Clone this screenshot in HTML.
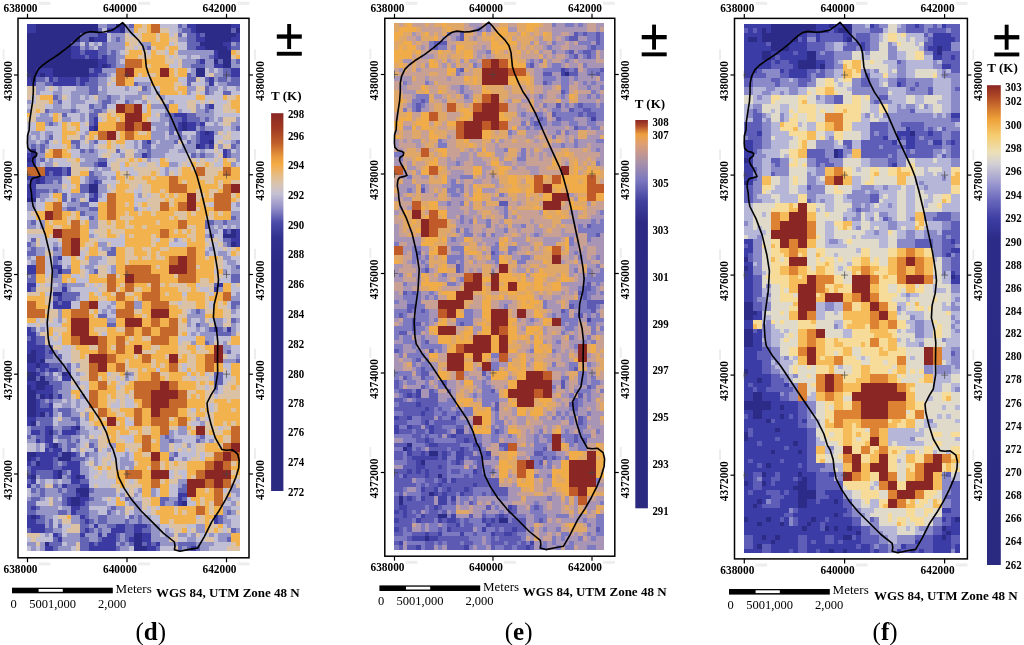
<!DOCTYPE html>
<html><head><meta charset="utf-8"><style>
html,body{margin:0;padding:0;background:#fff;}
svg{display:block;}
.b{font-family:'Liberation Serif','Times New Roman',serif;font-weight:bold;font-size:12px;fill:#000;}
.r{font-family:'Liberation Serif','Times New Roman',serif;font-size:12px;fill:#000;}
</style></head><body>
<svg width="1024" height="645" viewBox="0 0 1024 645">
<rect width="1024" height="645" fill="#fff"/>
<rect x="18.0" y="18.3" width="231.00" height="539.50" fill="#fff" stroke="#000" stroke-width="1.5"/>
<g transform="translate(26.8 23.7) scale(4.4479 4.4653)" shape-rendering="crispEdges">
<path fill="#2c2c88" d="M2 0h14v1h-14zM20 0h2v1h-2zM38 0h8v1h-8zM2 1h14v1h-14zM21 1h1v1h-1zM38 1h8v1h-8zM47 1h1v1h-1zM0 2h12v1h-12zM40 2h7v1h-7zM0 3h12v1h-12zM14 3h1v1h-1zM40 3h6v1h-6zM0 4h10v1h-10zM39 4h5v1h-5zM0 5h10v1h-10zM40 5h5v1h-5zM0 6h10v1h-10zM43 6h3v1h-3zM0 7h10v1h-10zM43 7h3v1h-3zM0 8h16v1h-16zM42 8h1v1h-1zM44 8h2v1h-2zM0 9h16v1h-16zM17 9h1v1h-1zM44 9h2v1h-2zM0 10h2v1h-2zM6 10h8v1h-8zM38 10h2v1h-2zM0 11h2v1h-2zM3 11h1v1h-1zM6 11h8v1h-8zM38 11h2v1h-2zM1 12h1v1h-1zM35 22h1v1h-1zM15 23h1v1h-1zM35 23h1v1h-1zM40 24h1v1h-1zM41 26h1v1h-1zM38 27h1v1h-1zM1 28h1v1h-1zM1 29h1v1h-1zM0 30h1v1h-1zM2 34h1v1h-1zM2 35h1v1h-1zM14 36h2v1h-2zM14 37h2v1h-2zM0 39h2v1h-2zM46 46h1v1h-1zM44 47h3v1h-3zM46 49h1v1h-1zM7 55h1v1h-1zM6 60h2v1h-2zM1 73h1v1h-1zM0 74h2v1h-2zM0 75h2v1h-2zM3 75h1v1h-1zM2 76h1v1h-1zM0 78h2v1h-2zM8 78h1v1h-1zM0 79h2v1h-2zM3 79h1v1h-1zM2 80h3v1h-3zM0 81h1v1h-1zM2 81h2v1h-2zM0 82h2v1h-2zM0 83h2v1h-2zM3 83h1v1h-1zM5 83h1v1h-1zM0 84h2v1h-2zM0 85h2v1h-2zM0 86h2v1h-2zM0 87h2v1h-2zM3 87h1v1h-1zM1 89h1v1h-1zM11 90h1v1h-1zM5 91h1v1h-1zM6 94h1v1h-1zM0 96h2v1h-2zM8 96h2v1h-2zM0 97h1v1h-1zM7 97h3v1h-3zM2 98h1v1h-1zM7 100h1v1h-1zM1 101h1v1h-1zM7 101h1v1h-1zM11 101h1v1h-1zM11 104h3v1h-3zM12 105h2v1h-2zM10 106h2v1h-2zM10 107h2v1h-2zM35 107h1v1h-1zM1 110h1v1h-1zM24 114h2v1h-2zM24 115h2v1h-2zM4 116h1v1h-1zM24 116h2v1h-2zM24 117h3v1h-3z"/>
<path fill="#3a3aa2" d="M0 0h2v1h-2zM36 0h2v1h-2zM46 0h2v1h-2zM0 1h2v1h-2zM18 1h3v1h-3zM37 1h1v1h-1zM16 2h2v1h-2zM38 2h1v1h-1zM47 2h1v1h-1zM15 3h3v1h-3zM38 3h2v1h-2zM46 3h2v1h-2zM44 4h2v1h-2zM10 5h2v1h-2zM38 5h2v1h-2zM45 5h1v1h-1zM10 6h2v1h-2zM13 6h3v1h-3zM42 6h1v1h-1zM10 7h3v1h-3zM14 7h2v1h-2zM17 7h1v1h-1zM42 7h1v1h-1zM16 8h2v1h-2zM39 8h1v1h-1zM16 9h1v1h-1zM18 9h1v1h-1zM42 9h2v1h-2zM2 10h4v1h-4zM15 10h2v1h-2zM46 10h2v1h-2zM2 11h1v1h-1zM4 11h2v1h-2zM14 11h2v1h-2zM46 11h2v1h-2zM0 12h1v1h-1zM5 12h1v1h-1zM7 12h4v1h-4zM12 12h2v1h-2zM41 12h1v1h-1zM0 13h2v1h-2zM6 13h5v1h-5zM12 13h1v1h-1zM41 13h1v1h-1zM41 18h1v1h-1zM33 20h3v1h-3zM15 21h1v1h-1zM35 21h1v1h-1zM15 22h1v1h-1zM34 22h1v1h-1zM36 22h2v1h-2zM39 22h1v1h-1zM14 23h1v1h-1zM34 23h1v1h-1zM36 23h2v1h-2zM39 24h1v1h-1zM41 24h1v1h-1zM39 25h3v1h-3zM27 26h1v1h-1zM39 26h2v1h-2zM39 27h1v1h-1zM41 27h1v1h-1zM44 28h1v1h-1zM0 29h1v1h-1zM26 29h1v1h-1zM44 29h1v1h-1zM1 30h1v1h-1zM0 31h2v1h-2zM16 31h2v1h-2zM4 32h4v1h-4zM9 32h1v1h-1zM4 33h1v1h-1zM6 33h2v1h-2zM9 33h1v1h-1zM0 34h2v1h-2zM3 34h1v1h-1zM1 35h1v1h-1zM3 35h1v1h-1zM15 35h1v1h-1zM0 36h2v1h-2zM0 37h2v1h-2zM0 38h2v1h-2zM15 38h1v1h-1zM14 39h2v1h-2zM44 46h1v1h-1zM47 46h1v1h-1zM47 47h1v1h-1zM46 48h2v1h-2zM47 49h1v1h-1zM7 52h1v1h-1zM0 54h2v1h-2zM6 54h2v1h-2zM0 55h2v1h-2zM0 58h2v1h-2zM43 58h1v1h-1zM0 59h1v1h-1zM8 59h1v1h-1zM42 59h1v1h-1zM7 61h1v1h-1zM6 62h1v1h-1zM8 62h2v1h-2zM6 63h4v1h-4zM0 68h1v1h-1zM42 68h1v1h-1zM45 68h1v1h-1zM0 69h2v1h-2zM1 70h1v1h-1zM0 71h2v1h-2zM0 72h4v1h-4zM0 73h1v1h-1zM2 73h2v1h-2zM5 73h1v1h-1zM2 74h2v1h-2zM2 75h1v1h-1zM0 76h2v1h-2zM3 76h2v1h-2zM0 77h2v1h-2zM3 77h1v1h-1zM5 77h2v1h-2zM2 78h1v1h-1zM9 78h1v1h-1zM8 79h2v1h-2zM0 80h2v1h-2zM1 81h1v1h-1zM4 81h2v1h-2zM2 82h4v1h-4zM4 83h1v1h-1zM7 83h1v1h-1zM2 84h1v1h-1zM2 85h1v1h-1zM5 85h1v1h-1zM2 86h4v1h-4zM2 87h1v1h-1zM5 87h1v1h-1zM0 88h2v1h-2zM0 89h1v1h-1zM4 90h2v1h-2zM10 90h1v1h-1zM1 91h2v1h-2zM4 91h1v1h-1zM8 91h3v1h-3zM4 92h2v1h-2zM2 93h1v1h-1zM4 93h2v1h-2zM5 94h1v1h-1zM4 95h1v1h-1zM6 95h2v1h-2zM2 96h5v1h-5zM10 96h1v1h-1zM1 97h1v1h-1zM3 97h3v1h-3zM0 98h1v1h-1zM3 98h3v1h-3zM9 98h3v1h-3zM1 99h5v1h-5zM8 99h4v1h-4zM1 100h1v1h-1zM6 100h1v1h-1zM10 100h2v1h-2zM0 101h1v1h-1zM6 101h1v1h-1zM10 101h1v1h-1zM12 101h1v1h-1zM1 102h1v1h-1zM10 102h2v1h-2zM0 103h1v1h-1zM8 103h1v1h-1zM12 103h2v1h-2zM11 105h1v1h-1zM34 105h2v1h-2zM9 106h1v1h-1zM12 106h2v1h-2zM34 106h1v1h-1zM9 107h1v1h-1zM12 107h1v1h-1zM34 107h1v1h-1zM1 108h1v1h-1zM10 108h2v1h-2zM10 109h1v1h-1zM0 110h1v1h-1zM2 110h1v1h-1zM12 110h1v1h-1zM42 110h1v1h-1zM0 111h2v1h-2zM13 111h1v1h-1zM42 111h1v1h-1zM0 112h4v1h-4zM15 112h1v1h-1zM20 112h2v1h-2zM24 112h3v1h-3zM1 113h3v1h-3zM13 113h1v1h-1zM19 113h3v1h-3zM24 113h2v1h-2zM6 114h1v1h-1zM12 114h1v1h-1zM16 114h1v1h-1zM18 114h2v1h-2zM26 114h2v1h-2zM7 115h1v1h-1zM17 115h3v1h-3zM23 115h1v1h-1zM26 115h2v1h-2zM14 116h1v1h-1zM16 116h4v1h-4zM27 116h1v1h-1zM29 116h1v1h-1zM4 117h2v1h-2zM14 117h6v1h-6zM27 117h2v1h-2zM37 117h1v1h-1z"/>
<path fill="#6464b4" d="M18 0h2v1h-2zM23 0h1v1h-1zM34 0h1v1h-1zM16 1h1v1h-1zM35 1h2v1h-2zM46 1h1v1h-1zM12 2h4v1h-4zM34 2h1v1h-1zM36 2h2v1h-2zM39 2h1v1h-1zM12 3h2v1h-2zM20 3h1v1h-1zM36 3h2v1h-2zM10 4h2v1h-2zM13 4h1v1h-1zM17 4h1v1h-1zM36 4h3v1h-3zM47 4h1v1h-1zM13 5h1v1h-1zM16 5h2v1h-2zM27 5h1v1h-1zM36 5h2v1h-2zM46 5h2v1h-2zM12 6h1v1h-1zM16 6h2v1h-2zM19 6h1v1h-1zM13 7h1v1h-1zM16 7h1v1h-1zM18 7h2v1h-2zM41 7h1v1h-1zM18 8h2v1h-2zM38 8h1v1h-1zM43 8h1v1h-1zM47 8h1v1h-1zM19 9h1v1h-1zM37 9h3v1h-3zM14 10h1v1h-1zM44 10h2v1h-2zM16 11h2v1h-2zM36 11h1v1h-1zM44 11h2v1h-2zM2 12h2v1h-2zM6 12h1v1h-1zM11 12h1v1h-1zM14 12h2v1h-2zM36 12h2v1h-2zM40 12h1v1h-1zM43 12h2v1h-2zM46 12h2v1h-2zM4 13h2v1h-2zM11 13h1v1h-1zM13 13h3v1h-3zM24 13h1v1h-1zM36 13h1v1h-1zM45 13h3v1h-3zM14 14h2v1h-2zM26 14h1v1h-1zM40 14h1v1h-1zM14 15h2v1h-2zM40 15h1v1h-1zM44 15h2v1h-2zM6 16h1v1h-1zM18 16h1v1h-1zM7 17h1v1h-1zM17 17h2v1h-2zM22 17h1v1h-1zM14 18h1v1h-1zM17 18h1v1h-1zM31 18h1v1h-1zM40 18h1v1h-1zM4 19h1v1h-1zM10 19h1v1h-1zM15 19h2v1h-2zM40 19h1v1h-1zM8 20h1v1h-1zM14 20h2v1h-2zM31 20h2v1h-2zM36 20h2v1h-2zM14 21h1v1h-1zM32 21h3v1h-3zM36 21h3v1h-3zM40 21h1v1h-1zM5 22h1v1h-1zM14 22h1v1h-1zM32 22h2v1h-2zM38 22h1v1h-1zM32 23h2v1h-2zM39 23h1v1h-1zM47 23h1v1h-1zM32 24h1v1h-1zM34 24h1v1h-1zM38 24h1v1h-1zM5 25h1v1h-1zM34 25h1v1h-1zM38 25h1v1h-1zM4 26h1v1h-1zM10 26h2v1h-2zM15 26h1v1h-1zM26 26h1v1h-1zM33 26h1v1h-1zM36 26h1v1h-1zM38 26h1v1h-1zM47 26h1v1h-1zM1 27h1v1h-1zM3 27h1v1h-1zM11 27h1v1h-1zM26 27h2v1h-2zM40 27h1v1h-1zM46 27h1v1h-1zM0 28h1v1h-1zM3 28h1v1h-1zM12 28h1v1h-1zM14 28h1v1h-1zM20 28h1v1h-1zM27 28h1v1h-1zM45 28h1v1h-1zM27 29h1v1h-1zM37 29h1v1h-1zM39 29h1v1h-1zM45 29h1v1h-1zM3 30h1v1h-1zM16 30h2v1h-2zM15 31h1v1h-1zM8 32h1v1h-1zM5 33h1v1h-1zM8 33h1v1h-1zM14 33h1v1h-1zM4 34h4v1h-4zM14 34h2v1h-2zM0 35h1v1h-1zM4 35h2v1h-2zM7 35h1v1h-1zM14 35h1v1h-1zM16 35h1v1h-1zM12 36h2v1h-2zM2 37h3v1h-3zM6 37h1v1h-1zM12 37h2v1h-2zM2 38h1v1h-1zM8 38h1v1h-1zM14 38h1v1h-1zM8 39h1v1h-1zM10 39h1v1h-1zM12 40h2v1h-2zM9 41h2v1h-2zM14 41h2v1h-2zM12 42h1v1h-1zM14 43h1v1h-1zM46 43h1v1h-1zM1 44h1v1h-1zM40 44h2v1h-2zM44 44h1v1h-1zM40 45h1v1h-1zM45 46h1v1h-1zM41 47h1v1h-1zM1 48h1v1h-1zM44 48h2v1h-2zM0 49h1v1h-1zM45 49h1v1h-1zM1 50h1v1h-1zM6 50h1v1h-1zM19 50h1v1h-1zM0 51h2v1h-2zM18 51h2v1h-2zM6 52h1v1h-1zM6 53h1v1h-1zM47 54h1v1h-1zM6 55h1v1h-1zM8 55h2v1h-2zM15 55h1v1h-1zM1 56h1v1h-1zM6 56h1v1h-1zM46 56h2v1h-2zM0 57h2v1h-2zM46 57h2v1h-2zM8 58h1v1h-1zM42 58h1v1h-1zM1 59h1v1h-1zM8 60h4v1h-4zM6 61h1v1h-1zM8 61h3v1h-3zM7 62h1v1h-1zM46 62h2v1h-2zM46 63h1v1h-1zM38 64h1v1h-1zM16 65h2v1h-2zM46 66h1v1h-1zM18 67h2v1h-2zM38 67h1v1h-1zM1 68h1v1h-1zM41 68h1v1h-1zM43 68h1v1h-1zM43 69h3v1h-3zM0 70h1v1h-1zM2 70h2v1h-2zM2 71h2v1h-2zM40 71h1v1h-1zM4 72h2v1h-2zM4 73h1v1h-1zM45 73h1v1h-1zM4 74h2v1h-2zM7 74h1v1h-1zM47 75h1v1h-1zM5 76h3v1h-3zM9 76h1v1h-1zM2 77h1v1h-1zM4 77h1v1h-1zM7 77h1v1h-1zM9 77h1v1h-1zM3 78h1v1h-1zM5 78h1v1h-1zM42 78h2v1h-2zM2 79h1v1h-1zM4 79h2v1h-2zM42 79h2v1h-2zM5 80h3v1h-3zM42 80h2v1h-2zM6 81h2v1h-2zM42 81h1v1h-1zM6 82h1v1h-1zM2 83h1v1h-1zM6 83h1v1h-1zM3 84h1v1h-1zM5 84h1v1h-1zM3 85h2v1h-2zM7 86h3v1h-3zM4 87h1v1h-1zM8 87h2v1h-2zM2 88h4v1h-4zM10 88h2v1h-2zM3 89h3v1h-3zM11 89h1v1h-1zM1 90h3v1h-3zM8 90h2v1h-2zM3 91h1v1h-1zM6 91h1v1h-1zM11 91h1v1h-1zM0 92h1v1h-1zM2 92h2v1h-2zM7 92h3v1h-3zM31 92h1v1h-1zM39 92h1v1h-1zM3 93h1v1h-1zM9 93h1v1h-1zM11 93h1v1h-1zM32 93h1v1h-1zM38 93h1v1h-1zM4 94h1v1h-1zM7 94h1v1h-1zM9 94h2v1h-2zM14 94h1v1h-1zM5 95h1v1h-1zM9 95h1v1h-1zM15 95h1v1h-1zM7 96h1v1h-1zM11 96h1v1h-1zM13 96h1v1h-1zM33 96h1v1h-1zM2 97h1v1h-1zM6 97h1v1h-1zM10 97h3v1h-3zM32 97h1v1h-1zM1 98h1v1h-1zM6 98h1v1h-1zM8 98h1v1h-1zM0 99h1v1h-1zM6 99h2v1h-2zM0 100h1v1h-1zM2 100h4v1h-4zM8 100h1v1h-1zM3 101h3v1h-3zM9 101h1v1h-1zM0 102h1v1h-1zM12 102h2v1h-2zM2 103h1v1h-1zM6 103h1v1h-1zM9 103h3v1h-3zM35 103h1v1h-1zM1 104h1v1h-1zM3 104h1v1h-1zM7 104h1v1h-1zM9 104h2v1h-2zM14 104h1v1h-1zM34 104h2v1h-2zM3 105h1v1h-1zM8 105h3v1h-3zM1 106h2v1h-2zM8 106h1v1h-1zM14 106h1v1h-1zM22 106h1v1h-1zM30 106h2v1h-2zM35 106h1v1h-1zM0 107h2v1h-2zM8 107h1v1h-1zM13 107h1v1h-1zM30 107h1v1h-1zM33 107h1v1h-1zM0 108h1v1h-1zM2 108h1v1h-1zM12 108h2v1h-2zM19 108h1v1h-1zM0 109h2v1h-2zM7 109h2v1h-2zM11 109h3v1h-3zM18 109h1v1h-1zM45 109h1v1h-1zM3 110h1v1h-1zM13 110h1v1h-1zM16 110h2v1h-2zM23 110h1v1h-1zM25 110h1v1h-1zM43 110h1v1h-1zM2 111h2v1h-2zM5 111h1v1h-1zM12 111h1v1h-1zM14 111h1v1h-1zM16 111h2v1h-2zM22 111h1v1h-1zM25 111h1v1h-1zM43 111h1v1h-1zM5 112h1v1h-1zM7 112h1v1h-1zM12 112h2v1h-2zM18 112h2v1h-2zM22 112h2v1h-2zM27 112h1v1h-1zM0 113h1v1h-1zM4 113h2v1h-2zM12 113h1v1h-1zM14 113h1v1h-1zM16 113h1v1h-1zM22 113h2v1h-2zM26 113h2v1h-2zM46 113h1v1h-1zM7 114h1v1h-1zM20 114h1v1h-1zM22 114h2v1h-2zM6 115h1v1h-1zM12 115h2v1h-2zM16 115h1v1h-1zM20 115h1v1h-1zM22 115h1v1h-1zM45 115h1v1h-1zM5 116h3v1h-3zM12 116h2v1h-2zM15 116h1v1h-1zM21 116h1v1h-1zM23 116h1v1h-1zM26 116h1v1h-1zM28 116h1v1h-1zM34 116h4v1h-4zM6 117h1v1h-1zM12 117h2v1h-2zM20 117h1v1h-1zM29 117h1v1h-1zM34 117h1v1h-1zM36 117h1v1h-1zM38 117h1v1h-1z"/>
<path fill="#9494c6" d="M16 0h2v1h-2zM22 0h1v1h-1zM35 0h1v1h-1zM22 1h2v1h-2zM34 1h1v1h-1zM19 2h3v1h-3zM19 3h1v1h-1zM21 3h1v1h-1zM34 3h2v1h-2zM15 4h1v1h-1zM18 4h4v1h-4zM26 4h2v1h-2zM46 4h1v1h-1zM12 5h1v1h-1zM14 5h1v1h-1zM18 5h4v1h-4zM26 5h1v1h-1zM18 6h1v1h-1zM20 6h1v1h-1zM34 6h8v1h-8zM20 7h2v1h-2zM36 7h1v1h-1zM39 7h2v1h-2zM20 8h1v1h-1zM35 8h3v1h-3zM40 8h2v1h-2zM46 8h1v1h-1zM20 9h2v1h-2zM35 9h2v1h-2zM40 9h2v1h-2zM46 9h2v1h-2zM17 10h3v1h-3zM37 10h1v1h-1zM41 10h1v1h-1zM43 10h1v1h-1zM18 11h1v1h-1zM37 11h1v1h-1zM42 11h2v1h-2zM4 12h1v1h-1zM16 12h2v1h-2zM42 12h1v1h-1zM45 12h1v1h-1zM2 13h2v1h-2zM16 13h2v1h-2zM25 13h3v1h-3zM40 13h1v1h-1zM43 13h2v1h-2zM2 14h2v1h-2zM7 14h1v1h-1zM11 14h3v1h-3zM17 14h1v1h-1zM22 14h1v1h-1zM27 14h1v1h-1zM36 14h2v1h-2zM41 14h2v1h-2zM44 14h1v1h-1zM47 14h1v1h-1zM2 15h1v1h-1zM6 15h2v1h-2zM10 15h4v1h-4zM16 15h2v1h-2zM25 15h3v1h-3zM29 15h1v1h-1zM36 15h1v1h-1zM41 15h1v1h-1zM7 16h1v1h-1zM10 16h2v1h-2zM13 16h1v1h-1zM16 16h2v1h-2zM19 16h2v1h-2zM22 16h4v1h-4zM30 16h1v1h-1zM0 17h1v1h-1zM6 17h1v1h-1zM10 17h3v1h-3zM16 17h1v1h-1zM19 17h1v1h-1zM23 17h1v1h-1zM26 17h1v1h-1zM32 17h1v1h-1zM6 18h2v1h-2zM10 18h1v1h-1zM15 18h2v1h-2zM28 18h3v1h-3zM38 18h1v1h-1zM0 19h1v1h-1zM5 19h5v1h-5zM11 19h1v1h-1zM14 19h1v1h-1zM17 19h1v1h-1zM31 19h1v1h-1zM34 19h1v1h-1zM38 19h2v1h-2zM41 19h1v1h-1zM3 20h2v1h-2zM12 20h1v1h-1zM30 20h1v1h-1zM38 20h4v1h-4zM2 21h4v1h-4zM8 21h2v1h-2zM12 21h1v1h-1zM30 21h2v1h-2zM39 21h1v1h-1zM41 21h1v1h-1zM43 21h1v1h-1zM47 21h1v1h-1zM4 22h1v1h-1zM6 22h1v1h-1zM28 22h3v1h-3zM42 22h1v1h-1zM46 22h2v1h-2zM29 23h3v1h-3zM38 23h1v1h-1zM40 23h4v1h-4zM46 23h1v1h-1zM1 24h2v1h-2zM4 24h2v1h-2zM13 24h1v1h-1zM28 24h3v1h-3zM42 24h1v1h-1zM0 25h1v1h-1zM2 25h1v1h-1zM4 25h1v1h-1zM12 25h1v1h-1zM28 25h3v1h-3zM32 25h2v1h-2zM35 25h1v1h-1zM37 25h1v1h-1zM0 26h2v1h-2zM3 26h1v1h-1zM14 26h1v1h-1zM24 26h1v1h-1zM28 26h1v1h-1zM30 26h3v1h-3zM37 26h1v1h-1zM46 26h1v1h-1zM0 27h1v1h-1zM2 27h1v1h-1zM4 27h1v1h-1zM10 27h1v1h-1zM14 27h1v1h-1zM24 27h1v1h-1zM29 27h4v1h-4zM35 27h3v1h-3zM43 27h1v1h-1zM47 27h1v1h-1zM2 28h1v1h-1zM13 28h1v1h-1zM15 28h1v1h-1zM25 28h2v1h-2zM28 28h4v1h-4zM34 28h4v1h-4zM39 28h1v1h-1zM47 28h1v1h-1zM2 29h2v1h-2zM12 29h4v1h-4zM21 29h1v1h-1zM24 29h2v1h-2zM28 29h3v1h-3zM38 29h1v1h-1zM40 29h2v1h-2zM46 29h2v1h-2zM2 30h1v1h-1zM5 30h1v1h-1zM13 30h3v1h-3zM27 30h1v1h-1zM47 30h1v1h-1zM2 31h1v1h-1zM4 31h2v1h-2zM12 31h3v1h-3zM32 31h2v1h-2zM46 31h1v1h-1zM15 32h1v1h-1zM17 32h2v1h-2zM31 32h1v1h-1zM15 33h2v1h-2zM31 33h1v1h-1zM13 34h1v1h-1zM16 34h2v1h-2zM19 34h1v1h-1zM6 35h1v1h-1zM13 35h1v1h-1zM2 36h6v1h-6zM16 36h2v1h-2zM5 37h1v1h-1zM7 37h1v1h-1zM16 37h2v1h-2zM3 38h2v1h-2zM10 38h3v1h-3zM16 38h1v1h-1zM25 38h1v1h-1zM3 39h1v1h-1zM11 39h1v1h-1zM0 40h2v1h-2zM9 40h3v1h-3zM47 40h1v1h-1zM0 41h2v1h-2zM8 41h1v1h-1zM11 41h3v1h-3zM24 41h1v1h-1zM13 42h3v1h-3zM46 42h2v1h-2zM15 43h1v1h-1zM47 43h1v1h-1zM0 44h1v1h-1zM3 44h1v1h-1zM14 44h2v1h-2zM42 44h2v1h-2zM45 44h3v1h-3zM0 45h2v1h-2zM3 45h1v1h-1zM14 45h2v1h-2zM41 45h1v1h-1zM43 45h1v1h-1zM45 45h1v1h-1zM47 45h1v1h-1zM41 46h2v1h-2zM14 47h1v1h-1zM40 47h1v1h-1zM33 48h1v1h-1zM1 49h1v1h-1zM6 49h1v1h-1zM16 49h2v1h-2zM44 49h1v1h-1zM0 50h1v1h-1zM2 50h2v1h-2zM7 50h1v1h-1zM17 50h2v1h-2zM41 50h1v1h-1zM2 51h2v1h-2zM6 51h2v1h-2zM40 51h1v1h-1zM43 51h2v1h-2zM0 52h1v1h-1zM14 52h3v1h-3zM44 52h2v1h-2zM1 53h1v1h-1zM7 53h1v1h-1zM14 53h2v1h-2zM45 53h2v1h-2zM9 54h1v1h-1zM13 54h2v1h-2zM19 54h1v1h-1zM46 54h1v1h-1zM14 55h1v1h-1zM19 55h1v1h-1zM44 55h1v1h-1zM46 55h2v1h-2zM0 56h1v1h-1zM7 56h1v1h-1zM6 57h2v1h-2zM7 58h1v1h-1zM9 58h4v1h-4zM6 59h2v1h-2zM9 59h1v1h-1zM43 59h1v1h-1zM47 60h1v1h-1zM11 61h1v1h-1zM46 61h2v1h-2zM19 62h1v1h-1zM24 62h2v1h-2zM18 63h1v1h-1zM24 63h2v1h-2zM47 63h1v1h-1zM7 64h1v1h-1zM17 64h1v1h-1zM19 64h1v1h-1zM37 64h1v1h-1zM39 64h1v1h-1zM46 64h1v1h-1zM7 65h1v1h-1zM36 65h4v1h-4zM7 66h1v1h-1zM18 66h2v1h-2zM36 66h1v1h-1zM39 66h1v1h-1zM42 66h2v1h-2zM47 66h1v1h-1zM36 67h1v1h-1zM39 67h2v1h-2zM42 67h2v1h-2zM46 67h1v1h-1zM3 68h1v1h-1zM38 68h1v1h-1zM40 68h1v1h-1zM44 68h1v1h-1zM46 68h1v1h-1zM2 69h1v1h-1zM37 69h1v1h-1zM39 69h4v1h-4zM46 69h1v1h-1zM40 70h2v1h-2zM37 71h1v1h-1zM41 71h1v1h-1zM44 71h1v1h-1zM44 72h2v1h-2zM6 73h1v1h-1zM44 73h1v1h-1zM6 74h1v1h-1zM47 74h1v1h-1zM4 75h4v1h-4zM44 75h3v1h-3zM8 76h1v1h-1zM11 76h1v1h-1zM8 77h1v1h-1zM4 78h1v1h-1zM7 78h1v1h-1zM11 78h1v1h-1zM22 78h2v1h-2zM6 79h1v1h-1zM22 79h1v1h-1zM8 80h2v1h-2zM11 80h1v1h-1zM8 81h2v1h-2zM7 82h3v1h-3zM42 82h1v1h-1zM8 83h2v1h-2zM12 83h1v1h-1zM4 84h1v1h-1zM6 84h2v1h-2zM9 84h1v1h-1zM11 84h1v1h-1zM8 85h2v1h-2zM11 85h1v1h-1zM6 86h1v1h-1zM10 86h1v1h-1zM6 87h1v1h-1zM10 87h2v1h-2zM13 87h1v1h-1zM8 88h2v1h-2zM13 88h1v1h-1zM38 88h1v1h-1zM2 89h1v1h-1zM7 89h4v1h-4zM39 89h1v1h-1zM0 90h1v1h-1zM6 90h2v1h-2zM12 90h1v1h-1zM15 90h1v1h-1zM34 90h2v1h-2zM0 91h1v1h-1zM7 91h1v1h-1zM12 91h2v1h-2zM32 91h1v1h-1zM34 91h2v1h-2zM1 92h1v1h-1zM6 92h1v1h-1zM10 92h2v1h-2zM13 92h1v1h-1zM30 92h1v1h-1zM32 92h1v1h-1zM38 92h1v1h-1zM0 93h2v1h-2zM7 93h2v1h-2zM10 93h1v1h-1zM14 93h2v1h-2zM30 93h2v1h-2zM33 93h2v1h-2zM39 93h1v1h-1zM41 93h1v1h-1zM2 94h1v1h-1zM8 94h1v1h-1zM11 94h1v1h-1zM15 94h1v1h-1zM19 94h1v1h-1zM30 94h2v1h-2zM36 94h1v1h-1zM2 95h1v1h-1zM8 95h1v1h-1zM11 95h1v1h-1zM18 95h1v1h-1zM30 95h2v1h-2zM14 96h2v1h-2zM22 96h1v1h-1zM32 96h1v1h-1zM13 97h1v1h-1zM15 97h1v1h-1zM21 97h2v1h-2zM35 97h1v1h-1zM7 98h1v1h-1zM12 98h1v1h-1zM15 98h1v1h-1zM21 98h3v1h-3zM12 99h2v1h-2zM21 99h1v1h-1zM23 99h1v1h-1zM9 100h1v1h-1zM12 100h2v1h-2zM2 101h1v1h-1zM8 101h1v1h-1zM13 101h1v1h-1zM3 102h1v1h-1zM6 102h1v1h-1zM8 102h2v1h-2zM34 102h2v1h-2zM1 103h1v1h-1zM3 103h1v1h-1zM7 103h1v1h-1zM34 103h1v1h-1zM46 103h1v1h-1zM2 104h1v1h-1zM4 104h3v1h-3zM8 104h1v1h-1zM15 104h5v1h-5zM25 104h1v1h-1zM28 104h1v1h-1zM46 104h2v1h-2zM1 105h2v1h-2zM4 105h4v1h-4zM14 105h6v1h-6zM21 105h1v1h-1zM24 105h1v1h-1zM28 105h1v1h-1zM47 105h1v1h-1zM0 106h1v1h-1zM3 106h1v1h-1zM6 106h1v1h-1zM15 106h2v1h-2zM23 106h1v1h-1zM32 106h2v1h-2zM45 106h1v1h-1zM6 107h2v1h-2zM14 107h4v1h-4zM23 107h3v1h-3zM31 107h2v1h-2zM46 107h1v1h-1zM3 108h4v1h-4zM8 108h2v1h-2zM18 108h1v1h-1zM20 108h2v1h-2zM24 108h2v1h-2zM44 108h2v1h-2zM2 109h5v1h-5zM9 109h1v1h-1zM14 109h2v1h-2zM19 109h1v1h-1zM21 109h1v1h-1zM24 109h2v1h-2zM44 109h1v1h-1zM46 109h1v1h-1zM4 110h2v1h-2zM10 110h2v1h-2zM14 110h2v1h-2zM18 110h4v1h-4zM24 110h1v1h-1zM26 110h2v1h-2zM44 110h1v1h-1zM4 111h1v1h-1zM7 111h1v1h-1zM10 111h2v1h-2zM15 111h1v1h-1zM18 111h4v1h-4zM23 111h2v1h-2zM26 111h2v1h-2zM44 111h2v1h-2zM4 112h1v1h-1zM14 112h1v1h-1zM16 112h2v1h-2zM28 112h2v1h-2zM38 112h2v1h-2zM45 112h1v1h-1zM6 113h2v1h-2zM15 113h1v1h-1zM17 113h2v1h-2zM28 113h2v1h-2zM31 113h1v1h-1zM38 113h2v1h-2zM47 113h1v1h-1zM4 114h1v1h-1zM9 114h3v1h-3zM13 114h3v1h-3zM17 114h1v1h-1zM21 114h1v1h-1zM28 114h2v1h-2zM31 114h2v1h-2zM34 114h2v1h-2zM37 114h1v1h-1zM41 114h1v1h-1zM43 114h3v1h-3zM8 115h4v1h-4zM14 115h2v1h-2zM21 115h1v1h-1zM28 115h4v1h-4zM36 115h2v1h-2zM43 115h2v1h-2zM0 116h2v1h-2zM3 116h1v1h-1zM9 116h2v1h-2zM20 116h1v1h-1zM22 116h1v1h-1zM30 116h4v1h-4zM38 116h4v1h-4zM1 117h1v1h-1zM3 117h1v1h-1zM7 117h3v1h-3zM21 117h2v1h-2zM35 117h1v1h-1zM39 117h2v1h-2z"/>
<path fill="#c0bed4" d="M30 0h4v1h-4zM17 1h1v1h-1zM32 1h2v1h-2zM18 2h1v1h-1zM23 2h2v1h-2zM32 2h1v1h-1zM35 2h1v1h-1zM18 3h1v1h-1zM12 4h1v1h-1zM14 4h1v1h-1zM16 4h1v1h-1zM25 4h1v1h-1zM32 4h1v1h-1zM34 4h2v1h-2zM15 5h1v1h-1zM24 5h1v1h-1zM34 5h2v1h-2zM21 6h1v1h-1zM27 6h1v1h-1zM31 6h1v1h-1zM32 7h1v1h-1zM34 7h2v1h-2zM37 7h2v1h-2zM21 8h1v1h-1zM33 8h1v1h-1zM32 9h2v1h-2zM36 10h1v1h-1zM40 10h1v1h-1zM42 10h1v1h-1zM19 11h1v1h-1zM40 11h1v1h-1zM18 12h1v1h-1zM24 12h4v1h-4zM34 12h2v1h-2zM39 12h1v1h-1zM19 13h1v1h-1zM35 13h1v1h-1zM37 13h3v1h-3zM42 13h1v1h-1zM4 14h1v1h-1zM6 14h1v1h-1zM8 14h3v1h-3zM16 14h1v1h-1zM18 14h4v1h-4zM23 14h2v1h-2zM28 14h2v1h-2zM43 14h1v1h-1zM45 14h2v1h-2zM3 15h3v1h-3zM8 15h2v1h-2zM18 15h7v1h-7zM28 15h1v1h-1zM37 15h1v1h-1zM39 15h1v1h-1zM42 15h2v1h-2zM46 15h2v1h-2zM1 16h1v1h-1zM9 16h1v1h-1zM12 16h1v1h-1zM14 16h1v1h-1zM21 16h1v1h-1zM27 16h2v1h-2zM31 16h7v1h-7zM40 16h4v1h-4zM1 17h1v1h-1zM8 17h2v1h-2zM13 17h3v1h-3zM20 17h2v1h-2zM24 17h2v1h-2zM28 17h2v1h-2zM31 17h1v1h-1zM33 17h3v1h-3zM38 17h1v1h-1zM40 17h1v1h-1zM42 17h3v1h-3zM0 18h1v1h-1zM4 18h2v1h-2zM8 18h2v1h-2zM11 18h3v1h-3zM18 18h2v1h-2zM26 18h1v1h-1zM34 18h2v1h-2zM39 18h1v1h-1zM42 18h2v1h-2zM12 19h2v1h-2zM26 19h1v1h-1zM28 19h3v1h-3zM35 19h2v1h-2zM42 19h2v1h-2zM2 20h1v1h-1zM5 20h1v1h-1zM9 20h3v1h-3zM13 20h1v1h-1zM28 20h1v1h-1zM42 20h6v1h-6zM10 21h2v1h-2zM13 21h1v1h-1zM16 21h1v1h-1zM28 21h2v1h-2zM42 21h1v1h-1zM0 22h2v1h-2zM7 22h1v1h-1zM12 22h1v1h-1zM31 22h1v1h-1zM40 22h2v1h-2zM43 22h1v1h-1zM0 23h2v1h-2zM4 23h4v1h-4zM12 23h2v1h-2zM28 23h1v1h-1zM44 23h2v1h-2zM0 24h1v1h-1zM3 24h1v1h-1zM6 24h2v1h-2zM12 24h1v1h-1zM31 24h1v1h-1zM33 24h1v1h-1zM35 24h3v1h-3zM44 24h1v1h-1zM46 24h2v1h-2zM1 25h1v1h-1zM3 25h1v1h-1zM6 25h2v1h-2zM31 25h1v1h-1zM36 25h1v1h-1zM42 25h2v1h-2zM46 25h2v1h-2zM2 26h1v1h-1zM5 26h1v1h-1zM7 26h1v1h-1zM12 26h1v1h-1zM16 26h2v1h-2zM22 26h2v1h-2zM25 26h1v1h-1zM29 26h1v1h-1zM35 26h1v1h-1zM42 26h1v1h-1zM44 26h2v1h-2zM5 27h3v1h-3zM12 27h2v1h-2zM15 27h1v1h-1zM20 27h1v1h-1zM22 27h2v1h-2zM25 27h1v1h-1zM28 27h1v1h-1zM33 27h2v1h-2zM10 28h2v1h-2zM16 28h2v1h-2zM21 28h1v1h-1zM24 28h1v1h-1zM32 28h2v1h-2zM38 28h1v1h-1zM40 28h2v1h-2zM43 28h1v1h-1zM46 28h1v1h-1zM10 29h2v1h-2zM16 29h1v1h-1zM19 29h2v1h-2zM31 29h6v1h-6zM42 29h1v1h-1zM4 30h1v1h-1zM6 30h3v1h-3zM12 30h1v1h-1zM18 30h2v1h-2zM28 30h2v1h-2zM32 30h4v1h-4zM38 30h1v1h-1zM40 30h2v1h-2zM43 30h1v1h-1zM3 31h1v1h-1zM7 31h3v1h-3zM18 31h1v1h-1zM21 31h1v1h-1zM25 31h2v1h-2zM29 31h1v1h-1zM34 31h1v1h-1zM36 31h1v1h-1zM42 31h2v1h-2zM47 31h1v1h-1zM14 32h1v1h-1zM16 32h1v1h-1zM21 32h3v1h-3zM30 32h1v1h-1zM32 32h2v1h-2zM17 33h3v1h-3zM23 33h2v1h-2zM30 33h1v1h-1zM33 33h1v1h-1zM8 34h1v1h-1zM12 34h1v1h-1zM18 34h1v1h-1zM8 35h2v1h-2zM12 35h1v1h-1zM17 35h3v1h-3zM9 36h1v1h-1zM19 36h1v1h-1zM25 36h1v1h-1zM8 37h2v1h-2zM18 37h1v1h-1zM24 37h2v1h-2zM5 38h1v1h-1zM9 38h1v1h-1zM13 38h1v1h-1zM17 38h1v1h-1zM24 38h1v1h-1zM27 38h1v1h-1zM2 39h1v1h-1zM4 39h2v1h-2zM9 39h1v1h-1zM13 39h1v1h-1zM16 39h2v1h-2zM24 39h3v1h-3zM2 40h2v1h-2zM8 40h1v1h-1zM14 40h2v1h-2zM24 40h1v1h-1zM41 40h1v1h-1zM46 40h1v1h-1zM2 41h2v1h-2zM25 41h1v1h-1zM27 41h1v1h-1zM46 41h2v1h-2zM0 42h1v1h-1zM0 43h2v1h-2zM12 43h2v1h-2zM2 44h1v1h-1zM2 45h1v1h-1zM42 45h1v1h-1zM44 45h1v1h-1zM46 45h1v1h-1zM14 46h1v1h-1zM40 46h1v1h-1zM43 46h1v1h-1zM0 47h4v1h-4zM15 47h1v1h-1zM21 47h1v1h-1zM42 47h2v1h-2zM0 48h1v1h-1zM3 48h4v1h-4zM16 48h6v1h-6zM29 48h1v1h-1zM34 48h1v1h-1zM40 48h1v1h-1zM43 48h1v1h-1zM3 49h3v1h-3zM7 49h1v1h-1zM19 49h3v1h-3zM32 49h4v1h-4zM41 49h2v1h-2zM4 50h2v1h-2zM13 50h1v1h-1zM16 50h1v1h-1zM40 50h1v1h-1zM42 50h2v1h-2zM45 50h1v1h-1zM12 51h1v1h-1zM41 51h2v1h-2zM45 51h1v1h-1zM1 52h1v1h-1zM4 52h2v1h-2zM8 52h2v1h-2zM12 52h1v1h-1zM17 52h1v1h-1zM46 52h2v1h-2zM0 53h1v1h-1zM4 53h2v1h-2zM8 53h2v1h-2zM16 53h2v1h-2zM44 53h1v1h-1zM47 53h1v1h-1zM4 54h2v1h-2zM8 54h1v1h-1zM12 54h1v1h-1zM15 54h1v1h-1zM18 54h1v1h-1zM44 54h2v1h-2zM4 55h2v1h-2zM13 55h1v1h-1zM18 55h1v1h-1zM42 55h1v1h-1zM45 55h1v1h-1zM4 56h1v1h-1zM10 56h2v1h-2zM13 56h1v1h-1zM44 56h2v1h-2zM11 57h3v1h-3zM43 57h3v1h-3zM2 58h1v1h-1zM4 58h3v1h-3zM14 58h1v1h-1zM16 58h1v1h-1zM38 58h1v1h-1zM46 58h1v1h-1zM10 59h6v1h-6zM39 59h2v1h-2zM46 59h2v1h-2zM4 60h2v1h-2zM12 60h2v1h-2zM16 60h1v1h-1zM35 60h1v1h-1zM41 60h1v1h-1zM46 60h1v1h-1zM12 61h2v1h-2zM5 62h1v1h-1zM10 62h2v1h-2zM16 62h3v1h-3zM34 62h1v1h-1zM41 62h1v1h-1zM45 62h1v1h-1zM5 63h1v1h-1zM10 63h2v1h-2zM16 63h2v1h-2zM19 63h1v1h-1zM41 63h1v1h-1zM45 63h1v1h-1zM16 64h1v1h-1zM18 64h1v1h-1zM36 64h1v1h-1zM47 64h1v1h-1zM18 65h2v1h-2zM46 65h2v1h-2zM2 66h1v1h-1zM4 66h1v1h-1zM6 66h1v1h-1zM37 66h2v1h-2zM41 66h1v1h-1zM44 66h1v1h-1zM0 67h2v1h-2zM3 67h5v1h-5zM37 67h1v1h-1zM47 67h1v1h-1zM2 68h1v1h-1zM4 68h1v1h-1zM36 68h2v1h-2zM39 68h1v1h-1zM47 68h1v1h-1zM6 69h1v1h-1zM17 69h1v1h-1zM36 69h1v1h-1zM38 69h1v1h-1zM5 70h1v1h-1zM7 70h1v1h-1zM34 70h4v1h-4zM42 70h4v1h-4zM5 71h3v1h-3zM34 71h1v1h-1zM43 71h1v1h-1zM8 72h2v1h-2zM38 72h1v1h-1zM46 72h2v1h-2zM7 73h3v1h-3zM46 73h2v1h-2zM8 74h2v1h-2zM45 74h2v1h-2zM8 75h2v1h-2zM10 76h1v1h-1zM35 76h1v1h-1zM44 76h2v1h-2zM10 77h1v1h-1zM29 77h1v1h-1zM35 77h1v1h-1zM45 77h1v1h-1zM6 78h1v1h-1zM10 78h1v1h-1zM12 78h1v1h-1zM18 78h1v1h-1zM36 78h1v1h-1zM40 78h1v1h-1zM44 78h2v1h-2zM7 79h1v1h-1zM10 79h2v1h-2zM20 79h1v1h-1zM23 79h1v1h-1zM37 79h1v1h-1zM41 79h1v1h-1zM44 79h2v1h-2zM12 80h2v1h-2zM21 80h1v1h-1zM44 80h1v1h-1zM10 81h2v1h-2zM13 81h1v1h-1zM20 81h1v1h-1zM40 81h1v1h-1zM43 81h1v1h-1zM12 82h2v1h-2zM43 82h1v1h-1zM13 83h1v1h-1zM22 83h1v1h-1zM42 83h1v1h-1zM8 84h1v1h-1zM10 84h1v1h-1zM12 84h2v1h-2zM20 84h1v1h-1zM22 84h2v1h-2zM6 85h2v1h-2zM10 85h1v1h-1zM12 85h2v1h-2zM19 85h2v1h-2zM22 85h2v1h-2zM41 85h1v1h-1zM11 86h2v1h-2zM37 86h1v1h-1zM41 86h1v1h-1zM7 87h1v1h-1zM6 88h1v1h-1zM12 88h1v1h-1zM22 88h1v1h-1zM40 88h1v1h-1zM6 89h1v1h-1zM12 89h2v1h-2zM22 89h2v1h-2zM37 89h2v1h-2zM13 90h2v1h-2zM17 90h1v1h-1zM43 90h1v1h-1zM14 91h3v1h-3zM33 91h1v1h-1zM12 92h1v1h-1zM15 92h1v1h-1zM21 92h3v1h-3zM33 92h5v1h-5zM40 92h2v1h-2zM6 93h1v1h-1zM12 93h2v1h-2zM22 93h2v1h-2zM35 93h3v1h-3zM40 93h1v1h-1zM0 94h2v1h-2zM3 94h1v1h-1zM12 94h1v1h-1zM18 94h1v1h-1zM33 94h2v1h-2zM37 94h1v1h-1zM0 95h2v1h-2zM3 95h1v1h-1zM10 95h1v1h-1zM13 95h2v1h-2zM17 95h1v1h-1zM19 95h1v1h-1zM22 95h1v1h-1zM33 95h1v1h-1zM35 95h1v1h-1zM37 95h1v1h-1zM12 96h1v1h-1zM16 96h2v1h-2zM19 96h3v1h-3zM23 96h1v1h-1zM34 96h4v1h-4zM39 96h1v1h-1zM14 97h1v1h-1zM16 97h1v1h-1zM19 97h2v1h-2zM23 97h1v1h-1zM33 97h2v1h-2zM36 97h1v1h-1zM39 97h1v1h-1zM13 98h1v1h-1zM16 98h1v1h-1zM18 98h1v1h-1zM20 98h1v1h-1zM14 99h1v1h-1zM20 99h1v1h-1zM22 99h1v1h-1zM14 100h2v1h-2zM17 100h1v1h-1zM32 100h1v1h-1zM34 100h2v1h-2zM14 101h1v1h-1zM16 101h2v1h-2zM32 101h1v1h-1zM35 101h1v1h-1zM2 102h1v1h-1zM4 102h2v1h-2zM7 102h1v1h-1zM14 102h6v1h-6zM23 102h1v1h-1zM47 102h1v1h-1zM14 103h1v1h-1zM16 103h3v1h-3zM32 103h2v1h-2zM0 104h1v1h-1zM21 104h2v1h-2zM24 104h1v1h-1zM29 104h1v1h-1zM32 104h2v1h-2zM44 104h1v1h-1zM0 105h1v1h-1zM20 105h1v1h-1zM25 105h1v1h-1zM29 105h1v1h-1zM32 105h2v1h-2zM46 105h1v1h-1zM4 106h1v1h-1zM7 106h1v1h-1zM17 106h1v1h-1zM19 106h1v1h-1zM21 106h1v1h-1zM24 106h2v1h-2zM36 106h1v1h-1zM46 106h2v1h-2zM2 107h3v1h-3zM18 107h2v1h-2zM22 107h1v1h-1zM36 107h2v1h-2zM44 107h2v1h-2zM7 108h1v1h-1zM14 108h4v1h-4zM27 108h1v1h-1zM29 108h1v1h-1zM46 108h2v1h-2zM16 109h2v1h-2zM20 109h1v1h-1zM23 109h1v1h-1zM26 109h2v1h-2zM6 110h1v1h-1zM22 110h1v1h-1zM28 110h2v1h-2zM38 110h1v1h-1zM45 110h3v1h-3zM6 111h1v1h-1zM28 111h2v1h-2zM46 111h2v1h-2zM6 112h1v1h-1zM8 112h2v1h-2zM30 112h2v1h-2zM36 112h2v1h-2zM44 112h1v1h-1zM46 112h2v1h-2zM8 113h1v1h-1zM30 113h1v1h-1zM32 113h1v1h-1zM36 113h1v1h-1zM44 113h1v1h-1zM3 114h1v1h-1zM5 114h1v1h-1zM8 114h1v1h-1zM30 114h1v1h-1zM36 114h1v1h-1zM39 114h2v1h-2zM42 114h1v1h-1zM0 115h1v1h-1zM2 115h4v1h-4zM34 115h2v1h-2zM38 115h2v1h-2zM42 115h1v1h-1zM8 116h1v1h-1zM42 116h4v1h-4zM0 117h1v1h-1zM2 117h1v1h-1zM10 117h1v1h-1zM23 117h1v1h-1zM30 117h3v1h-3zM41 117h4v1h-4z"/>
<path fill="#dcc2a4" d="M26 0h1v1h-1zM25 1h2v1h-2zM30 1h2v1h-2zM22 2h1v1h-1zM25 2h1v1h-1zM29 2h1v1h-1zM33 2h1v1h-1zM22 3h4v1h-4zM29 3h1v1h-1zM32 3h2v1h-2zM23 4h2v1h-2zM33 4h1v1h-1zM22 5h2v1h-2zM25 5h1v1h-1zM28 5h1v1h-1zM31 5h1v1h-1zM22 6h1v1h-1zM26 6h1v1h-1zM29 6h2v1h-2zM33 6h1v1h-1zM47 6h1v1h-1zM25 7h3v1h-3zM31 7h1v1h-1zM33 7h1v1h-1zM46 7h1v1h-1zM31 8h2v1h-2zM34 8h1v1h-1zM27 9h1v1h-1zM34 9h1v1h-1zM33 10h1v1h-1zM25 11h1v1h-1zM27 11h2v1h-2zM33 11h1v1h-1zM41 11h1v1h-1zM19 12h1v1h-1zM38 12h1v1h-1zM18 13h1v1h-1zM33 13h2v1h-2zM0 14h2v1h-2zM5 14h1v1h-1zM25 14h1v1h-1zM33 14h1v1h-1zM38 14h2v1h-2zM0 15h2v1h-2zM34 15h1v1h-1zM38 15h1v1h-1zM0 16h1v1h-1zM2 16h1v1h-1zM8 16h1v1h-1zM15 16h1v1h-1zM26 16h1v1h-1zM29 16h1v1h-1zM45 16h2v1h-2zM2 17h3v1h-3zM27 17h1v1h-1zM30 17h1v1h-1zM36 17h2v1h-2zM39 17h1v1h-1zM41 17h1v1h-1zM45 17h1v1h-1zM1 18h3v1h-3zM36 18h2v1h-2zM44 18h2v1h-2zM1 19h1v1h-1zM3 19h1v1h-1zM18 19h2v1h-2zM37 19h1v1h-1zM44 19h3v1h-3zM1 20h1v1h-1zM7 20h1v1h-1zM16 20h2v1h-2zM19 20h1v1h-1zM29 20h1v1h-1zM0 21h2v1h-2zM7 21h1v1h-1zM17 21h1v1h-1zM20 21h1v1h-1zM27 21h1v1h-1zM44 21h3v1h-3zM9 22h1v1h-1zM13 22h1v1h-1zM44 22h2v1h-2zM9 23h2v1h-2zM11 24h1v1h-1zM20 24h1v1h-1zM25 24h2v1h-2zM43 24h1v1h-1zM45 24h1v1h-1zM9 25h3v1h-3zM13 25h1v1h-1zM15 25h1v1h-1zM20 25h1v1h-1zM44 25h2v1h-2zM6 26h1v1h-1zM13 26h1v1h-1zM19 26h1v1h-1zM34 26h1v1h-1zM43 26h1v1h-1zM8 27h1v1h-1zM16 27h2v1h-2zM19 27h1v1h-1zM21 27h1v1h-1zM42 27h1v1h-1zM44 27h2v1h-2zM4 28h1v1h-1zM9 28h1v1h-1zM18 28h2v1h-2zM22 28h2v1h-2zM42 28h1v1h-1zM17 29h2v1h-2zM22 29h2v1h-2zM43 29h1v1h-1zM9 30h2v1h-2zM20 30h3v1h-3zM24 30h1v1h-1zM26 30h1v1h-1zM31 30h1v1h-1zM36 30h2v1h-2zM39 30h1v1h-1zM42 30h1v1h-1zM45 30h2v1h-2zM6 31h1v1h-1zM10 31h2v1h-2zM19 31h2v1h-2zM23 31h2v1h-2zM27 31h2v1h-2zM35 31h1v1h-1zM38 31h2v1h-2zM41 31h1v1h-1zM10 32h4v1h-4zM19 32h2v1h-2zM24 32h6v1h-6zM34 32h1v1h-1zM37 32h1v1h-1zM40 32h4v1h-4zM10 33h2v1h-2zM21 33h2v1h-2zM25 33h3v1h-3zM29 33h1v1h-1zM32 33h1v1h-1zM34 33h1v1h-1zM40 33h3v1h-3zM9 34h1v1h-1zM22 34h1v1h-1zM24 34h2v1h-2zM28 34h1v1h-1zM39 34h3v1h-3zM20 35h1v1h-1zM22 35h5v1h-5zM35 35h1v1h-1zM40 35h2v1h-2zM43 35h1v1h-1zM46 35h2v1h-2zM8 36h1v1h-1zM10 36h1v1h-1zM18 36h1v1h-1zM23 36h2v1h-2zM26 36h2v1h-2zM43 36h1v1h-1zM19 37h1v1h-1zM22 37h2v1h-2zM26 37h2v1h-2zM30 37h1v1h-1zM38 37h1v1h-1zM41 37h2v1h-2zM26 38h1v1h-1zM28 38h2v1h-2zM31 38h1v1h-1zM33 38h1v1h-1zM38 38h2v1h-2zM41 38h1v1h-1zM46 38h1v1h-1zM6 39h1v1h-1zM12 39h1v1h-1zM27 39h4v1h-4zM32 39h1v1h-1zM38 39h1v1h-1zM47 39h1v1h-1zM22 40h1v1h-1zM25 40h1v1h-1zM27 40h3v1h-3zM32 40h1v1h-1zM40 40h1v1h-1zM26 41h1v1h-1zM28 41h2v1h-2zM38 41h1v1h-1zM1 42h1v1h-1zM10 42h1v1h-1zM22 42h1v1h-1zM25 42h1v1h-1zM28 42h1v1h-1zM33 42h3v1h-3zM37 42h1v1h-1zM41 42h1v1h-1zM43 42h1v1h-1zM9 43h2v1h-2zM21 43h3v1h-3zM32 43h1v1h-1zM34 43h2v1h-2zM40 43h2v1h-2zM5 44h1v1h-1zM9 44h1v1h-1zM12 44h1v1h-1zM16 44h2v1h-2zM19 44h1v1h-1zM22 44h1v1h-1zM29 44h1v1h-1zM6 45h2v1h-2zM16 45h4v1h-4zM22 45h2v1h-2zM26 45h1v1h-1zM36 45h2v1h-2zM0 46h4v1h-4zM15 46h3v1h-3zM19 46h3v1h-3zM33 46h1v1h-1zM35 46h1v1h-1zM37 46h1v1h-1zM5 47h1v1h-1zM16 47h2v1h-2zM20 47h1v1h-1zM23 47h1v1h-1zM28 47h1v1h-1zM36 47h2v1h-2zM2 48h1v1h-1zM7 48h1v1h-1zM14 48h2v1h-2zM28 48h1v1h-1zM32 48h1v1h-1zM35 48h1v1h-1zM37 48h1v1h-1zM41 48h2v1h-2zM2 49h1v1h-1zM13 49h2v1h-2zM18 49h1v1h-1zM28 49h1v1h-1zM40 49h1v1h-1zM43 49h1v1h-1zM12 50h1v1h-1zM22 50h2v1h-2zM26 50h2v1h-2zM30 50h2v1h-2zM44 50h1v1h-1zM46 50h1v1h-1zM4 51h2v1h-2zM13 51h1v1h-1zM16 51h2v1h-2zM22 51h2v1h-2zM27 51h1v1h-1zM29 51h1v1h-1zM47 51h1v1h-1zM11 52h1v1h-1zM18 52h2v1h-2zM22 52h3v1h-3zM26 52h2v1h-2zM29 52h2v1h-2zM40 52h1v1h-1zM43 52h1v1h-1zM12 53h2v1h-2zM18 53h2v1h-2zM22 53h1v1h-1zM42 53h2v1h-2zM16 54h2v1h-2zM29 54h1v1h-1zM38 54h1v1h-1zM42 54h2v1h-2zM12 55h1v1h-1zM16 55h2v1h-2zM5 56h1v1h-1zM12 56h1v1h-1zM16 56h2v1h-2zM20 56h1v1h-1zM33 56h1v1h-1zM42 56h2v1h-2zM4 57h2v1h-2zM9 57h1v1h-1zM39 57h2v1h-2zM42 57h1v1h-1zM3 58h1v1h-1zM13 58h1v1h-1zM15 58h1v1h-1zM17 58h1v1h-1zM21 58h1v1h-1zM27 58h1v1h-1zM30 58h1v1h-1zM32 58h4v1h-4zM39 58h3v1h-3zM47 58h1v1h-1zM2 59h4v1h-4zM16 59h2v1h-2zM20 59h1v1h-1zM24 59h2v1h-2zM34 59h3v1h-3zM38 59h1v1h-1zM41 59h1v1h-1zM0 60h3v1h-3zM15 60h1v1h-1zM19 60h1v1h-1zM22 60h2v1h-2zM31 60h1v1h-1zM40 60h1v1h-1zM4 61h2v1h-2zM16 61h2v1h-2zM24 61h1v1h-1zM35 61h1v1h-1zM40 61h1v1h-1zM4 62h1v1h-1zM32 62h2v1h-2zM35 62h3v1h-3zM40 62h1v1h-1zM43 62h1v1h-1zM34 63h4v1h-4zM40 63h1v1h-1zM43 63h2v1h-2zM4 64h3v1h-3zM14 64h1v1h-1zM24 64h2v1h-2zM35 64h1v1h-1zM40 64h2v1h-2zM44 64h2v1h-2zM5 65h2v1h-2zM15 65h1v1h-1zM26 65h1v1h-1zM34 65h2v1h-2zM44 65h2v1h-2zM3 66h1v1h-1zM5 66h1v1h-1zM8 66h1v1h-1zM34 66h1v1h-1zM40 66h1v1h-1zM45 66h1v1h-1zM2 67h1v1h-1zM34 67h2v1h-2zM41 67h1v1h-1zM44 67h2v1h-2zM6 68h3v1h-3zM15 68h3v1h-3zM20 68h2v1h-2zM34 68h2v1h-2zM3 69h2v1h-2zM7 69h1v1h-1zM16 69h1v1h-1zM34 69h1v1h-1zM47 69h1v1h-1zM4 70h1v1h-1zM6 70h1v1h-1zM23 70h1v1h-1zM26 70h2v1h-2zM4 71h1v1h-1zM22 71h1v1h-1zM35 71h2v1h-2zM42 71h1v1h-1zM45 71h1v1h-1zM6 72h2v1h-2zM10 72h1v1h-1zM14 72h2v1h-2zM19 72h1v1h-1zM28 72h2v1h-2zM34 72h2v1h-2zM39 72h1v1h-1zM10 73h2v1h-2zM26 73h3v1h-3zM34 73h3v1h-3zM38 73h3v1h-3zM10 74h2v1h-2zM13 74h1v1h-1zM24 74h1v1h-1zM31 74h1v1h-1zM34 74h1v1h-1zM36 74h2v1h-2zM44 74h1v1h-1zM10 75h4v1h-4zM22 75h1v1h-1zM28 75h1v1h-1zM36 75h2v1h-2zM12 76h2v1h-2zM22 76h1v1h-1zM28 76h1v1h-1zM30 76h1v1h-1zM34 76h1v1h-1zM36 76h2v1h-2zM11 77h3v1h-3zM22 77h3v1h-3zM26 77h1v1h-1zM34 77h1v1h-1zM37 77h1v1h-1zM44 77h1v1h-1zM13 78h1v1h-1zM19 78h2v1h-2zM24 78h1v1h-1zM30 78h2v1h-2zM38 78h1v1h-1zM41 78h1v1h-1zM12 79h2v1h-2zM16 79h1v1h-1zM18 79h2v1h-2zM21 79h1v1h-1zM24 79h1v1h-1zM31 79h1v1h-1zM35 79h2v1h-2zM38 79h3v1h-3zM46 79h1v1h-1zM10 80h1v1h-1zM18 80h1v1h-1zM20 80h1v1h-1zM22 80h1v1h-1zM38 80h1v1h-1zM40 80h1v1h-1zM45 80h2v1h-2zM12 81h1v1h-1zM21 81h1v1h-1zM38 81h2v1h-2zM41 81h1v1h-1zM44 81h2v1h-2zM47 81h1v1h-1zM20 82h2v1h-2zM23 82h1v1h-1zM36 82h2v1h-2zM40 82h2v1h-2zM44 82h4v1h-4zM10 83h1v1h-1zM18 83h1v1h-1zM20 83h2v1h-2zM23 83h1v1h-1zM36 83h1v1h-1zM38 83h1v1h-1zM40 83h2v1h-2zM43 83h5v1h-5zM18 84h2v1h-2zM21 84h1v1h-1zM40 84h2v1h-2zM45 84h1v1h-1zM18 85h1v1h-1zM21 85h1v1h-1zM24 85h1v1h-1zM40 85h1v1h-1zM42 85h1v1h-1zM13 86h3v1h-3zM19 86h2v1h-2zM36 86h1v1h-1zM39 86h1v1h-1zM42 86h1v1h-1zM46 86h1v1h-1zM12 87h1v1h-1zM15 87h1v1h-1zM20 87h2v1h-2zM36 87h2v1h-2zM40 87h2v1h-2zM7 88h1v1h-1zM15 88h1v1h-1zM17 88h1v1h-1zM23 88h1v1h-1zM32 88h1v1h-1zM37 88h1v1h-1zM39 88h1v1h-1zM41 88h1v1h-1zM14 89h1v1h-1zM20 89h1v1h-1zM36 89h1v1h-1zM40 89h2v1h-2zM44 89h1v1h-1zM46 89h1v1h-1zM16 90h1v1h-1zM22 90h1v1h-1zM26 90h2v1h-2zM32 90h2v1h-2zM37 90h1v1h-1zM40 90h3v1h-3zM44 90h2v1h-2zM17 91h1v1h-1zM20 91h1v1h-1zM23 91h2v1h-2zM26 91h2v1h-2zM36 91h1v1h-1zM40 91h1v1h-1zM42 91h2v1h-2zM14 92h1v1h-1zM16 92h3v1h-3zM20 92h1v1h-1zM44 92h2v1h-2zM16 93h2v1h-2zM20 93h2v1h-2zM28 93h1v1h-1zM42 93h1v1h-1zM44 93h2v1h-2zM13 94h1v1h-1zM16 94h2v1h-2zM22 94h4v1h-4zM32 94h1v1h-1zM35 94h1v1h-1zM38 94h2v1h-2zM43 94h1v1h-1zM12 95h1v1h-1zM16 95h1v1h-1zM23 95h2v1h-2zM32 95h1v1h-1zM34 95h1v1h-1zM36 95h1v1h-1zM38 95h2v1h-2zM18 96h1v1h-1zM26 96h2v1h-2zM38 96h1v1h-1zM40 96h2v1h-2zM17 97h2v1h-2zM37 97h2v1h-2zM14 98h1v1h-1zM17 98h1v1h-1zM19 98h1v1h-1zM24 98h1v1h-1zM30 98h1v1h-1zM32 98h1v1h-1zM34 98h2v1h-2zM46 98h1v1h-1zM15 99h1v1h-1zM17 99h1v1h-1zM19 99h1v1h-1zM27 99h1v1h-1zM30 99h1v1h-1zM32 99h4v1h-4zM16 100h1v1h-1zM18 100h2v1h-2zM33 100h1v1h-1zM46 100h1v1h-1zM15 101h1v1h-1zM18 101h2v1h-2zM33 101h2v1h-2zM37 101h1v1h-1zM47 101h1v1h-1zM22 102h1v1h-1zM24 102h1v1h-1zM30 102h1v1h-1zM32 102h2v1h-2zM46 102h1v1h-1zM4 103h2v1h-2zM15 103h1v1h-1zM19 103h2v1h-2zM22 103h4v1h-4zM47 103h1v1h-1zM20 104h1v1h-1zM23 104h1v1h-1zM40 104h1v1h-1zM45 104h1v1h-1zM22 105h2v1h-2zM44 105h1v1h-1zM5 106h1v1h-1zM18 106h1v1h-1zM26 106h2v1h-2zM39 106h1v1h-1zM44 106h1v1h-1zM5 107h1v1h-1zM26 107h2v1h-2zM39 107h1v1h-1zM41 107h1v1h-1zM47 107h1v1h-1zM22 108h2v1h-2zM26 108h1v1h-1zM28 108h1v1h-1zM33 108h1v1h-1zM41 108h1v1h-1zM22 109h1v1h-1zM28 109h1v1h-1zM33 109h1v1h-1zM35 109h1v1h-1zM41 109h1v1h-1zM47 109h1v1h-1zM7 110h2v1h-2zM39 110h1v1h-1zM8 111h2v1h-2zM32 111h1v1h-1zM38 111h2v1h-2zM41 111h1v1h-1zM10 112h2v1h-2zM32 112h4v1h-4zM41 112h2v1h-2zM9 113h3v1h-3zM33 113h2v1h-2zM37 113h1v1h-1zM41 113h1v1h-1zM43 113h1v1h-1zM45 113h1v1h-1zM0 114h3v1h-3zM33 114h1v1h-1zM38 114h1v1h-1zM1 115h1v1h-1zM32 115h2v1h-2zM40 115h2v1h-2zM2 116h1v1h-1zM11 116h1v1h-1zM46 116h1v1h-1zM11 117h1v1h-1zM33 117h1v1h-1zM45 117h3v1h-3z"/>
<path fill="#f2b24e" d="M24 0h2v1h-2zM27 0h1v1h-1zM24 1h1v1h-1zM27 1h1v1h-1zM26 2h3v1h-3zM30 2h2v1h-2zM26 3h3v1h-3zM30 3h2v1h-2zM22 4h1v1h-1zM28 4h4v1h-4zM29 5h2v1h-2zM32 5h2v1h-2zM23 6h3v1h-3zM28 6h1v1h-1zM32 6h1v1h-1zM46 6h1v1h-1zM22 7h3v1h-3zM28 7h3v1h-3zM47 7h1v1h-1zM26 8h5v1h-5zM26 9h1v1h-1zM28 9h4v1h-4zM24 10h6v1h-6zM32 10h1v1h-1zM34 10h2v1h-2zM24 11h1v1h-1zM26 11h1v1h-1zM29 11h1v1h-1zM32 11h1v1h-1zM34 11h2v1h-2zM22 12h2v1h-2zM28 12h6v1h-6zM22 13h2v1h-2zM28 13h5v1h-5zM30 14h3v1h-3zM34 14h2v1h-2zM30 15h4v1h-4zM35 15h1v1h-1zM3 16h3v1h-3zM38 16h2v1h-2zM44 16h1v1h-1zM47 16h1v1h-1zM5 17h1v1h-1zM46 17h2v1h-2zM27 18h1v1h-1zM32 18h2v1h-2zM46 18h2v1h-2zM2 19h1v1h-1zM27 19h1v1h-1zM32 19h2v1h-2zM47 19h1v1h-1zM0 20h1v1h-1zM6 20h1v1h-1zM18 20h1v1h-1zM20 20h2v1h-2zM26 20h2v1h-2zM6 21h1v1h-1zM18 21h2v1h-2zM21 21h1v1h-1zM26 21h1v1h-1zM2 22h2v1h-2zM8 22h1v1h-1zM10 22h2v1h-2zM16 22h4v1h-4zM2 23h2v1h-2zM8 23h1v1h-1zM11 23h1v1h-1zM16 23h4v1h-4zM8 24h3v1h-3zM14 24h2v1h-2zM21 24h1v1h-1zM24 24h1v1h-1zM27 24h1v1h-1zM8 25h1v1h-1zM14 25h1v1h-1zM21 25h1v1h-1zM24 25h4v1h-4zM8 26h2v1h-2zM18 26h1v1h-1zM20 26h2v1h-2zM9 27h1v1h-1zM18 27h1v1h-1zM5 28h1v1h-1zM8 28h1v1h-1zM4 29h2v1h-2zM8 29h2v1h-2zM11 30h1v1h-1zM23 30h1v1h-1zM25 30h1v1h-1zM30 30h1v1h-1zM44 30h1v1h-1zM22 31h1v1h-1zM30 31h2v1h-2zM37 31h1v1h-1zM40 31h1v1h-1zM44 31h2v1h-2zM35 32h2v1h-2zM46 32h2v1h-2zM12 33h2v1h-2zM20 33h1v1h-1zM28 33h1v1h-1zM35 33h3v1h-3zM43 33h1v1h-1zM46 33h2v1h-2zM10 34h2v1h-2zM20 34h2v1h-2zM23 34h1v1h-1zM26 34h2v1h-2zM29 34h3v1h-3zM34 34h5v1h-5zM42 34h6v1h-6zM10 35h2v1h-2zM21 35h1v1h-1zM27 35h5v1h-5zM34 35h1v1h-1zM36 35h4v1h-4zM42 35h1v1h-1zM44 35h2v1h-2zM11 36h1v1h-1zM20 36h3v1h-3zM28 36h4v1h-4zM36 36h7v1h-7zM10 37h2v1h-2zM20 37h2v1h-2zM28 37h2v1h-2zM31 37h1v1h-1zM36 37h2v1h-2zM39 37h2v1h-2zM43 37h1v1h-1zM6 38h2v1h-2zM20 38h4v1h-4zM30 38h1v1h-1zM32 38h1v1h-1zM34 38h2v1h-2zM40 38h1v1h-1zM47 38h1v1h-1zM7 39h1v1h-1zM20 39h4v1h-4zM31 39h1v1h-1zM33 39h3v1h-3zM39 39h3v1h-3zM46 39h1v1h-1zM4 40h2v1h-2zM16 40h2v1h-2zM20 40h2v1h-2zM23 40h1v1h-1zM26 40h1v1h-1zM33 40h1v1h-1zM38 40h2v1h-2zM4 41h2v1h-2zM16 41h2v1h-2zM20 41h4v1h-4zM32 41h2v1h-2zM39 41h3v1h-3zM2 42h2v1h-2zM8 42h2v1h-2zM11 42h1v1h-1zM16 42h2v1h-2zM20 42h2v1h-2zM23 42h2v1h-2zM26 42h2v1h-2zM29 42h4v1h-4zM36 42h1v1h-1zM38 42h3v1h-3zM42 42h1v1h-1zM44 42h2v1h-2zM2 43h2v1h-2zM8 43h1v1h-1zM11 43h1v1h-1zM16 43h2v1h-2zM20 43h1v1h-1zM24 43h8v1h-8zM33 43h1v1h-1zM36 43h4v1h-4zM42 43h4v1h-4zM4 44h1v1h-1zM6 44h3v1h-3zM13 44h1v1h-1zM18 44h1v1h-1zM20 44h2v1h-2zM23 44h6v1h-6zM30 44h4v1h-4zM36 44h4v1h-4zM4 45h2v1h-2zM8 45h2v1h-2zM12 45h2v1h-2zM20 45h2v1h-2zM24 45h2v1h-2zM27 45h7v1h-7zM38 45h2v1h-2zM4 46h2v1h-2zM12 46h2v1h-2zM18 46h1v1h-1zM22 46h8v1h-8zM32 46h1v1h-1zM34 46h1v1h-1zM36 46h1v1h-1zM38 46h2v1h-2zM4 47h1v1h-1zM12 47h2v1h-2zM18 47h2v1h-2zM22 47h1v1h-1zM24 47h4v1h-4zM29 47h1v1h-1zM32 47h4v1h-4zM38 47h2v1h-2zM12 48h2v1h-2zM22 48h6v1h-6zM30 48h2v1h-2zM36 48h1v1h-1zM38 48h2v1h-2zM12 49h1v1h-1zM15 49h1v1h-1zM22 49h6v1h-6zM29 49h3v1h-3zM36 49h4v1h-4zM14 50h2v1h-2zM20 50h2v1h-2zM24 50h2v1h-2zM28 50h2v1h-2zM32 50h4v1h-4zM38 50h2v1h-2zM47 50h1v1h-1zM14 51h2v1h-2zM20 51h2v1h-2zM24 51h3v1h-3zM28 51h1v1h-1zM30 51h6v1h-6zM38 51h2v1h-2zM46 51h1v1h-1zM10 52h1v1h-1zM13 52h1v1h-1zM20 52h2v1h-2zM25 52h1v1h-1zM28 52h1v1h-1zM31 52h1v1h-1zM38 52h2v1h-2zM41 52h2v1h-2zM10 53h2v1h-2zM20 53h2v1h-2zM23 53h9v1h-9zM38 53h4v1h-4zM10 54h2v1h-2zM20 54h2v1h-2zM28 54h1v1h-1zM30 54h2v1h-2zM39 54h3v1h-3zM10 55h2v1h-2zM20 55h2v1h-2zM28 55h4v1h-4zM38 55h4v1h-4zM43 55h1v1h-1zM2 56h2v1h-2zM8 56h2v1h-2zM14 56h2v1h-2zM21 56h1v1h-1zM30 56h3v1h-3zM38 56h4v1h-4zM2 57h2v1h-2zM8 57h1v1h-1zM10 57h1v1h-1zM14 57h4v1h-4zM20 57h2v1h-2zM30 57h4v1h-4zM38 57h1v1h-1zM41 57h1v1h-1zM20 58h1v1h-1zM24 58h3v1h-3zM31 58h1v1h-1zM36 58h2v1h-2zM44 58h2v1h-2zM21 59h1v1h-1zM26 59h2v1h-2zM30 59h4v1h-4zM37 59h1v1h-1zM44 59h2v1h-2zM3 60h1v1h-1zM14 60h1v1h-1zM17 60h2v1h-2zM24 60h2v1h-2zM30 60h1v1h-1zM32 60h3v1h-3zM36 60h4v1h-4zM42 60h2v1h-2zM0 61h4v1h-4zM14 61h2v1h-2zM18 61h2v1h-2zM22 61h2v1h-2zM25 61h1v1h-1zM30 61h5v1h-5zM36 61h4v1h-4zM41 61h3v1h-3zM2 62h2v1h-2zM20 62h2v1h-2zM26 62h2v1h-2zM38 62h2v1h-2zM42 62h1v1h-1zM44 62h1v1h-1zM2 63h3v1h-3zM20 63h2v1h-2zM26 63h2v1h-2zM32 63h2v1h-2zM38 63h2v1h-2zM42 63h1v1h-1zM8 64h2v1h-2zM15 64h1v1h-1zM26 64h2v1h-2zM32 64h3v1h-3zM42 64h2v1h-2zM4 65h1v1h-1zM8 65h2v1h-2zM14 65h1v1h-1zM24 65h2v1h-2zM27 65h1v1h-1zM32 65h2v1h-2zM40 65h4v1h-4zM0 66h2v1h-2zM9 66h1v1h-1zM14 66h4v1h-4zM20 66h2v1h-2zM26 66h2v1h-2zM30 66h2v1h-2zM35 66h1v1h-1zM8 67h2v1h-2zM14 67h4v1h-4zM20 67h2v1h-2zM26 67h2v1h-2zM30 67h2v1h-2zM5 68h1v1h-1zM9 68h1v1h-1zM14 68h1v1h-1zM18 68h2v1h-2zM24 68h2v1h-2zM28 68h2v1h-2zM5 69h1v1h-1zM8 69h2v1h-2zM14 69h2v1h-2zM18 69h4v1h-4zM24 69h2v1h-2zM28 69h2v1h-2zM35 69h1v1h-1zM8 70h2v1h-2zM18 70h2v1h-2zM22 70h1v1h-1zM24 70h2v1h-2zM32 70h2v1h-2zM38 70h2v1h-2zM46 70h2v1h-2zM8 71h2v1h-2zM18 71h2v1h-2zM23 71h5v1h-5zM32 71h2v1h-2zM38 71h2v1h-2zM46 71h2v1h-2zM11 72h3v1h-3zM18 72h1v1h-1zM22 72h2v1h-2zM26 72h2v1h-2zM30 72h4v1h-4zM36 72h2v1h-2zM40 72h2v1h-2zM12 73h4v1h-4zM18 73h2v1h-2zM22 73h2v1h-2zM29 73h5v1h-5zM37 73h1v1h-1zM41 73h1v1h-1zM12 74h1v1h-1zM20 74h4v1h-4zM25 74h1v1h-1zM28 74h3v1h-3zM35 74h1v1h-1zM38 74h2v1h-2zM20 75h2v1h-2zM23 75h3v1h-3zM29 75h3v1h-3zM34 75h2v1h-2zM38 75h2v1h-2zM18 76h2v1h-2zM23 76h5v1h-5zM29 76h1v1h-1zM31 76h1v1h-1zM38 76h2v1h-2zM42 76h2v1h-2zM46 76h2v1h-2zM18 77h2v1h-2zM25 77h1v1h-1zM27 77h2v1h-2zM30 77h2v1h-2zM36 77h1v1h-1zM38 77h2v1h-2zM42 77h2v1h-2zM46 77h2v1h-2zM16 78h2v1h-2zM21 78h1v1h-1zM25 78h3v1h-3zM32 78h4v1h-4zM37 78h1v1h-1zM39 78h1v1h-1zM46 78h2v1h-2zM17 79h1v1h-1zM25 79h3v1h-3zM30 79h1v1h-1zM32 79h3v1h-3zM47 79h1v1h-1zM14 80h2v1h-2zM19 80h1v1h-1zM23 80h1v1h-1zM34 80h4v1h-4zM39 80h1v1h-1zM41 80h1v1h-1zM47 80h1v1h-1zM14 81h2v1h-2zM18 81h2v1h-2zM22 81h2v1h-2zM34 81h4v1h-4zM46 81h1v1h-1zM10 82h2v1h-2zM16 82h4v1h-4zM22 82h1v1h-1zM38 82h2v1h-2zM11 83h1v1h-1zM16 83h2v1h-2zM19 83h1v1h-1zM37 83h1v1h-1zM39 83h1v1h-1zM16 84h2v1h-2zM24 84h2v1h-2zM36 84h4v1h-4zM42 84h3v1h-3zM46 84h2v1h-2zM16 85h2v1h-2zM25 85h1v1h-1zM36 85h4v1h-4zM43 85h5v1h-5zM18 86h1v1h-1zM21 86h3v1h-3zM26 86h2v1h-2zM34 86h2v1h-2zM38 86h1v1h-1zM40 86h1v1h-1zM43 86h3v1h-3zM47 86h1v1h-1zM14 87h1v1h-1zM18 87h2v1h-2zM22 87h2v1h-2zM26 87h2v1h-2zM34 87h2v1h-2zM38 87h2v1h-2zM42 87h6v1h-6zM14 88h1v1h-1zM16 88h1v1h-1zM20 88h2v1h-2zM26 88h2v1h-2zM33 88h1v1h-1zM36 88h1v1h-1zM42 88h6v1h-6zM15 89h3v1h-3zM21 89h1v1h-1zM26 89h2v1h-2zM32 89h2v1h-2zM42 89h2v1h-2zM45 89h1v1h-1zM47 89h1v1h-1zM18 90h4v1h-4zM23 90h3v1h-3zM28 90h2v1h-2zM36 90h1v1h-1zM18 91h2v1h-2zM21 91h2v1h-2zM25 91h1v1h-1zM28 91h2v1h-2zM37 91h1v1h-1zM41 91h1v1h-1zM44 91h2v1h-2zM19 92h1v1h-1zM24 92h2v1h-2zM28 92h2v1h-2zM42 92h2v1h-2zM18 93h2v1h-2zM24 93h2v1h-2zM29 93h1v1h-1zM43 93h1v1h-1zM20 94h2v1h-2zM28 94h2v1h-2zM40 94h3v1h-3zM20 95h2v1h-2zM25 95h1v1h-1zM28 95h2v1h-2zM40 95h4v1h-4zM24 96h2v1h-2zM30 96h2v1h-2zM24 97h4v1h-4zM30 97h2v1h-2zM40 97h2v1h-2zM25 98h3v1h-3zM31 98h1v1h-1zM33 98h1v1h-1zM36 98h4v1h-4zM47 98h1v1h-1zM16 99h1v1h-1zM18 99h1v1h-1zM24 99h3v1h-3zM31 99h1v1h-1zM36 99h4v1h-4zM46 99h2v1h-2zM20 100h2v1h-2zM26 100h2v1h-2zM36 100h2v1h-2zM47 100h1v1h-1zM20 101h2v1h-2zM26 101h2v1h-2zM36 101h1v1h-1zM46 101h1v1h-1zM20 102h2v1h-2zM25 102h3v1h-3zM31 102h1v1h-1zM21 103h1v1h-1zM26 103h2v1h-2zM30 103h2v1h-2zM26 104h2v1h-2zM30 104h2v1h-2zM38 104h2v1h-2zM41 104h1v1h-1zM26 105h2v1h-2zM30 105h2v1h-2zM38 105h4v1h-4zM45 105h1v1h-1zM20 106h1v1h-1zM28 106h2v1h-2zM37 106h2v1h-2zM40 106h2v1h-2zM20 107h2v1h-2zM28 107h2v1h-2zM38 107h1v1h-1zM40 107h1v1h-1zM30 108h3v1h-3zM34 108h4v1h-4zM40 108h1v1h-1zM42 108h2v1h-2zM29 109h4v1h-4zM34 109h1v1h-1zM36 109h2v1h-2zM40 109h1v1h-1zM42 109h2v1h-2zM9 110h1v1h-1zM30 110h8v1h-8zM40 110h2v1h-2zM30 111h2v1h-2zM33 111h5v1h-5zM40 111h1v1h-1zM40 112h1v1h-1zM43 112h1v1h-1zM35 113h1v1h-1zM40 113h1v1h-1zM42 113h1v1h-1zM46 114h2v1h-2zM46 115h2v1h-2zM47 116h1v1h-1z"/>
<path fill="#c4682c" d="M28 0h2v1h-2zM28 1h2v1h-2zM22 8h4v1h-4zM22 9h4v1h-4zM20 10h2v1h-2zM20 11h2v1h-2zM20 12h2v1h-2zM20 13h2v1h-2zM22 18h2v1h-2zM22 19h2v1h-2zM20 22h2v1h-2zM24 22h2v1h-2zM20 23h2v1h-2zM24 23h2v1h-2zM16 24h2v1h-2zM22 24h2v1h-2zM16 25h2v1h-2zM22 25h2v1h-2zM6 28h2v1h-2zM6 29h2v1h-2zM0 32h4v1h-4zM38 32h2v1h-2zM44 32h2v1h-2zM0 33h4v1h-4zM38 33h2v1h-2zM44 33h2v1h-2zM32 34h2v1h-2zM32 35h2v1h-2zM32 36h4v1h-4zM44 36h2v1h-2zM32 37h4v1h-4zM44 37h2v1h-2zM18 38h2v1h-2zM42 38h4v1h-4zM18 39h2v1h-2zM42 39h4v1h-4zM6 40h2v1h-2zM18 40h2v1h-2zM30 40h2v1h-2zM34 40h2v1h-2zM42 40h4v1h-4zM6 41h2v1h-2zM18 41h2v1h-2zM30 41h2v1h-2zM34 41h2v1h-2zM42 41h4v1h-4zM6 42h2v1h-2zM18 42h2v1h-2zM6 43h2v1h-2zM18 43h2v1h-2zM10 44h2v1h-2zM34 44h2v1h-2zM10 45h2v1h-2zM34 45h2v1h-2zM8 46h4v1h-4zM30 46h2v1h-2zM8 47h4v1h-4zM30 47h2v1h-2zM8 48h2v1h-2zM8 49h2v1h-2zM8 50h2v1h-2zM36 50h2v1h-2zM8 51h2v1h-2zM36 51h2v1h-2zM2 52h2v1h-2zM32 52h2v1h-2zM36 52h2v1h-2zM2 53h2v1h-2zM32 53h2v1h-2zM36 53h2v1h-2zM2 54h2v1h-2zM22 54h6v1h-6zM36 54h2v1h-2zM2 55h2v1h-2zM22 55h6v1h-6zM36 55h2v1h-2zM18 56h2v1h-2zM24 56h6v1h-6zM34 56h4v1h-4zM18 57h2v1h-2zM24 57h6v1h-6zM34 57h4v1h-4zM18 58h2v1h-2zM22 58h2v1h-2zM28 58h2v1h-2zM18 59h2v1h-2zM22 59h2v1h-2zM28 59h2v1h-2zM20 60h2v1h-2zM26 60h4v1h-4zM44 60h2v1h-2zM20 61h2v1h-2zM26 61h4v1h-4zM44 61h2v1h-2zM0 62h2v1h-2zM12 62h2v1h-2zM22 62h2v1h-2zM28 62h4v1h-4zM0 63h2v1h-2zM12 63h2v1h-2zM22 63h2v1h-2zM28 63h4v1h-4zM0 64h4v1h-4zM10 64h4v1h-4zM20 64h4v1h-4zM0 65h4v1h-4zM10 65h4v1h-4zM20 65h4v1h-4zM28 66h2v1h-2zM32 66h2v1h-2zM28 67h2v1h-2zM32 67h2v1h-2zM22 68h2v1h-2zM26 68h2v1h-2zM30 68h4v1h-4zM22 69h2v1h-2zM26 69h2v1h-2zM30 69h4v1h-4zM10 70h2v1h-2zM16 70h2v1h-2zM20 70h2v1h-2zM28 70h4v1h-4zM10 71h2v1h-2zM16 71h2v1h-2zM20 71h2v1h-2zM28 71h4v1h-4zM16 72h2v1h-2zM20 72h2v1h-2zM16 73h2v1h-2zM20 73h2v1h-2zM18 74h2v1h-2zM26 74h2v1h-2zM40 74h2v1h-2zM18 75h2v1h-2zM26 75h2v1h-2zM40 75h2v1h-2zM14 76h2v1h-2zM20 76h2v1h-2zM32 76h2v1h-2zM40 76h2v1h-2zM14 77h2v1h-2zM20 77h2v1h-2zM32 77h2v1h-2zM40 77h2v1h-2zM14 78h2v1h-2zM28 78h2v1h-2zM14 79h2v1h-2zM28 79h2v1h-2zM16 80h2v1h-2zM24 80h6v1h-6zM32 80h2v1h-2zM16 81h2v1h-2zM24 81h6v1h-6zM32 81h2v1h-2zM14 82h2v1h-2zM24 82h4v1h-4zM34 82h2v1h-2zM14 83h2v1h-2zM24 83h4v1h-4zM34 83h2v1h-2zM14 84h2v1h-2zM26 84h2v1h-2zM32 84h4v1h-4zM14 85h2v1h-2zM26 85h2v1h-2zM32 85h4v1h-4zM16 86h2v1h-2zM24 86h2v1h-2zM30 86h4v1h-4zM16 87h2v1h-2zM24 87h2v1h-2zM30 87h4v1h-4zM24 88h2v1h-2zM28 88h4v1h-4zM34 88h2v1h-2zM24 89h2v1h-2zM28 89h4v1h-4zM34 89h2v1h-2zM30 90h2v1h-2zM46 90h2v1h-2zM30 91h2v1h-2zM46 91h2v1h-2zM26 92h2v1h-2zM46 92h2v1h-2zM26 93h2v1h-2zM46 93h2v1h-2zM26 94h2v1h-2zM44 94h2v1h-2zM26 95h2v1h-2zM44 95h2v1h-2zM42 96h2v1h-2zM46 96h2v1h-2zM42 97h2v1h-2zM46 97h2v1h-2zM28 98h2v1h-2zM40 98h2v1h-2zM44 98h2v1h-2zM28 99h2v1h-2zM40 99h2v1h-2zM44 99h2v1h-2zM22 100h4v1h-4zM38 100h2v1h-2zM22 101h4v1h-4zM38 101h2v1h-2zM28 102h2v1h-2zM40 102h2v1h-2zM44 102h2v1h-2zM28 103h2v1h-2zM40 103h2v1h-2zM44 103h2v1h-2zM42 104h2v1h-2zM42 105h2v1h-2zM42 106h2v1h-2zM42 107h2v1h-2zM38 108h2v1h-2zM38 109h2v1h-2z"/>
<path fill="#8a2624" d="M22 10h2v1h-2zM30 10h2v1h-2zM22 11h2v1h-2zM30 11h2v1h-2zM20 18h2v1h-2zM24 18h2v1h-2zM20 19h2v1h-2zM24 19h2v1h-2zM22 20h4v1h-4zM22 21h4v1h-4zM22 22h2v1h-2zM26 22h2v1h-2zM22 23h2v1h-2zM26 23h2v1h-2zM18 24h2v1h-2zM18 25h2v1h-2zM46 36h2v1h-2zM46 37h2v1h-2zM36 38h2v1h-2zM36 39h2v1h-2zM36 40h2v1h-2zM36 41h2v1h-2zM4 42h2v1h-2zM4 43h2v1h-2zM6 46h2v1h-2zM6 47h2v1h-2zM10 48h2v1h-2zM10 49h2v1h-2zM10 50h2v1h-2zM10 51h2v1h-2zM34 52h2v1h-2zM34 53h2v1h-2zM32 54h4v1h-4zM32 55h4v1h-4zM22 56h2v1h-2zM22 57h2v1h-2zM14 62h2v1h-2zM14 63h2v1h-2zM28 64h4v1h-4zM28 65h4v1h-4zM10 66h4v1h-4zM22 66h4v1h-4zM10 67h4v1h-4zM22 67h4v1h-4zM10 68h4v1h-4zM10 69h4v1h-4zM12 70h4v1h-4zM12 71h4v1h-4zM24 72h2v1h-2zM42 72h2v1h-2zM24 73h2v1h-2zM42 73h2v1h-2zM14 74h4v1h-4zM32 74h2v1h-2zM42 74h2v1h-2zM14 75h4v1h-4zM32 75h2v1h-2zM42 75h2v1h-2zM16 76h2v1h-2zM16 77h2v1h-2zM30 80h2v1h-2zM30 81h2v1h-2zM28 82h6v1h-6zM28 83h6v1h-6zM28 84h4v1h-4zM28 85h4v1h-4zM28 86h2v1h-2zM28 87h2v1h-2zM18 88h2v1h-2zM18 89h2v1h-2zM38 90h2v1h-2zM38 91h2v1h-2zM46 94h2v1h-2zM46 95h2v1h-2zM28 96h2v1h-2zM44 96h2v1h-2zM28 97h2v1h-2zM44 97h2v1h-2zM42 98h2v1h-2zM42 99h2v1h-2zM28 100h4v1h-4zM40 100h6v1h-6zM28 101h4v1h-4zM40 101h6v1h-6zM36 102h4v1h-4zM42 102h2v1h-2zM36 103h4v1h-4zM42 103h2v1h-2zM36 104h2v1h-2zM36 105h2v1h-2z"/>
</g>
<polygon points="122.6,22.6 126.1,26.4 131.7,33.4 138.6,40.3 142.8,45.9 144.9,52.9 145.6,59.9 146.3,66.9 148.4,73.8 152.6,83.6 156.8,92.0 161.7,99.3 170.0,114.8 178.0,133.4 186.5,152.0 193.5,167.0 197.0,176.0 201.0,190.7 205.1,207.8 209.7,229.4 214.4,251.1 217.5,269.7 218.5,280.0 217.2,292.4 214.1,304.8 213.4,317.2 216.5,329.6 217.8,341.9 217.5,360.5 217.7,373.2 215.3,388.1 211.1,394.8 207.0,403.0 207.8,411.3 211.1,424.6 215.3,437.9 221.9,449.5 226.6,450.2 232.1,449.7 237.7,454.0 239.2,460.5 238.7,467.9 235.9,477.2 231.2,488.4 225.6,499.6 219.1,510.7 211.7,521.9 204.2,536.8 197.7,548.0 189.3,549.4 180.0,551.3 174.4,549.8 175.0,546.1 174.4,542.0 163.3,533.1 152.1,521.9 140.9,510.7 131.6,499.6 124.2,488.4 118.6,477.2 116.8,467.9 115.8,458.6 113.0,449.3 110.0,444.0 106.6,432.9 100.0,419.6 90.0,404.7 80.0,389.8 70.1,374.9 63.5,364.9 56.0,355.8 49.4,345.0 48.2,338.0 47.2,323.0 48.4,311.0 51.2,290.8 52.4,270.6 50.0,254.5 45.2,234.4 39.1,218.2 33.1,206.1 31.9,199.4 31.4,192.9 30.3,186.4 30.8,181.0 32.5,178.3 37.4,177.2 40.1,176.1 38.4,172.3 36.3,168.0 34.1,164.7 32.5,160.9 33.0,158.2 36.3,156.0 36.8,153.3 35.2,152.2 30.8,151.1 27.8,147.9 27.4,143.0 27.6,135.4 29.2,130.0 29.5,122.0 31.0,112.0 32.6,101.8 33.3,92.0 33.3,83.6 34.7,76.6 38.1,69.6 42.3,65.5 47.9,61.3 57.7,55.0 66.1,48.7 73.0,43.1 77.2,38.9 82.1,34.8 85.6,32.7 90.5,31.5 98.2,32.4 103.8,32.0 112.1,30.3 117.7,26.4" fill="none" stroke="#000" stroke-width="1.6" stroke-linejoin="round"/>
<path d="M26.8 75.0H31.0M27.5 71.2V78.8" stroke="#444" stroke-opacity="0.75" stroke-width="0.9" fill="none"/>
<path d="M26.8 174.8H31.0M27.5 170.9V178.6" stroke="#444" stroke-opacity="0.75" stroke-width="0.9" fill="none"/>
<path d="M26.8 274.5H31.0M27.5 270.7V278.3" stroke="#444" stroke-opacity="0.75" stroke-width="0.9" fill="none"/>
<path d="M26.8 374.2H31.0M27.5 370.4V378.1" stroke="#444" stroke-opacity="0.75" stroke-width="0.9" fill="none"/>
<path d="M26.8 474.0H31.0M27.5 470.2V477.8" stroke="#444" stroke-opacity="0.75" stroke-width="0.9" fill="none"/>
<path d="M123.5 75.0H130.5M127.0 71.2V78.8" stroke="#444" stroke-opacity="0.75" stroke-width="0.9" fill="none"/>
<path d="M123.5 174.8H130.5M127.0 170.9V178.6" stroke="#444" stroke-opacity="0.75" stroke-width="0.9" fill="none"/>
<path d="M123.5 274.5H130.5M127.0 270.7V278.3" stroke="#444" stroke-opacity="0.75" stroke-width="0.9" fill="none"/>
<path d="M123.5 374.2H130.5M127.0 370.4V378.1" stroke="#444" stroke-opacity="0.75" stroke-width="0.9" fill="none"/>
<path d="M123.5 474.0H130.5M127.0 470.2V477.8" stroke="#444" stroke-opacity="0.75" stroke-width="0.9" fill="none"/>
<path d="M223.0 75.0H230.0M226.5 71.2V78.8" stroke="#444" stroke-opacity="0.75" stroke-width="0.9" fill="none"/>
<path d="M223.0 174.8H230.0M226.5 170.9V178.6" stroke="#444" stroke-opacity="0.75" stroke-width="0.9" fill="none"/>
<path d="M223.0 274.5H230.0M226.5 270.7V278.3" stroke="#444" stroke-opacity="0.75" stroke-width="0.9" fill="none"/>
<path d="M223.0 374.2H230.0M226.5 370.4V378.1" stroke="#444" stroke-opacity="0.75" stroke-width="0.9" fill="none"/>
<path d="M223.0 474.0H230.0M226.5 470.2V477.8" stroke="#444" stroke-opacity="0.75" stroke-width="0.9" fill="none"/>
<line x1="27.5" y1="13.8" x2="27.5" y2="18.3" stroke="#000" stroke-width="1.2"/>
<line x1="27.5" y1="557.8" x2="27.5" y2="562.3" stroke="#000" stroke-width="1.2"/>
<rect x="38.7" y="1.8" width="11.7" height="3" fill="#ededed"/>
<rect x="38.7" y="562.4" width="11.7" height="3" fill="#ededed"/>
<text x="3.5" y="11.7" textLength="34" lengthAdjust="spacingAndGlyphs" class="b">638000</text>
<text x="3.5" y="572.6" textLength="34" lengthAdjust="spacingAndGlyphs" class="b">638000</text>
<line x1="127.0" y1="13.8" x2="127.0" y2="18.3" stroke="#000" stroke-width="1.2"/>
<line x1="127.0" y1="557.8" x2="127.0" y2="562.3" stroke="#000" stroke-width="1.2"/>
<rect x="138.2" y="1.8" width="11.7" height="3" fill="#ededed"/>
<rect x="138.2" y="562.4" width="11.7" height="3" fill="#ededed"/>
<text x="103.0" y="11.7" textLength="34" lengthAdjust="spacingAndGlyphs" class="b">640000</text>
<text x="103.0" y="572.6" textLength="34" lengthAdjust="spacingAndGlyphs" class="b">640000</text>
<line x1="226.5" y1="13.8" x2="226.5" y2="18.3" stroke="#000" stroke-width="1.2"/>
<line x1="226.5" y1="557.8" x2="226.5" y2="562.3" stroke="#000" stroke-width="1.2"/>
<rect x="237.7" y="1.8" width="11.7" height="3" fill="#ededed"/>
<rect x="237.7" y="562.4" width="11.7" height="3" fill="#ededed"/>
<text x="202.5" y="11.7" textLength="34" lengthAdjust="spacingAndGlyphs" class="b">642000</text>
<text x="202.5" y="572.6" textLength="34" lengthAdjust="spacingAndGlyphs" class="b">642000</text>
<line x1="14.0" y1="75.0" x2="18.0" y2="75.0" stroke="#000" stroke-width="1.2"/>
<line x1="249.0" y1="75.0" x2="253.0" y2="75.0" stroke="#000" stroke-width="1.2"/>
<rect x="2.6" y="49.3" width="1.9" height="10.6" fill="#ededed"/>
<rect x="254.0" y="49.3" width="1.9" height="10.6" fill="#ededed"/>
<text transform="translate(11.6 101.0) rotate(-90)" textLength="40" lengthAdjust="spacingAndGlyphs" class="b" style="font-size:12.6px">4380000</text>
<text transform="translate(263.5 101.0) rotate(-90)" textLength="40" lengthAdjust="spacingAndGlyphs" class="b">4380000</text>
<line x1="14.0" y1="174.8" x2="18.0" y2="174.8" stroke="#000" stroke-width="1.2"/>
<line x1="249.0" y1="174.8" x2="253.0" y2="174.8" stroke="#000" stroke-width="1.2"/>
<rect x="2.6" y="149.1" width="1.9" height="10.6" fill="#ededed"/>
<rect x="254.0" y="149.1" width="1.9" height="10.6" fill="#ededed"/>
<text transform="translate(11.6 200.8) rotate(-90)" textLength="40" lengthAdjust="spacingAndGlyphs" class="b" style="font-size:12.6px">4378000</text>
<text transform="translate(263.5 200.8) rotate(-90)" textLength="40" lengthAdjust="spacingAndGlyphs" class="b">4378000</text>
<line x1="14.0" y1="274.5" x2="18.0" y2="274.5" stroke="#000" stroke-width="1.2"/>
<line x1="249.0" y1="274.5" x2="253.0" y2="274.5" stroke="#000" stroke-width="1.2"/>
<rect x="2.6" y="248.8" width="1.9" height="10.6" fill="#ededed"/>
<rect x="254.0" y="248.8" width="1.9" height="10.6" fill="#ededed"/>
<text transform="translate(11.6 300.5) rotate(-90)" textLength="40" lengthAdjust="spacingAndGlyphs" class="b" style="font-size:12.6px">4376000</text>
<text transform="translate(263.5 300.5) rotate(-90)" textLength="40" lengthAdjust="spacingAndGlyphs" class="b">4376000</text>
<line x1="14.0" y1="374.2" x2="18.0" y2="374.2" stroke="#000" stroke-width="1.2"/>
<line x1="249.0" y1="374.2" x2="253.0" y2="374.2" stroke="#000" stroke-width="1.2"/>
<rect x="2.6" y="348.6" width="1.9" height="10.6" fill="#ededed"/>
<rect x="254.0" y="348.6" width="1.9" height="10.6" fill="#ededed"/>
<text transform="translate(11.6 400.2) rotate(-90)" textLength="40" lengthAdjust="spacingAndGlyphs" class="b" style="font-size:12.6px">4374000</text>
<text transform="translate(263.5 400.2) rotate(-90)" textLength="40" lengthAdjust="spacingAndGlyphs" class="b">4374000</text>
<line x1="14.0" y1="474.0" x2="18.0" y2="474.0" stroke="#000" stroke-width="1.2"/>
<line x1="249.0" y1="474.0" x2="253.0" y2="474.0" stroke="#000" stroke-width="1.2"/>
<rect x="2.6" y="448.3" width="1.9" height="10.6" fill="#ededed"/>
<rect x="254.0" y="448.3" width="1.9" height="10.6" fill="#ededed"/>
<text transform="translate(11.6 500.0) rotate(-90)" textLength="40" lengthAdjust="spacingAndGlyphs" class="b" style="font-size:12.6px">4372000</text>
<text transform="translate(263.5 500.0) rotate(-90)" textLength="40" lengthAdjust="spacingAndGlyphs" class="b">4372000</text>
<rect x="287.2" y="24.0" width="3.9" height="25" fill="#000"/>
<rect x="276.8" y="34.4" width="25" height="4.3" fill="#000"/>
<rect x="276.8" y="51.8" width="25" height="3.9" fill="#000"/>
<defs><linearGradient id="gd" x1="0" y1="0" x2="0" y2="1"><stop offset="0" stop-color="#8a2624"/><stop offset="0.04" stop-color="#a03a22"/><stop offset="0.08" stop-color="#c0602a"/><stop offset="0.115" stop-color="#e8983c"/><stop offset="0.136" stop-color="#f4ac46"/><stop offset="0.165" stop-color="#e6bc86"/><stop offset="0.188" stop-color="#d8c4b2"/><stop offset="0.214" stop-color="#c4c0d4"/><stop offset="0.25" stop-color="#9490c8"/><stop offset="0.29" stop-color="#4a4aa8"/><stop offset="0.33" stop-color="#30308e"/><stop offset="0.4" stop-color="#2a2a84"/><stop offset="1" stop-color="#2a2a80"/></linearGradient></defs>
<rect x="271.1" y="113.2" width="12.30" height="377.80" fill="url(#gd)"/>
<text x="287.9" y="118.2" class="b" textLength="16.3" lengthAdjust="spacingAndGlyphs">298</text>
<text x="287.9" y="139.7" class="b" textLength="16.3" lengthAdjust="spacingAndGlyphs">296</text>
<text x="287.9" y="169.2" class="b" textLength="16.3" lengthAdjust="spacingAndGlyphs">294</text>
<text x="287.9" y="199.2" class="b" textLength="16.3" lengthAdjust="spacingAndGlyphs">292</text>
<text x="287.9" y="228.9" class="b" textLength="16.3" lengthAdjust="spacingAndGlyphs">290</text>
<text x="287.9" y="258.2" class="b" textLength="16.3" lengthAdjust="spacingAndGlyphs">288</text>
<text x="287.9" y="288.2" class="b" textLength="16.3" lengthAdjust="spacingAndGlyphs">286</text>
<text x="287.9" y="318.2" class="b" textLength="16.3" lengthAdjust="spacingAndGlyphs">284</text>
<text x="287.9" y="347.9" class="b" textLength="16.3" lengthAdjust="spacingAndGlyphs">282</text>
<text x="287.9" y="377.8" class="b" textLength="16.3" lengthAdjust="spacingAndGlyphs">280</text>
<text x="287.9" y="406.7" class="b" textLength="16.3" lengthAdjust="spacingAndGlyphs">278</text>
<text x="287.9" y="436.2" class="b" textLength="16.3" lengthAdjust="spacingAndGlyphs">276</text>
<text x="287.9" y="466.2" class="b" textLength="16.3" lengthAdjust="spacingAndGlyphs">274</text>
<text x="287.9" y="495.9" class="b" textLength="16.3" lengthAdjust="spacingAndGlyphs">272</text>
<text x="271" y="99.6" class="b" style="font-size:13px">T (K)</text>
<rect x="12.0" y="587.7" width="100.8" height="5.6" fill="#000"/>
<rect x="38.6" y="589.0" width="24.2" height="2.8" fill="#fff"/>
<text x="115.6" y="592.9" class="r" style="font-size:13px">Meters</text>
<text x="10.5" y="607.5" class="r" style="font-size:12.5px">0</text>
<text x="29.2" y="607.5" class="r" style="font-size:12.5px">5001,000</text>
<text x="98.0" y="607.5" class="r" style="font-size:12.5px">2,000</text>
<text x="156.0" y="597.0" class="b" style="font-size:13px">WGS 84, UTM Zone 48 N</text>
<text x="150.8" y="640.3" class="b" style="font-size:25px" text-anchor="middle"><tspan style="font-weight:normal">(</tspan>d<tspan style="font-weight:normal">)</tspan></text>
<rect x="384.8" y="18.3" width="230.00" height="537.90" fill="#fff" stroke="#000" stroke-width="1.5"/>
<g transform="translate(394.3 22.9) scale(4.3771 4.4644)" shape-rendering="crispEdges">
<path fill="#2c2c86" d="M39 11h1v1h-1zM3 94h1v1h-1zM2 95h1v1h-1zM8 96h2v1h-2zM6 98h1v1h-1zM10 101h1v1h-1zM8 105h1v1h-1zM1 106h1v1h-1zM1 107h1v1h-1zM10 110h2v1h-2zM24 111h2v1h-2zM7 115h1v1h-1z"/>
<path fill="#4242a6" d="M38 10h1v1h-1zM38 11h1v1h-1zM45 21h1v1h-1zM44 66h1v1h-1zM5 82h1v1h-1zM3 83h1v1h-1zM5 83h1v1h-1zM5 85h1v1h-1zM7 86h1v1h-1zM6 87h1v1h-1zM0 88h1v1h-1zM3 88h1v1h-1zM13 88h1v1h-1zM7 89h1v1h-1zM0 90h1v1h-1zM3 90h1v1h-1zM8 90h1v1h-1zM0 91h1v1h-1zM8 91h1v1h-1zM14 91h2v1h-2zM13 92h1v1h-1zM7 93h1v1h-1zM16 93h1v1h-1zM8 94h2v1h-2zM18 94h1v1h-1zM3 95h1v1h-1zM15 95h1v1h-1zM3 96h1v1h-1zM6 96h1v1h-1zM11 96h1v1h-1zM14 96h2v1h-2zM21 96h1v1h-1zM4 97h6v1h-6zM11 97h1v1h-1zM14 97h2v1h-2zM5 98h1v1h-1zM14 98h1v1h-1zM5 99h2v1h-2zM10 99h1v1h-1zM3 100h1v1h-1zM5 100h1v1h-1zM7 100h1v1h-1zM18 100h1v1h-1zM2 101h1v1h-1zM7 101h1v1h-1zM11 102h1v1h-1zM13 102h1v1h-1zM10 103h1v1h-1zM18 103h1v1h-1zM6 104h1v1h-1zM9 104h1v1h-1zM12 104h1v1h-1zM16 104h1v1h-1zM9 105h1v1h-1zM11 105h1v1h-1zM15 105h1v1h-1zM3 106h1v1h-1zM6 106h1v1h-1zM10 106h2v1h-2zM13 106h1v1h-1zM10 107h2v1h-2zM1 108h2v1h-2zM9 108h1v1h-1zM26 108h1v1h-1zM0 109h1v1h-1zM2 109h1v1h-1zM2 110h1v1h-1zM6 110h1v1h-1zM13 110h1v1h-1zM24 110h1v1h-1zM0 111h1v1h-1zM5 111h1v1h-1zM10 111h1v1h-1zM12 111h2v1h-2zM20 111h1v1h-1zM22 111h1v1h-1zM14 112h1v1h-1zM21 112h1v1h-1zM0 113h1v1h-1zM12 113h1v1h-1zM20 113h1v1h-1zM27 113h1v1h-1zM7 114h1v1h-1zM10 114h1v1h-1zM15 114h1v1h-1zM22 114h1v1h-1zM25 114h2v1h-2zM4 115h3v1h-3zM8 115h2v1h-2zM1 116h1v1h-1zM31 116h1v1h-1zM5 117h1v1h-1zM16 117h1v1h-1zM30 117h1v1h-1z"/>
<path fill="#5c5ab2" d="M15 2h1v1h-1zM41 2h1v1h-1zM43 2h1v1h-1zM46 2h1v1h-1zM15 3h1v1h-1zM40 3h2v1h-2zM46 3h1v1h-1zM9 4h3v1h-3zM46 4h1v1h-1zM9 5h1v1h-1zM45 5h1v1h-1zM40 6h1v1h-1zM43 6h2v1h-2zM41 7h1v1h-1zM44 7h1v1h-1zM31 9h1v1h-1zM15 10h1v1h-1zM39 10h1v1h-1zM41 10h1v1h-1zM47 10h1v1h-1zM34 11h2v1h-2zM40 11h2v1h-2zM46 11h1v1h-1zM34 13h1v1h-1zM38 15h1v1h-1zM6 17h1v1h-1zM5 18h1v1h-1zM37 18h1v1h-1zM42 18h1v1h-1zM5 19h1v1h-1zM40 19h1v1h-1zM43 19h2v1h-2zM36 20h1v1h-1zM42 20h1v1h-1zM44 20h2v1h-2zM33 21h1v1h-1zM37 21h1v1h-1zM32 22h1v1h-1zM41 23h1v1h-1zM6 37h1v1h-1zM24 40h2v1h-2zM44 45h1v1h-1zM46 47h1v1h-1zM5 51h1v1h-1zM22 51h1v1h-1zM14 54h1v1h-1zM7 55h1v1h-1zM14 55h1v1h-1zM44 58h1v1h-1zM43 59h2v1h-2zM2 60h1v1h-1zM4 60h1v1h-1zM42 60h2v1h-2zM43 61h1v1h-1zM44 62h4v1h-4zM3 63h2v1h-2zM40 63h1v1h-1zM44 63h2v1h-2zM3 64h1v1h-1zM6 64h1v1h-1zM38 64h1v1h-1zM45 64h1v1h-1zM1 65h1v1h-1zM42 65h1v1h-1zM4 66h1v1h-1zM4 67h2v1h-2zM15 67h1v1h-1zM4 68h1v1h-1zM1 69h2v1h-2zM7 71h1v1h-1zM0 73h1v1h-1zM8 73h1v1h-1zM5 75h1v1h-1zM6 77h1v1h-1zM41 77h1v1h-1zM6 78h2v1h-2zM20 78h1v1h-1zM2 79h1v1h-1zM6 79h1v1h-1zM0 80h1v1h-1zM11 80h1v1h-1zM38 80h1v1h-1zM0 81h1v1h-1zM6 81h1v1h-1zM38 81h1v1h-1zM44 81h1v1h-1zM1 82h3v1h-3zM8 82h1v1h-1zM12 82h1v1h-1zM22 82h1v1h-1zM2 83h1v1h-1zM4 83h1v1h-1zM8 83h2v1h-2zM42 83h1v1h-1zM0 84h2v1h-2zM5 84h5v1h-5zM41 84h1v1h-1zM1 85h4v1h-4zM6 85h4v1h-4zM23 85h1v1h-1zM40 85h2v1h-2zM0 86h7v1h-7zM8 86h1v1h-1zM10 86h1v1h-1zM23 86h1v1h-1zM41 86h1v1h-1zM2 87h4v1h-4zM7 87h2v1h-2zM11 87h1v1h-1zM14 87h1v1h-1zM1 88h2v1h-2zM6 88h3v1h-3zM10 88h1v1h-1zM42 88h1v1h-1zM0 89h3v1h-3zM6 89h1v1h-1zM9 89h5v1h-5zM42 89h1v1h-1zM4 90h2v1h-2zM7 90h1v1h-1zM9 90h2v1h-2zM14 90h2v1h-2zM1 91h3v1h-3zM5 91h2v1h-2zM9 91h3v1h-3zM23 91h1v1h-1zM4 92h2v1h-2zM7 92h1v1h-1zM10 92h1v1h-1zM12 92h1v1h-1zM14 92h4v1h-4zM41 92h1v1h-1zM5 93h2v1h-2zM8 93h1v1h-1zM14 93h2v1h-2zM17 93h2v1h-2zM41 93h1v1h-1zM43 93h1v1h-1zM0 94h3v1h-3zM7 94h1v1h-1zM10 94h5v1h-5zM19 94h1v1h-1zM24 94h2v1h-2zM5 95h1v1h-1zM8 95h4v1h-4zM13 95h2v1h-2zM16 95h1v1h-1zM18 95h2v1h-2zM25 95h1v1h-1zM34 95h1v1h-1zM0 96h2v1h-2zM4 96h2v1h-2zM7 96h1v1h-1zM10 96h1v1h-1zM12 96h1v1h-1zM16 96h2v1h-2zM20 96h1v1h-1zM32 96h2v1h-2zM0 97h2v1h-2zM3 97h1v1h-1zM10 97h1v1h-1zM17 97h5v1h-5zM34 97h1v1h-1zM36 97h1v1h-1zM3 98h2v1h-2zM7 98h5v1h-5zM13 98h1v1h-1zM15 98h1v1h-1zM19 98h1v1h-1zM33 98h1v1h-1zM2 99h3v1h-3zM7 99h3v1h-3zM11 99h1v1h-1zM19 99h1v1h-1zM0 100h3v1h-3zM4 100h1v1h-1zM6 100h1v1h-1zM8 100h4v1h-4zM13 100h2v1h-2zM19 100h1v1h-1zM0 101h1v1h-1zM3 101h4v1h-4zM8 101h2v1h-2zM11 101h1v1h-1zM16 101h1v1h-1zM18 101h3v1h-3zM0 102h4v1h-4zM7 102h2v1h-2zM10 102h1v1h-1zM14 102h10v1h-10zM0 103h5v1h-5zM6 103h1v1h-1zM8 103h2v1h-2zM11 103h7v1h-7zM19 103h5v1h-5zM0 104h2v1h-2zM7 104h2v1h-2zM11 104h1v1h-1zM13 104h3v1h-3zM17 104h1v1h-1zM22 104h4v1h-4zM1 105h1v1h-1zM6 105h2v1h-2zM10 105h1v1h-1zM12 105h2v1h-2zM16 105h2v1h-2zM20 105h1v1h-1zM22 105h4v1h-4zM0 106h1v1h-1zM2 106h1v1h-1zM4 106h1v1h-1zM7 106h2v1h-2zM0 107h1v1h-1zM2 107h7v1h-7zM13 107h1v1h-1zM17 107h1v1h-1zM0 108h1v1h-1zM3 108h4v1h-4zM8 108h1v1h-1zM10 108h1v1h-1zM21 108h1v1h-1zM27 108h1v1h-1zM32 108h1v1h-1zM1 109h1v1h-1zM3 109h1v1h-1zM5 109h1v1h-1zM8 109h2v1h-2zM11 109h1v1h-1zM26 109h2v1h-2zM0 110h2v1h-2zM3 110h2v1h-2zM7 110h3v1h-3zM17 110h1v1h-1zM20 110h1v1h-1zM23 110h1v1h-1zM25 110h1v1h-1zM1 111h3v1h-3zM6 111h3v1h-3zM11 111h1v1h-1zM14 111h1v1h-1zM16 111h1v1h-1zM21 111h1v1h-1zM23 111h1v1h-1zM27 111h3v1h-3zM33 111h1v1h-1zM0 112h4v1h-4zM12 112h2v1h-2zM16 112h2v1h-2zM22 112h8v1h-8zM1 113h1v1h-1zM3 113h1v1h-1zM10 113h1v1h-1zM13 113h5v1h-5zM23 113h1v1h-1zM25 113h2v1h-2zM28 113h2v1h-2zM46 113h1v1h-1zM0 114h2v1h-2zM4 114h3v1h-3zM8 114h2v1h-2zM18 114h1v1h-1zM23 114h2v1h-2zM27 114h1v1h-1zM3 115h1v1h-1zM10 115h7v1h-7zM22 115h1v1h-1zM24 115h5v1h-5zM0 116h1v1h-1zM7 116h2v1h-2zM10 116h1v1h-1zM12 116h3v1h-3zM16 116h2v1h-2zM22 116h3v1h-3zM26 116h2v1h-2zM29 116h1v1h-1zM1 117h1v1h-1zM3 117h2v1h-2zM7 117h2v1h-2zM12 117h4v1h-4zM22 117h1v1h-1zM25 117h2v1h-2zM28 117h2v1h-2zM31 117h1v1h-1z"/>
<path fill="#7e7ac2" d="M21 0h1v1h-1zM36 0h1v1h-1zM39 0h2v1h-2zM42 0h1v1h-1zM19 1h1v1h-1zM21 1h1v1h-1zM12 2h1v1h-1zM42 2h1v1h-1zM44 2h2v1h-2zM47 2h1v1h-1zM14 3h1v1h-1zM39 3h1v1h-1zM44 3h2v1h-2zM47 3h1v1h-1zM8 4h1v1h-1zM36 4h1v1h-1zM42 4h3v1h-3zM47 4h1v1h-1zM8 5h1v1h-1zM10 5h2v1h-2zM35 5h1v1h-1zM44 5h1v1h-1zM46 5h2v1h-2zM21 6h1v1h-1zM36 6h1v1h-1zM39 6h1v1h-1zM42 6h1v1h-1zM45 6h1v1h-1zM40 7h1v1h-1zM43 7h1v1h-1zM45 7h1v1h-1zM31 8h1v1h-1zM33 8h1v1h-1zM39 8h1v1h-1zM18 9h1v1h-1zM30 9h1v1h-1zM36 9h2v1h-2zM43 9h1v1h-1zM14 10h1v1h-1zM34 10h4v1h-4zM40 10h1v1h-1zM44 10h3v1h-3zM14 11h1v1h-1zM44 11h2v1h-2zM47 11h1v1h-1zM34 12h3v1h-3zM38 12h2v1h-2zM41 12h1v1h-1zM47 12h1v1h-1zM2 13h1v1h-1zM7 13h1v1h-1zM35 13h1v1h-1zM38 13h2v1h-2zM43 13h1v1h-1zM45 13h1v1h-1zM15 14h1v1h-1zM38 14h2v1h-2zM44 14h1v1h-1zM47 14h1v1h-1zM15 15h1v1h-1zM39 15h1v1h-1zM45 15h1v1h-1zM5 16h3v1h-3zM16 16h1v1h-1zM33 16h1v1h-1zM38 16h1v1h-1zM44 16h1v1h-1zM46 16h1v1h-1zM4 17h2v1h-2zM7 17h1v1h-1zM4 18h1v1h-1zM6 18h1v1h-1zM34 18h1v1h-1zM39 18h1v1h-1zM41 18h1v1h-1zM43 18h3v1h-3zM47 18h1v1h-1zM2 19h1v1h-1zM4 19h1v1h-1zM36 19h2v1h-2zM41 19h2v1h-2zM45 19h3v1h-3zM29 20h1v1h-1zM32 20h2v1h-2zM37 20h5v1h-5zM43 20h1v1h-1zM46 20h2v1h-2zM31 21h1v1h-1zM34 21h1v1h-1zM38 21h3v1h-3zM44 21h1v1h-1zM46 21h2v1h-2zM29 22h1v1h-1zM31 22h1v1h-1zM33 22h2v1h-2zM36 22h2v1h-2zM40 22h2v1h-2zM44 22h2v1h-2zM30 23h1v1h-1zM32 23h2v1h-2zM42 23h2v1h-2zM45 23h2v1h-2zM26 24h1v1h-1zM37 24h1v1h-1zM39 24h1v1h-1zM36 25h1v1h-1zM10 26h1v1h-1zM41 26h1v1h-1zM46 26h2v1h-2zM10 27h2v1h-2zM38 27h1v1h-1zM41 27h1v1h-1zM25 28h1v1h-1zM29 28h1v1h-1zM46 28h1v1h-1zM0 29h2v1h-2zM29 29h1v1h-1zM1 30h1v1h-1zM28 30h2v1h-2zM14 31h1v1h-1zM46 31h1v1h-1zM3 34h1v1h-1zM15 34h3v1h-3zM13 35h1v1h-1zM6 36h1v1h-1zM13 36h3v1h-3zM3 37h1v1h-1zM12 37h2v1h-2zM15 37h1v1h-1zM13 38h2v1h-2zM24 38h1v1h-1zM12 40h1v1h-1zM15 40h1v1h-1zM25 41h1v1h-1zM25 42h1v1h-1zM47 42h1v1h-1zM15 43h1v1h-1zM25 43h1v1h-1zM15 44h1v1h-1zM17 44h1v1h-1zM21 44h1v1h-1zM45 44h1v1h-1zM47 44h1v1h-1zM21 45h1v1h-1zM29 45h1v1h-1zM42 45h1v1h-1zM45 45h3v1h-3zM14 46h1v1h-1zM16 46h1v1h-1zM25 46h1v1h-1zM42 46h6v1h-6zM16 47h2v1h-2zM20 47h1v1h-1zM22 47h1v1h-1zM32 47h1v1h-1zM44 47h2v1h-2zM13 48h1v1h-1zM40 48h1v1h-1zM44 48h1v1h-1zM0 49h1v1h-1zM23 49h1v1h-1zM40 49h1v1h-1zM4 50h2v1h-2zM13 50h3v1h-3zM22 50h2v1h-2zM26 50h2v1h-2zM4 51h1v1h-1zM15 51h1v1h-1zM23 51h1v1h-1zM26 51h1v1h-1zM41 51h1v1h-1zM4 52h2v1h-2zM7 52h1v1h-1zM12 52h4v1h-4zM22 52h2v1h-2zM29 52h2v1h-2zM42 52h1v1h-1zM46 52h1v1h-1zM4 53h1v1h-1zM6 53h1v1h-1zM12 53h2v1h-2zM15 53h1v1h-1zM23 53h1v1h-1zM28 53h2v1h-2zM7 54h1v1h-1zM15 54h1v1h-1zM46 54h1v1h-1zM6 55h1v1h-1zM15 55h1v1h-1zM41 55h1v1h-1zM44 55h1v1h-1zM47 55h1v1h-1zM1 56h1v1h-1zM11 56h1v1h-1zM44 56h1v1h-1zM46 56h2v1h-2zM15 57h1v1h-1zM43 57h5v1h-5zM2 58h1v1h-1zM12 58h2v1h-2zM43 58h1v1h-1zM46 58h1v1h-1zM42 59h1v1h-1zM45 59h1v1h-1zM3 60h1v1h-1zM5 60h1v1h-1zM8 60h1v1h-1zM44 60h2v1h-2zM47 60h1v1h-1zM2 61h4v1h-4zM7 61h1v1h-1zM9 61h1v1h-1zM42 61h1v1h-1zM44 61h1v1h-1zM0 62h1v1h-1zM3 62h3v1h-3zM34 62h1v1h-1zM40 62h4v1h-4zM5 63h2v1h-2zM25 63h1v1h-1zM34 63h1v1h-1zM41 63h3v1h-3zM46 63h1v1h-1zM0 64h3v1h-3zM4 64h2v1h-2zM7 64h1v1h-1zM16 64h2v1h-2zM39 64h1v1h-1zM42 64h3v1h-3zM0 65h1v1h-1zM2 65h1v1h-1zM5 65h3v1h-3zM16 65h2v1h-2zM36 65h1v1h-1zM38 65h2v1h-2zM41 65h1v1h-1zM44 65h1v1h-1zM46 65h1v1h-1zM2 66h2v1h-2zM5 66h3v1h-3zM9 66h1v1h-1zM14 66h4v1h-4zM31 66h1v1h-1zM38 66h4v1h-4zM45 66h3v1h-3zM2 67h2v1h-2zM7 67h1v1h-1zM14 67h1v1h-1zM16 67h2v1h-2zM38 67h1v1h-1zM40 67h2v1h-2zM44 67h2v1h-2zM0 68h4v1h-4zM5 68h2v1h-2zM39 68h2v1h-2zM45 68h1v1h-1zM47 68h1v1h-1zM0 69h1v1h-1zM4 69h2v1h-2zM38 69h1v1h-1zM45 69h1v1h-1zM0 70h1v1h-1zM2 70h2v1h-2zM6 70h1v1h-1zM40 70h1v1h-1zM44 70h1v1h-1zM2 71h3v1h-3zM6 71h1v1h-1zM37 71h1v1h-1zM43 71h1v1h-1zM45 71h1v1h-1zM0 72h2v1h-2zM4 72h1v1h-1zM6 72h5v1h-5zM41 72h1v1h-1zM1 73h1v1h-1zM5 73h1v1h-1zM10 73h1v1h-1zM31 73h1v1h-1zM36 73h1v1h-1zM1 74h1v1h-1zM3 74h4v1h-4zM22 74h2v1h-2zM4 75h1v1h-1zM7 75h1v1h-1zM4 76h1v1h-1zM6 76h2v1h-2zM22 76h2v1h-2zM36 76h1v1h-1zM40 76h2v1h-2zM44 76h1v1h-1zM5 77h1v1h-1zM7 77h2v1h-2zM22 77h2v1h-2zM40 77h1v1h-1zM0 78h4v1h-4zM5 78h1v1h-1zM42 78h2v1h-2zM0 79h1v1h-1zM3 79h1v1h-1zM7 79h2v1h-2zM21 79h1v1h-1zM38 79h2v1h-2zM42 79h2v1h-2zM45 79h1v1h-1zM1 80h1v1h-1zM3 80h2v1h-2zM7 80h1v1h-1zM10 80h1v1h-1zM20 80h1v1h-1zM42 80h2v1h-2zM45 80h2v1h-2zM1 81h1v1h-1zM7 81h1v1h-1zM10 81h2v1h-2zM20 81h2v1h-2zM36 81h1v1h-1zM45 81h1v1h-1zM0 82h1v1h-1zM4 82h1v1h-1zM9 82h1v1h-1zM20 82h2v1h-2zM41 82h4v1h-4zM47 82h1v1h-1zM1 83h1v1h-1zM18 83h1v1h-1zM20 83h4v1h-4zM40 83h1v1h-1zM44 83h1v1h-1zM2 84h1v1h-1zM4 84h1v1h-1zM12 84h2v1h-2zM20 84h4v1h-4zM42 84h1v1h-1zM44 84h1v1h-1zM0 85h1v1h-1zM10 85h4v1h-4zM20 85h2v1h-2zM42 85h1v1h-1zM9 86h1v1h-1zM11 86h2v1h-2zM14 86h1v1h-1zM16 86h2v1h-2zM22 86h1v1h-1zM40 86h1v1h-1zM0 87h2v1h-2zM9 87h2v1h-2zM12 87h2v1h-2zM15 87h3v1h-3zM23 87h1v1h-1zM37 87h1v1h-1zM39 87h1v1h-1zM41 87h1v1h-1zM44 87h1v1h-1zM4 88h2v1h-2zM11 88h2v1h-2zM14 88h1v1h-1zM23 88h1v1h-1zM36 88h1v1h-1zM38 88h1v1h-1zM40 88h1v1h-1zM43 88h1v1h-1zM3 89h3v1h-3zM8 89h1v1h-1zM14 89h3v1h-3zM23 89h2v1h-2zM40 89h1v1h-1zM43 89h1v1h-1zM1 90h2v1h-2zM11 90h3v1h-3zM17 90h1v1h-1zM22 90h1v1h-1zM24 90h1v1h-1zM42 90h2v1h-2zM4 91h1v1h-1zM7 91h1v1h-1zM12 91h1v1h-1zM17 91h1v1h-1zM22 91h1v1h-1zM24 91h1v1h-1zM33 91h1v1h-1zM39 91h1v1h-1zM42 91h1v1h-1zM46 91h1v1h-1zM0 92h4v1h-4zM6 92h1v1h-1zM8 92h2v1h-2zM18 92h2v1h-2zM22 92h2v1h-2zM26 92h1v1h-1zM32 92h1v1h-1zM34 92h2v1h-2zM38 92h3v1h-3zM42 92h3v1h-3zM2 93h3v1h-3zM9 93h5v1h-5zM19 93h1v1h-1zM22 93h2v1h-2zM32 93h1v1h-1zM35 93h1v1h-1zM39 93h2v1h-2zM42 93h1v1h-1zM4 94h3v1h-3zM15 94h3v1h-3zM32 94h3v1h-3zM40 94h1v1h-1zM42 94h2v1h-2zM0 95h2v1h-2zM4 95h1v1h-1zM6 95h1v1h-1zM12 95h1v1h-1zM17 95h1v1h-1zM20 95h1v1h-1zM24 95h1v1h-1zM32 95h2v1h-2zM42 95h2v1h-2zM2 96h1v1h-1zM13 96h1v1h-1zM19 96h1v1h-1zM34 96h3v1h-3zM2 97h1v1h-1zM12 97h2v1h-2zM16 97h1v1h-1zM23 97h1v1h-1zM31 97h3v1h-3zM35 97h1v1h-1zM37 97h1v1h-1zM39 97h1v1h-1zM0 98h3v1h-3zM12 98h1v1h-1zM18 98h1v1h-1zM32 98h1v1h-1zM35 98h1v1h-1zM12 99h4v1h-4zM17 99h1v1h-1zM20 99h2v1h-2zM32 99h2v1h-2zM35 99h1v1h-1zM12 100h1v1h-1zM15 100h3v1h-3zM20 100h3v1h-3zM1 101h1v1h-1zM12 101h4v1h-4zM17 101h1v1h-1zM21 101h1v1h-1zM32 101h1v1h-1zM35 101h1v1h-1zM5 102h2v1h-2zM9 102h1v1h-1zM12 102h1v1h-1zM46 102h1v1h-1zM5 103h1v1h-1zM7 103h1v1h-1zM2 104h1v1h-1zM5 104h1v1h-1zM10 104h1v1h-1zM18 104h4v1h-4zM0 105h1v1h-1zM3 105h3v1h-3zM14 105h1v1h-1zM18 105h2v1h-2zM21 105h1v1h-1zM5 106h1v1h-1zM12 106h1v1h-1zM15 106h2v1h-2zM18 106h1v1h-1zM24 106h2v1h-2zM35 106h1v1h-1zM12 107h1v1h-1zM15 107h1v1h-1zM18 107h1v1h-1zM22 107h1v1h-1zM32 107h1v1h-1zM47 107h1v1h-1zM7 108h1v1h-1zM11 108h3v1h-3zM23 108h1v1h-1zM31 108h1v1h-1zM33 108h1v1h-1zM4 109h1v1h-1zM7 109h1v1h-1zM10 109h1v1h-1zM13 109h1v1h-1zM20 109h1v1h-1zM24 109h1v1h-1zM31 109h3v1h-3zM5 110h1v1h-1zM12 110h1v1h-1zM21 110h2v1h-2zM26 110h4v1h-4zM32 110h3v1h-3zM37 110h3v1h-3zM46 110h2v1h-2zM4 111h1v1h-1zM9 111h1v1h-1zM15 111h1v1h-1zM17 111h3v1h-3zM26 111h1v1h-1zM32 111h1v1h-1zM34 111h1v1h-1zM43 111h1v1h-1zM46 111h2v1h-2zM6 112h1v1h-1zM8 112h2v1h-2zM11 112h1v1h-1zM15 112h1v1h-1zM18 112h3v1h-3zM44 112h1v1h-1zM46 112h2v1h-2zM2 113h1v1h-1zM6 113h1v1h-1zM8 113h2v1h-2zM11 113h1v1h-1zM19 113h1v1h-1zM21 113h2v1h-2zM24 113h1v1h-1zM31 113h1v1h-1zM34 113h1v1h-1zM37 113h1v1h-1zM47 113h1v1h-1zM2 114h2v1h-2zM11 114h4v1h-4zM16 114h2v1h-2zM19 114h3v1h-3zM28 114h2v1h-2zM38 114h2v1h-2zM44 114h1v1h-1zM46 114h2v1h-2zM0 115h3v1h-3zM17 115h3v1h-3zM21 115h1v1h-1zM23 115h1v1h-1zM29 115h1v1h-1zM36 115h1v1h-1zM38 115h1v1h-1zM42 115h1v1h-1zM45 115h1v1h-1zM3 116h4v1h-4zM9 116h1v1h-1zM11 116h1v1h-1zM15 116h1v1h-1zM18 116h2v1h-2zM21 116h1v1h-1zM25 116h1v1h-1zM28 116h1v1h-1zM30 116h1v1h-1zM34 116h1v1h-1zM36 116h1v1h-1zM40 116h1v1h-1zM0 117h1v1h-1zM6 117h1v1h-1zM10 117h1v1h-1zM17 117h1v1h-1zM19 117h2v1h-2zM23 117h2v1h-2zM27 117h1v1h-1zM33 117h2v1h-2zM37 117h1v1h-1zM39 117h2v1h-2zM44 117h2v1h-2z"/>
<path fill="#a894b4" d="M17 0h3v1h-3zM37 0h2v1h-2zM41 0h1v1h-1zM43 0h1v1h-1zM46 0h2v1h-2zM18 1h1v1h-1zM20 1h1v1h-1zM26 1h2v1h-2zM36 1h8v1h-8zM46 1h1v1h-1zM4 2h1v1h-1zM13 2h2v1h-2zM19 2h1v1h-1zM36 2h2v1h-2zM40 2h1v1h-1zM5 3h1v1h-1zM11 3h1v1h-1zM13 3h1v1h-1zM18 3h1v1h-1zM33 3h1v1h-1zM36 3h1v1h-1zM38 3h1v1h-1zM42 3h2v1h-2zM31 4h1v1h-1zM33 4h2v1h-2zM37 4h2v1h-2zM40 4h1v1h-1zM45 4h1v1h-1zM6 5h1v1h-1zM13 5h1v1h-1zM20 5h1v1h-1zM34 5h1v1h-1zM36 5h2v1h-2zM40 5h4v1h-4zM19 6h2v1h-2zM33 6h1v1h-1zM37 6h2v1h-2zM41 6h1v1h-1zM47 6h1v1h-1zM6 7h3v1h-3zM19 7h1v1h-1zM21 7h1v1h-1zM34 7h1v1h-1zM36 7h1v1h-1zM39 7h1v1h-1zM42 7h1v1h-1zM47 7h1v1h-1zM2 8h2v1h-2zM12 8h1v1h-1zM15 8h1v1h-1zM17 8h2v1h-2zM30 8h1v1h-1zM32 8h1v1h-1zM35 8h1v1h-1zM38 8h1v1h-1zM40 8h1v1h-1zM42 8h4v1h-4zM7 9h1v1h-1zM11 9h1v1h-1zM13 9h1v1h-1zM19 9h1v1h-1zM32 9h1v1h-1zM35 9h1v1h-1zM38 9h1v1h-1zM40 9h2v1h-2zM44 9h4v1h-4zM1 10h1v1h-1zM5 10h1v1h-1zM32 10h2v1h-2zM43 10h1v1h-1zM15 11h1v1h-1zM32 11h2v1h-2zM36 11h2v1h-2zM42 11h2v1h-2zM0 12h4v1h-4zM7 12h1v1h-1zM12 12h1v1h-1zM32 12h2v1h-2zM37 12h1v1h-1zM40 12h1v1h-1zM42 12h4v1h-4zM3 13h1v1h-1zM8 13h1v1h-1zM32 13h2v1h-2zM36 13h2v1h-2zM40 13h1v1h-1zM42 13h1v1h-1zM44 13h1v1h-1zM46 13h2v1h-2zM1 14h2v1h-2zM13 14h2v1h-2zM16 14h1v1h-1zM34 14h2v1h-2zM42 14h2v1h-2zM45 14h2v1h-2zM2 15h3v1h-3zM14 15h1v1h-1zM16 15h2v1h-2zM34 15h1v1h-1zM46 15h1v1h-1zM4 16h1v1h-1zM9 16h2v1h-2zM17 16h1v1h-1zM30 16h1v1h-1zM32 16h1v1h-1zM34 16h1v1h-1zM37 16h1v1h-1zM39 16h1v1h-1zM42 16h2v1h-2zM45 16h1v1h-1zM47 16h1v1h-1zM11 17h1v1h-1zM16 17h2v1h-2zM26 17h1v1h-1zM29 17h2v1h-2zM32 17h2v1h-2zM38 17h2v1h-2zM42 17h4v1h-4zM47 17h1v1h-1zM3 18h1v1h-1zM7 18h1v1h-1zM28 18h1v1h-1zM32 18h1v1h-1zM35 18h2v1h-2zM38 18h1v1h-1zM40 18h1v1h-1zM46 18h1v1h-1zM6 19h2v1h-2zM28 19h2v1h-2zM33 19h1v1h-1zM35 19h1v1h-1zM38 19h2v1h-2zM28 20h1v1h-1zM30 20h2v1h-2zM34 20h1v1h-1zM29 21h2v1h-2zM32 21h1v1h-1zM36 21h1v1h-1zM41 21h3v1h-3zM35 22h1v1h-1zM38 22h2v1h-2zM42 22h2v1h-2zM46 22h2v1h-2zM2 23h2v1h-2zM28 23h2v1h-2zM31 23h1v1h-1zM34 23h5v1h-5zM40 23h1v1h-1zM44 23h1v1h-1zM27 24h1v1h-1zM30 24h3v1h-3zM35 24h2v1h-2zM40 24h2v1h-2zM46 24h2v1h-2zM12 25h1v1h-1zM26 25h1v1h-1zM30 25h2v1h-2zM39 25h1v1h-1zM41 25h1v1h-1zM44 25h3v1h-3zM0 26h1v1h-1zM2 26h1v1h-1zM4 26h2v1h-2zM11 26h1v1h-1zM22 26h1v1h-1zM24 26h1v1h-1zM32 26h1v1h-1zM39 26h1v1h-1zM42 26h4v1h-4zM0 27h1v1h-1zM5 27h1v1h-1zM23 27h1v1h-1zM36 27h2v1h-2zM39 27h2v1h-2zM42 27h2v1h-2zM45 27h3v1h-3zM1 28h1v1h-1zM17 28h1v1h-1zM19 28h1v1h-1zM23 28h2v1h-2zM31 28h1v1h-1zM34 28h2v1h-2zM45 28h1v1h-1zM47 28h1v1h-1zM15 29h2v1h-2zM18 29h1v1h-1zM23 29h2v1h-2zM28 29h1v1h-1zM31 29h1v1h-1zM33 29h1v1h-1zM35 29h1v1h-1zM47 29h1v1h-1zM0 30h1v1h-1zM12 30h1v1h-1zM14 30h3v1h-3zM18 30h2v1h-2zM24 30h1v1h-1zM33 30h1v1h-1zM46 30h2v1h-2zM0 31h2v1h-2zM3 31h1v1h-1zM12 31h2v1h-2zM15 31h1v1h-1zM18 31h3v1h-3zM25 31h2v1h-2zM28 31h2v1h-2zM39 31h1v1h-1zM47 31h1v1h-1zM3 32h2v1h-2zM12 32h1v1h-1zM20 32h2v1h-2zM27 32h1v1h-1zM30 32h3v1h-3zM2 33h1v1h-1zM5 33h1v1h-1zM13 33h3v1h-3zM20 33h1v1h-1zM31 33h2v1h-2zM1 34h2v1h-2zM6 34h2v1h-2zM12 34h3v1h-3zM20 34h1v1h-1zM22 34h1v1h-1zM2 35h2v1h-2zM12 35h1v1h-1zM15 35h1v1h-1zM18 35h2v1h-2zM22 35h2v1h-2zM1 36h4v1h-4zM7 36h1v1h-1zM11 36h2v1h-2zM17 36h1v1h-1zM23 36h1v1h-1zM1 37h2v1h-2zM4 37h1v1h-1zM7 37h1v1h-1zM14 37h1v1h-1zM17 37h1v1h-1zM20 37h3v1h-3zM1 38h1v1h-1zM9 38h1v1h-1zM12 38h1v1h-1zM15 38h1v1h-1zM17 38h1v1h-1zM25 38h1v1h-1zM40 38h1v1h-1zM0 39h1v1h-1zM2 39h2v1h-2zM13 39h3v1h-3zM22 39h2v1h-2zM41 39h1v1h-1zM10 40h2v1h-2zM13 40h2v1h-2zM17 40h1v1h-1zM20 40h1v1h-1zM28 40h1v1h-1zM44 40h1v1h-1zM1 41h1v1h-1zM3 41h1v1h-1zM12 41h3v1h-3zM17 41h1v1h-1zM23 41h2v1h-2zM0 42h1v1h-1zM12 42h4v1h-4zM17 42h2v1h-2zM24 42h1v1h-1zM33 42h1v1h-1zM40 42h2v1h-2zM46 42h1v1h-1zM12 43h2v1h-2zM16 43h2v1h-2zM19 43h1v1h-1zM27 43h1v1h-1zM41 43h1v1h-1zM45 43h3v1h-3zM14 44h1v1h-1zM16 44h1v1h-1zM19 44h2v1h-2zM24 44h1v1h-1zM31 44h1v1h-1zM38 44h7v1h-7zM46 44h1v1h-1zM0 45h1v1h-1zM14 45h4v1h-4zM23 45h1v1h-1zM25 45h1v1h-1zM27 45h2v1h-2zM32 45h1v1h-1zM41 45h1v1h-1zM43 45h1v1h-1zM0 46h1v1h-1zM17 46h1v1h-1zM20 46h1v1h-1zM23 46h2v1h-2zM28 46h1v1h-1zM32 46h2v1h-2zM38 46h1v1h-1zM0 47h1v1h-1zM15 47h1v1h-1zM19 47h1v1h-1zM23 47h2v1h-2zM29 47h1v1h-1zM31 47h1v1h-1zM33 47h1v1h-1zM38 47h4v1h-4zM47 47h1v1h-1zM0 48h6v1h-6zM12 48h1v1h-1zM14 48h2v1h-2zM20 48h4v1h-4zM27 48h3v1h-3zM34 48h4v1h-4zM45 48h3v1h-3zM3 49h3v1h-3zM12 49h3v1h-3zM19 49h1v1h-1zM21 49h2v1h-2zM28 49h3v1h-3zM34 49h3v1h-3zM41 49h1v1h-1zM44 49h4v1h-4zM2 50h2v1h-2zM6 50h2v1h-2zM28 50h1v1h-1zM31 50h1v1h-1zM40 50h2v1h-2zM43 50h1v1h-1zM46 50h2v1h-2zM2 51h1v1h-1zM7 51h1v1h-1zM13 51h2v1h-2zM20 51h1v1h-1zM24 51h1v1h-1zM27 51h1v1h-1zM40 51h1v1h-1zM42 51h2v1h-2zM46 51h2v1h-2zM6 52h1v1h-1zM17 52h1v1h-1zM27 52h2v1h-2zM31 52h1v1h-1zM40 52h1v1h-1zM43 52h1v1h-1zM45 52h1v1h-1zM47 52h1v1h-1zM3 53h1v1h-1zM5 53h1v1h-1zM7 53h1v1h-1zM14 53h1v1h-1zM18 53h1v1h-1zM21 53h2v1h-2zM38 53h1v1h-1zM42 53h3v1h-3zM47 53h1v1h-1zM0 54h2v1h-2zM4 54h3v1h-3zM23 54h1v1h-1zM28 54h1v1h-1zM40 54h2v1h-2zM44 54h2v1h-2zM0 55h1v1h-1zM5 55h1v1h-1zM8 55h1v1h-1zM17 55h1v1h-1zM19 55h1v1h-1zM22 55h1v1h-1zM28 55h2v1h-2zM31 55h1v1h-1zM40 55h1v1h-1zM45 55h2v1h-2zM0 56h1v1h-1zM4 56h2v1h-2zM10 56h1v1h-1zM30 56h1v1h-1zM40 56h1v1h-1zM42 56h2v1h-2zM45 56h1v1h-1zM0 57h2v1h-2zM5 57h1v1h-1zM10 57h2v1h-2zM14 57h1v1h-1zM42 57h1v1h-1zM3 58h3v1h-3zM14 58h1v1h-1zM38 58h5v1h-5zM45 58h1v1h-1zM47 58h1v1h-1zM2 59h2v1h-2zM40 59h2v1h-2zM46 59h1v1h-1zM0 60h1v1h-1zM6 60h2v1h-2zM9 60h1v1h-1zM38 60h1v1h-1zM40 60h1v1h-1zM46 60h1v1h-1zM0 61h2v1h-2zM6 61h1v1h-1zM8 61h1v1h-1zM33 61h1v1h-1zM36 61h2v1h-2zM45 61h3v1h-3zM1 62h2v1h-2zM24 62h3v1h-3zM35 62h2v1h-2zM0 63h3v1h-3zM24 63h1v1h-1zM35 63h3v1h-3zM47 63h1v1h-1zM8 64h2v1h-2zM18 64h2v1h-2zM36 64h2v1h-2zM41 64h1v1h-1zM46 64h1v1h-1zM3 65h2v1h-2zM8 65h2v1h-2zM18 65h2v1h-2zM35 65h1v1h-1zM37 65h1v1h-1zM43 65h1v1h-1zM45 65h1v1h-1zM0 66h1v1h-1zM8 66h1v1h-1zM28 66h1v1h-1zM30 66h1v1h-1zM32 66h1v1h-1zM42 66h2v1h-2zM1 67h1v1h-1zM6 67h1v1h-1zM8 67h1v1h-1zM30 67h2v1h-2zM39 67h1v1h-1zM46 67h2v1h-2zM7 68h1v1h-1zM18 68h2v1h-2zM29 68h1v1h-1zM34 68h1v1h-1zM38 68h1v1h-1zM41 68h1v1h-1zM3 69h1v1h-1zM7 69h1v1h-1zM18 69h1v1h-1zM34 69h1v1h-1zM39 69h1v1h-1zM41 69h1v1h-1zM46 69h2v1h-2zM1 70h1v1h-1zM5 70h1v1h-1zM7 70h3v1h-3zM31 70h1v1h-1zM36 70h2v1h-2zM41 70h1v1h-1zM43 70h1v1h-1zM0 71h2v1h-2zM5 71h1v1h-1zM8 71h2v1h-2zM34 71h1v1h-1zM36 71h1v1h-1zM40 71h3v1h-3zM44 71h1v1h-1zM2 72h2v1h-2zM5 72h1v1h-1zM11 72h1v1h-1zM31 72h1v1h-1zM36 72h2v1h-2zM40 72h1v1h-1zM2 73h3v1h-3zM6 73h1v1h-1zM9 73h1v1h-1zM11 73h1v1h-1zM30 73h1v1h-1zM37 73h1v1h-1zM39 73h1v1h-1zM41 73h1v1h-1zM0 74h1v1h-1zM7 74h1v1h-1zM36 74h1v1h-1zM38 74h2v1h-2zM44 74h1v1h-1zM0 75h1v1h-1zM2 75h2v1h-2zM6 75h1v1h-1zM22 75h2v1h-2zM26 75h1v1h-1zM31 75h1v1h-1zM38 75h2v1h-2zM0 76h2v1h-2zM5 76h1v1h-1zM8 76h2v1h-2zM24 76h2v1h-2zM30 76h1v1h-1zM39 76h1v1h-1zM45 76h1v1h-1zM0 77h2v1h-2zM4 77h1v1h-1zM9 77h1v1h-1zM19 77h1v1h-1zM35 77h5v1h-5zM44 77h1v1h-1zM8 78h2v1h-2zM16 78h1v1h-1zM21 78h1v1h-1zM38 78h1v1h-1zM44 78h2v1h-2zM1 79h1v1h-1zM4 79h2v1h-2zM9 79h1v1h-1zM17 79h2v1h-2zM20 79h1v1h-1zM26 79h1v1h-1zM44 79h1v1h-1zM2 80h1v1h-1zM5 80h2v1h-2zM9 80h1v1h-1zM12 80h2v1h-2zM15 80h1v1h-1zM18 80h2v1h-2zM21 80h1v1h-1zM36 80h2v1h-2zM39 80h1v1h-1zM44 80h1v1h-1zM47 80h1v1h-1zM3 81h3v1h-3zM8 81h1v1h-1zM12 81h2v1h-2zM19 81h1v1h-1zM22 81h1v1h-1zM25 81h1v1h-1zM39 81h1v1h-1zM41 81h3v1h-3zM6 82h2v1h-2zM13 82h1v1h-1zM18 82h1v1h-1zM23 82h1v1h-1zM36 82h1v1h-1zM39 82h1v1h-1zM45 82h1v1h-1zM0 83h1v1h-1zM6 83h2v1h-2zM10 83h4v1h-4zM17 83h1v1h-1zM19 83h1v1h-1zM38 83h2v1h-2zM43 83h1v1h-1zM45 83h2v1h-2zM3 84h1v1h-1zM10 84h2v1h-2zM18 84h1v1h-1zM24 84h2v1h-2zM37 84h1v1h-1zM40 84h1v1h-1zM43 84h1v1h-1zM45 84h1v1h-1zM22 85h1v1h-1zM38 85h1v1h-1zM43 85h3v1h-3zM13 86h1v1h-1zM15 86h1v1h-1zM27 86h1v1h-1zM37 86h3v1h-3zM42 86h2v1h-2zM45 86h1v1h-1zM22 87h1v1h-1zM27 87h1v1h-1zM35 87h1v1h-1zM38 87h1v1h-1zM40 87h1v1h-1zM42 87h2v1h-2zM45 87h3v1h-3zM9 88h1v1h-1zM15 88h2v1h-2zM22 88h1v1h-1zM25 88h1v1h-1zM28 88h2v1h-2zM33 88h2v1h-2zM37 88h1v1h-1zM39 88h1v1h-1zM45 88h2v1h-2zM17 89h1v1h-1zM22 89h1v1h-1zM26 89h1v1h-1zM28 89h2v1h-2zM34 89h4v1h-4zM41 89h1v1h-1zM44 89h3v1h-3zM6 90h1v1h-1zM16 90h1v1h-1zM23 90h1v1h-1zM25 90h1v1h-1zM32 90h2v1h-2zM35 90h1v1h-1zM38 90h4v1h-4zM45 90h3v1h-3zM13 91h1v1h-1zM16 91h1v1h-1zM25 91h1v1h-1zM30 91h1v1h-1zM32 91h1v1h-1zM35 91h1v1h-1zM38 91h1v1h-1zM40 91h1v1h-1zM43 91h2v1h-2zM47 91h1v1h-1zM11 92h1v1h-1zM20 92h2v1h-2zM24 92h2v1h-2zM27 92h1v1h-1zM30 92h2v1h-2zM33 92h1v1h-1zM46 92h2v1h-2zM0 93h2v1h-2zM20 93h2v1h-2zM25 93h3v1h-3zM30 93h2v1h-2zM33 93h2v1h-2zM38 93h1v1h-1zM44 93h4v1h-4zM20 94h2v1h-2zM30 94h1v1h-1zM35 94h1v1h-1zM41 94h1v1h-1zM7 95h1v1h-1zM28 95h4v1h-4zM35 95h1v1h-1zM40 95h2v1h-2zM18 96h1v1h-1zM30 96h2v1h-2zM37 96h2v1h-2zM22 97h1v1h-1zM28 97h2v1h-2zM38 97h1v1h-1zM16 98h2v1h-2zM20 98h4v1h-4zM36 98h2v1h-2zM0 99h2v1h-2zM18 99h1v1h-1zM22 99h1v1h-1zM34 99h1v1h-1zM37 99h1v1h-1zM23 100h1v1h-1zM33 100h3v1h-3zM23 101h1v1h-1zM26 101h1v1h-1zM33 101h2v1h-2zM4 102h1v1h-1zM34 102h2v1h-2zM27 103h1v1h-1zM34 103h2v1h-2zM46 103h2v1h-2zM3 104h2v1h-2zM26 104h3v1h-3zM34 104h1v1h-1zM2 105h1v1h-1zM26 105h2v1h-2zM36 105h1v1h-1zM9 106h1v1h-1zM14 106h1v1h-1zM17 106h1v1h-1zM19 106h5v1h-5zM26 106h3v1h-3zM30 106h5v1h-5zM36 106h2v1h-2zM39 106h1v1h-1zM41 106h1v1h-1zM46 106h2v1h-2zM9 107h1v1h-1zM14 107h1v1h-1zM16 107h1v1h-1zM20 107h1v1h-1zM23 107h4v1h-4zM30 107h2v1h-2zM33 107h2v1h-2zM36 107h2v1h-2zM39 107h1v1h-1zM41 107h1v1h-1zM44 107h3v1h-3zM15 108h2v1h-2zM18 108h3v1h-3zM22 108h1v1h-1zM24 108h2v1h-2zM28 108h2v1h-2zM34 108h1v1h-1zM36 108h2v1h-2zM41 108h1v1h-1zM44 108h2v1h-2zM6 109h1v1h-1zM12 109h1v1h-1zM18 109h2v1h-2zM21 109h3v1h-3zM25 109h1v1h-1zM28 109h3v1h-3zM34 109h4v1h-4zM41 109h1v1h-1zM44 109h1v1h-1zM14 110h3v1h-3zM18 110h2v1h-2zM30 110h2v1h-2zM35 110h2v1h-2zM41 110h3v1h-3zM30 111h2v1h-2zM36 111h1v1h-1zM38 111h5v1h-5zM44 111h2v1h-2zM5 112h1v1h-1zM7 112h1v1h-1zM10 112h1v1h-1zM30 112h2v1h-2zM34 112h4v1h-4zM45 112h1v1h-1zM4 113h2v1h-2zM7 113h1v1h-1zM18 113h1v1h-1zM30 113h1v1h-1zM33 113h1v1h-1zM35 113h2v1h-2zM44 113h2v1h-2zM30 114h2v1h-2zM33 114h2v1h-2zM36 114h1v1h-1zM41 114h1v1h-1zM43 114h1v1h-1zM45 114h1v1h-1zM20 115h1v1h-1zM31 115h1v1h-1zM33 115h1v1h-1zM37 115h1v1h-1zM39 115h3v1h-3zM44 115h1v1h-1zM46 115h2v1h-2zM2 116h1v1h-1zM20 116h1v1h-1zM32 116h2v1h-2zM35 116h1v1h-1zM37 116h3v1h-3zM41 116h7v1h-7zM2 117h1v1h-1zM9 117h1v1h-1zM11 117h1v1h-1zM18 117h1v1h-1zM21 117h1v1h-1zM32 117h1v1h-1zM35 117h2v1h-2zM42 117h2v1h-2zM46 117h2v1h-2z"/>
<path fill="#c8a094" d="M1 0h1v1h-1zM4 0h3v1h-3zM8 0h1v1h-1zM16 0h1v1h-1zM20 0h1v1h-1zM22 0h2v1h-2zM26 0h2v1h-2zM34 0h2v1h-2zM44 0h2v1h-2zM6 1h5v1h-5zM16 1h2v1h-2zM22 1h1v1h-1zM33 1h3v1h-3zM44 1h2v1h-2zM47 1h1v1h-1zM5 2h1v1h-1zM8 2h1v1h-1zM10 2h1v1h-1zM18 2h1v1h-1zM21 2h1v1h-1zM28 2h1v1h-1zM31 2h1v1h-1zM33 2h1v1h-1zM38 2h2v1h-2zM3 3h2v1h-2zM10 3h1v1h-1zM12 3h1v1h-1zM17 3h1v1h-1zM19 3h1v1h-1zM27 3h1v1h-1zM32 3h1v1h-1zM37 3h1v1h-1zM4 4h1v1h-1zM6 4h2v1h-2zM12 4h2v1h-2zM19 4h3v1h-3zM28 4h1v1h-1zM35 4h1v1h-1zM39 4h1v1h-1zM41 4h1v1h-1zM5 5h1v1h-1zM7 5h1v1h-1zM12 5h1v1h-1zM18 5h2v1h-2zM21 5h1v1h-1zM28 5h1v1h-1zM30 5h1v1h-1zM32 5h2v1h-2zM38 5h2v1h-2zM6 6h4v1h-4zM13 6h1v1h-1zM18 6h1v1h-1zM25 6h1v1h-1zM29 6h1v1h-1zM31 6h1v1h-1zM34 6h2v1h-2zM46 6h1v1h-1zM4 7h1v1h-1zM9 7h1v1h-1zM12 7h1v1h-1zM18 7h1v1h-1zM20 7h1v1h-1zM22 7h1v1h-1zM29 7h4v1h-4zM35 7h1v1h-1zM37 7h2v1h-2zM46 7h1v1h-1zM5 8h3v1h-3zM10 8h1v1h-1zM13 8h1v1h-1zM19 8h1v1h-1zM36 8h2v1h-2zM41 8h1v1h-1zM46 8h2v1h-2zM3 9h1v1h-1zM5 9h1v1h-1zM10 9h1v1h-1zM15 9h2v1h-2zM33 9h1v1h-1zM39 9h1v1h-1zM42 9h1v1h-1zM0 10h1v1h-1zM3 10h1v1h-1zM6 10h6v1h-6zM17 10h1v1h-1zM30 10h2v1h-2zM42 10h1v1h-1zM1 11h7v1h-7zM10 11h2v1h-2zM16 11h2v1h-2zM31 11h1v1h-1zM5 12h2v1h-2zM8 12h4v1h-4zM13 12h3v1h-3zM46 12h1v1h-1zM0 13h2v1h-2zM4 13h3v1h-3zM10 13h6v1h-6zM41 13h1v1h-1zM0 14h1v1h-1zM3 14h3v1h-3zM8 14h2v1h-2zM12 14h1v1h-1zM17 14h3v1h-3zM25 14h2v1h-2zM29 14h1v1h-1zM32 14h2v1h-2zM36 14h1v1h-1zM40 14h2v1h-2zM1 15h1v1h-1zM8 15h2v1h-2zM12 15h2v1h-2zM18 15h2v1h-2zM26 15h1v1h-1zM30 15h1v1h-1zM32 15h2v1h-2zM35 15h3v1h-3zM40 15h1v1h-1zM42 15h3v1h-3zM47 15h1v1h-1zM2 16h2v1h-2zM11 16h1v1h-1zM13 16h1v1h-1zM15 16h1v1h-1zM26 16h4v1h-4zM31 16h1v1h-1zM35 16h2v1h-2zM3 17h1v1h-1zM9 17h2v1h-2zM14 17h2v1h-2zM25 17h1v1h-1zM34 17h3v1h-3zM46 17h1v1h-1zM2 18h1v1h-1zM8 18h1v1h-1zM11 18h1v1h-1zM16 18h1v1h-1zM26 18h2v1h-2zM29 18h2v1h-2zM33 18h1v1h-1zM3 19h1v1h-1zM8 19h1v1h-1zM11 19h1v1h-1zM26 19h2v1h-2zM30 19h1v1h-1zM32 19h1v1h-1zM34 19h1v1h-1zM0 20h1v1h-1zM4 20h2v1h-2zM12 20h3v1h-3zM35 20h1v1h-1zM0 21h1v1h-1zM4 21h1v1h-1zM12 21h2v1h-2zM27 21h2v1h-2zM35 21h1v1h-1zM2 22h2v1h-2zM8 22h1v1h-1zM11 22h1v1h-1zM26 22h3v1h-3zM30 22h1v1h-1zM5 23h1v1h-1zM10 23h2v1h-2zM26 23h1v1h-1zM39 23h1v1h-1zM47 23h1v1h-1zM0 24h1v1h-1zM2 24h2v1h-2zM6 24h2v1h-2zM12 24h2v1h-2zM23 24h1v1h-1zM33 24h2v1h-2zM38 24h1v1h-1zM44 24h2v1h-2zM2 25h2v1h-2zM6 25h2v1h-2zM13 25h1v1h-1zM27 25h3v1h-3zM32 25h1v1h-1zM34 25h2v1h-2zM37 25h2v1h-2zM40 25h1v1h-1zM1 26h1v1h-1zM3 26h1v1h-1zM7 26h1v1h-1zM12 26h2v1h-2zM17 26h3v1h-3zM25 26h2v1h-2zM28 26h2v1h-2zM31 26h1v1h-1zM33 26h2v1h-2zM36 26h1v1h-1zM38 26h1v1h-1zM40 26h1v1h-1zM1 27h4v1h-4zM6 27h1v1h-1zM9 27h1v1h-1zM12 27h2v1h-2zM19 27h1v1h-1zM21 27h2v1h-2zM24 27h10v1h-10zM35 27h1v1h-1zM44 27h1v1h-1zM0 28h1v1h-1zM2 28h1v1h-1zM5 28h1v1h-1zM8 28h1v1h-1zM12 28h3v1h-3zM16 28h1v1h-1zM18 28h1v1h-1zM21 28h2v1h-2zM28 28h1v1h-1zM30 28h1v1h-1zM33 28h1v1h-1zM36 28h2v1h-2zM40 28h3v1h-3zM44 28h1v1h-1zM9 29h1v1h-1zM12 29h3v1h-3zM17 29h1v1h-1zM25 29h1v1h-1zM30 29h1v1h-1zM32 29h1v1h-1zM34 29h1v1h-1zM36 29h1v1h-1zM41 29h6v1h-6zM2 30h2v1h-2zM10 30h2v1h-2zM13 30h1v1h-1zM17 30h1v1h-1zM20 30h2v1h-2zM27 30h1v1h-1zM30 30h3v1h-3zM34 30h2v1h-2zM38 30h2v1h-2zM42 30h2v1h-2zM45 30h1v1h-1zM2 31h1v1h-1zM5 31h2v1h-2zM10 31h2v1h-2zM16 31h2v1h-2zM21 31h1v1h-1zM24 31h1v1h-1zM27 31h1v1h-1zM30 31h6v1h-6zM38 31h1v1h-1zM42 31h1v1h-1zM44 31h1v1h-1zM5 32h1v1h-1zM13 32h5v1h-5zM22 32h1v1h-1zM28 32h2v1h-2zM33 32h2v1h-2zM43 32h1v1h-1zM47 32h1v1h-1zM3 33h1v1h-1zM12 33h1v1h-1zM16 33h2v1h-2zM21 33h1v1h-1zM26 33h5v1h-5zM33 33h5v1h-5zM42 33h1v1h-1zM0 34h1v1h-1zM4 34h2v1h-2zM9 34h1v1h-1zM19 34h1v1h-1zM21 34h1v1h-1zM23 34h1v1h-1zM0 35h1v1h-1zM5 35h3v1h-3zM14 35h1v1h-1zM16 35h2v1h-2zM20 35h2v1h-2zM29 35h1v1h-1zM47 35h1v1h-1zM0 36h1v1h-1zM8 36h3v1h-3zM16 36h1v1h-1zM24 36h1v1h-1zM8 37h1v1h-1zM10 37h1v1h-1zM16 37h1v1h-1zM23 37h1v1h-1zM0 38h1v1h-1zM2 38h1v1h-1zM4 38h1v1h-1zM6 38h3v1h-3zM22 38h1v1h-1zM28 38h2v1h-2zM33 38h1v1h-1zM41 38h1v1h-1zM1 39h1v1h-1zM6 39h4v1h-4zM12 39h1v1h-1zM16 39h1v1h-1zM24 39h3v1h-3zM28 39h2v1h-2zM31 39h1v1h-1zM1 40h3v1h-3zM26 40h2v1h-2zM29 40h1v1h-1zM33 40h1v1h-1zM39 40h1v1h-1zM46 40h2v1h-2zM2 41h1v1h-1zM10 41h2v1h-2zM15 41h2v1h-2zM20 41h3v1h-3zM27 41h1v1h-1zM38 41h2v1h-2zM44 41h4v1h-4zM1 42h1v1h-1zM7 42h1v1h-1zM16 42h1v1h-1zM19 42h1v1h-1zM22 42h2v1h-2zM26 42h1v1h-1zM28 42h5v1h-5zM42 42h1v1h-1zM44 42h2v1h-2zM0 43h1v1h-1zM14 43h1v1h-1zM18 43h1v1h-1zM21 43h1v1h-1zM23 43h2v1h-2zM26 43h1v1h-1zM29 43h5v1h-5zM40 43h1v1h-1zM44 43h1v1h-1zM0 44h2v1h-2zM13 44h1v1h-1zM22 44h2v1h-2zM27 44h4v1h-4zM32 44h4v1h-4zM1 45h1v1h-1zM18 45h3v1h-3zM22 45h1v1h-1zM24 45h1v1h-1zM30 45h2v1h-2zM34 45h2v1h-2zM37 45h1v1h-1zM39 45h2v1h-2zM1 46h1v1h-1zM3 46h1v1h-1zM13 46h1v1h-1zM15 46h1v1h-1zM18 46h2v1h-2zM21 46h2v1h-2zM26 46h2v1h-2zM29 46h3v1h-3zM34 46h1v1h-1zM36 46h2v1h-2zM39 46h3v1h-3zM1 47h2v1h-2zM5 47h1v1h-1zM12 47h1v1h-1zM14 47h1v1h-1zM18 47h1v1h-1zM21 47h1v1h-1zM25 47h2v1h-2zM28 47h1v1h-1zM30 47h1v1h-1zM34 47h4v1h-4zM42 47h2v1h-2zM18 48h2v1h-2zM26 48h1v1h-1zM31 48h3v1h-3zM38 48h1v1h-1zM41 48h3v1h-3zM1 49h2v1h-2zM15 49h2v1h-2zM20 49h1v1h-1zM26 49h1v1h-1zM31 49h1v1h-1zM42 49h2v1h-2zM12 50h1v1h-1zM19 50h1v1h-1zM21 50h1v1h-1zM29 50h2v1h-2zM33 50h1v1h-1zM38 50h1v1h-1zM42 50h1v1h-1zM44 50h2v1h-2zM3 51h1v1h-1zM6 51h1v1h-1zM12 51h1v1h-1zM21 51h1v1h-1zM25 51h1v1h-1zM28 51h2v1h-2zM31 51h3v1h-3zM44 51h2v1h-2zM2 52h2v1h-2zM9 52h1v1h-1zM16 52h1v1h-1zM18 52h1v1h-1zM20 52h1v1h-1zM38 52h2v1h-2zM41 52h1v1h-1zM44 52h1v1h-1zM2 53h1v1h-1zM16 53h1v1h-1zM19 53h2v1h-2zM26 53h1v1h-1zM30 53h4v1h-4zM39 53h2v1h-2zM45 53h2v1h-2zM2 54h2v1h-2zM9 54h1v1h-1zM12 54h2v1h-2zM16 54h4v1h-4zM22 54h1v1h-1zM29 54h2v1h-2zM33 54h2v1h-2zM42 54h1v1h-1zM47 54h1v1h-1zM1 55h4v1h-4zM9 55h1v1h-1zM16 55h1v1h-1zM18 55h1v1h-1zM23 55h1v1h-1zM27 55h1v1h-1zM32 55h1v1h-1zM42 55h1v1h-1zM2 56h1v1h-1zM8 56h1v1h-1zM12 56h4v1h-4zM37 56h1v1h-1zM41 56h1v1h-1zM2 57h3v1h-3zM8 57h2v1h-2zM12 57h1v1h-1zM30 57h2v1h-2zM35 57h2v1h-2zM41 57h1v1h-1zM0 58h2v1h-2zM15 58h1v1h-1zM21 58h1v1h-1zM34 58h1v1h-1zM0 59h2v1h-2zM4 59h2v1h-2zM11 59h4v1h-4zM38 59h2v1h-2zM47 59h1v1h-1zM1 60h1v1h-1zM22 60h2v1h-2zM32 60h1v1h-1zM34 60h1v1h-1zM36 60h2v1h-2zM39 60h1v1h-1zM41 60h1v1h-1zM10 61h2v1h-2zM18 61h2v1h-2zM25 61h1v1h-1zM32 61h1v1h-1zM34 61h2v1h-2zM38 61h3v1h-3zM6 62h4v1h-4zM18 62h2v1h-2zM22 62h2v1h-2zM27 62h1v1h-1zM37 62h1v1h-1zM39 62h1v1h-1zM7 63h3v1h-3zM17 63h3v1h-3zM22 63h2v1h-2zM26 63h2v1h-2zM39 63h1v1h-1zM27 64h1v1h-1zM30 64h2v1h-2zM35 64h1v1h-1zM40 64h1v1h-1zM47 64h1v1h-1zM27 65h1v1h-1zM30 65h2v1h-2zM34 65h1v1h-1zM40 65h1v1h-1zM47 65h1v1h-1zM1 66h1v1h-1zM12 66h1v1h-1zM18 66h2v1h-2zM29 66h1v1h-1zM33 66h1v1h-1zM0 67h1v1h-1zM9 67h1v1h-1zM12 67h2v1h-2zM18 67h1v1h-1zM28 67h2v1h-2zM32 67h2v1h-2zM42 67h2v1h-2zM14 68h2v1h-2zM28 68h1v1h-1zM35 68h3v1h-3zM42 68h3v1h-3zM46 68h1v1h-1zM6 69h1v1h-1zM14 69h1v1h-1zM28 69h2v1h-2zM35 69h1v1h-1zM37 69h1v1h-1zM40 69h1v1h-1zM42 69h3v1h-3zM4 70h1v1h-1zM34 70h2v1h-2zM38 70h1v1h-1zM42 70h1v1h-1zM45 70h1v1h-1zM47 70h1v1h-1zM28 71h2v1h-2zM31 71h1v1h-1zM35 71h1v1h-1zM38 71h2v1h-2zM46 71h2v1h-2zM29 72h2v1h-2zM38 72h2v1h-2zM46 72h2v1h-2zM7 73h1v1h-1zM28 73h2v1h-2zM38 73h1v1h-1zM40 73h1v1h-1zM46 73h1v1h-1zM2 74h1v1h-1zM10 74h2v1h-2zM26 74h2v1h-2zM30 74h2v1h-2zM35 74h1v1h-1zM37 74h1v1h-1zM41 74h1v1h-1zM45 74h1v1h-1zM47 74h1v1h-1zM1 75h1v1h-1zM10 75h2v1h-2zM30 75h1v1h-1zM34 75h4v1h-4zM40 75h1v1h-1zM44 75h2v1h-2zM2 76h1v1h-1zM18 76h1v1h-1zM31 76h1v1h-1zM35 76h1v1h-1zM37 76h2v1h-2zM43 76h1v1h-1zM46 76h1v1h-1zM2 77h2v1h-2zM11 77h1v1h-1zM18 77h1v1h-1zM25 77h1v1h-1zM30 77h2v1h-2zM45 77h1v1h-1zM4 78h1v1h-1zM13 78h1v1h-1zM17 78h3v1h-3zM26 78h1v1h-1zM36 78h2v1h-2zM39 78h1v1h-1zM47 78h1v1h-1zM13 79h1v1h-1zM16 79h1v1h-1zM19 79h1v1h-1zM27 79h1v1h-1zM36 79h2v1h-2zM41 79h1v1h-1zM46 79h2v1h-2zM8 80h1v1h-1zM14 80h1v1h-1zM22 80h4v1h-4zM40 80h2v1h-2zM2 81h1v1h-1zM9 81h1v1h-1zM14 81h2v1h-2zM18 81h1v1h-1zM23 81h2v1h-2zM37 81h1v1h-1zM40 81h1v1h-1zM46 81h2v1h-2zM10 82h2v1h-2zM14 82h1v1h-1zM16 82h1v1h-1zM19 82h1v1h-1zM37 82h2v1h-2zM40 82h1v1h-1zM46 82h1v1h-1zM16 83h1v1h-1zM36 83h1v1h-1zM41 83h1v1h-1zM47 83h1v1h-1zM19 84h1v1h-1zM36 84h1v1h-1zM38 84h2v1h-2zM47 84h1v1h-1zM24 85h2v1h-2zM37 85h1v1h-1zM39 85h1v1h-1zM46 85h1v1h-1zM24 86h1v1h-1zM26 86h1v1h-1zM34 86h1v1h-1zM36 86h1v1h-1zM44 86h1v1h-1zM46 86h1v1h-1zM24 87h3v1h-3zM30 87h1v1h-1zM34 87h1v1h-1zM36 87h1v1h-1zM17 88h1v1h-1zM24 88h1v1h-1zM26 88h2v1h-2zM30 88h2v1h-2zM35 88h1v1h-1zM41 88h1v1h-1zM44 88h1v1h-1zM25 89h1v1h-1zM27 89h1v1h-1zM31 89h3v1h-3zM38 89h2v1h-2zM47 89h1v1h-1zM28 90h4v1h-4zM34 90h1v1h-1zM36 90h1v1h-1zM44 90h1v1h-1zM29 91h1v1h-1zM31 91h1v1h-1zM34 91h1v1h-1zM41 91h1v1h-1zM45 91h1v1h-1zM29 92h1v1h-1zM45 92h1v1h-1zM24 93h1v1h-1zM28 93h2v1h-2zM22 94h2v1h-2zM28 94h1v1h-1zM31 94h1v1h-1zM44 94h2v1h-2zM21 95h3v1h-3zM44 95h2v1h-2zM22 96h2v1h-2zM28 96h2v1h-2zM39 96h1v1h-1zM30 97h1v1h-1zM34 98h1v1h-1zM16 99h1v1h-1zM23 99h1v1h-1zM36 99h1v1h-1zM26 100h1v1h-1zM32 100h1v1h-1zM22 101h1v1h-1zM27 101h1v1h-1zM25 102h1v1h-1zM27 102h1v1h-1zM32 102h1v1h-1zM47 102h1v1h-1zM24 103h3v1h-3zM32 103h2v1h-2zM32 104h2v1h-2zM35 104h2v1h-2zM46 104h2v1h-2zM28 105h4v1h-4zM34 105h2v1h-2zM37 105h1v1h-1zM44 106h2v1h-2zM19 107h1v1h-1zM21 107h1v1h-1zM27 107h3v1h-3zM35 107h1v1h-1zM38 107h1v1h-1zM14 108h1v1h-1zM17 108h1v1h-1zM30 108h1v1h-1zM35 108h1v1h-1zM38 108h1v1h-1zM40 108h1v1h-1zM43 108h1v1h-1zM17 109h1v1h-1zM38 109h2v1h-2zM45 109h1v1h-1zM47 109h1v1h-1zM40 110h1v1h-1zM44 110h2v1h-2zM35 111h1v1h-1zM37 111h1v1h-1zM4 112h1v1h-1zM33 112h1v1h-1zM38 112h1v1h-1zM43 112h1v1h-1zM32 113h1v1h-1zM38 113h2v1h-2zM32 114h1v1h-1zM35 114h1v1h-1zM37 114h1v1h-1zM40 114h1v1h-1zM42 114h1v1h-1zM30 115h1v1h-1zM34 115h2v1h-2zM43 115h1v1h-1zM38 117h1v1h-1zM41 117h1v1h-1z"/>
<path fill="#e0a868" d="M0 0h1v1h-1zM2 0h1v1h-1zM7 0h1v1h-1zM9 0h2v1h-2zM12 0h4v1h-4zM24 0h2v1h-2zM28 0h2v1h-2zM33 0h1v1h-1zM0 1h1v1h-1zM5 1h1v1h-1zM11 1h1v1h-1zM13 1h3v1h-3zM23 1h1v1h-1zM28 1h2v1h-2zM32 1h1v1h-1zM2 2h2v1h-2zM6 2h1v1h-1zM9 2h1v1h-1zM11 2h1v1h-1zM16 2h2v1h-2zM22 2h1v1h-1zM26 2h2v1h-2zM30 2h1v1h-1zM32 2h1v1h-1zM35 2h1v1h-1zM1 3h2v1h-2zM6 3h3v1h-3zM16 3h1v1h-1zM20 3h2v1h-2zM23 3h1v1h-1zM25 3h1v1h-1zM28 3h4v1h-4zM34 3h2v1h-2zM0 4h2v1h-2zM5 4h1v1h-1zM14 4h5v1h-5zM24 4h1v1h-1zM29 4h2v1h-2zM32 4h1v1h-1zM0 5h1v1h-1zM2 5h1v1h-1zM16 5h2v1h-2zM26 5h2v1h-2zM29 5h1v1h-1zM31 5h1v1h-1zM4 6h1v1h-1zM11 6h2v1h-2zM15 6h1v1h-1zM22 6h1v1h-1zM24 6h1v1h-1zM26 6h2v1h-2zM30 6h1v1h-1zM32 6h1v1h-1zM5 7h1v1h-1zM10 7h2v1h-2zM13 7h3v1h-3zM23 7h6v1h-6zM33 7h1v1h-1zM1 8h1v1h-1zM4 8h1v1h-1zM9 8h1v1h-1zM11 8h1v1h-1zM14 8h1v1h-1zM16 8h1v1h-1zM28 8h2v1h-2zM34 8h1v1h-1zM0 9h1v1h-1zM2 9h1v1h-1zM4 9h1v1h-1zM6 9h1v1h-1zM12 9h1v1h-1zM14 9h1v1h-1zM17 9h1v1h-1zM34 9h1v1h-1zM2 10h1v1h-1zM4 10h1v1h-1zM16 10h1v1h-1zM18 10h2v1h-2zM0 11h1v1h-1zM8 11h2v1h-2zM13 11h1v1h-1zM18 11h2v1h-2zM30 11h1v1h-1zM4 12h1v1h-1zM17 12h1v1h-1zM19 12h1v1h-1zM31 12h1v1h-1zM9 13h1v1h-1zM16 13h2v1h-2zM19 13h1v1h-1zM28 13h2v1h-2zM31 13h1v1h-1zM7 14h1v1h-1zM10 14h2v1h-2zM21 14h4v1h-4zM27 14h2v1h-2zM30 14h2v1h-2zM37 14h1v1h-1zM0 15h1v1h-1zM5 15h2v1h-2zM11 15h1v1h-1zM22 15h4v1h-4zM27 15h3v1h-3zM31 15h1v1h-1zM41 15h1v1h-1zM0 16h2v1h-2zM8 16h1v1h-1zM12 16h1v1h-1zM14 16h1v1h-1zM18 16h2v1h-2zM24 16h2v1h-2zM41 16h1v1h-1zM0 17h1v1h-1zM2 17h1v1h-1zM8 17h1v1h-1zM12 17h2v1h-2zM19 17h1v1h-1zM24 17h1v1h-1zM27 17h2v1h-2zM31 17h1v1h-1zM37 17h1v1h-1zM40 17h2v1h-2zM0 18h2v1h-2zM9 18h2v1h-2zM14 18h2v1h-2zM17 18h1v1h-1zM31 18h1v1h-1zM0 19h2v1h-2zM9 19h2v1h-2zM14 19h1v1h-1zM17 19h1v1h-1zM31 19h1v1h-1zM1 20h2v1h-2zM10 20h2v1h-2zM15 20h1v1h-1zM25 20h3v1h-3zM5 21h1v1h-1zM10 21h2v1h-2zM14 21h1v1h-1zM17 21h1v1h-1zM26 21h1v1h-1zM4 22h1v1h-1zM10 22h1v1h-1zM0 23h1v1h-1zM8 23h2v1h-2zM12 23h2v1h-2zM1 24h1v1h-1zM4 24h2v1h-2zM9 24h3v1h-3zM22 24h1v1h-1zM24 24h2v1h-2zM28 24h2v1h-2zM42 24h2v1h-2zM1 25h1v1h-1zM4 25h2v1h-2zM10 25h2v1h-2zM22 25h4v1h-4zM33 25h1v1h-1zM42 25h2v1h-2zM47 25h1v1h-1zM6 26h1v1h-1zM8 26h2v1h-2zM14 26h2v1h-2zM20 26h2v1h-2zM23 26h1v1h-1zM27 26h1v1h-1zM30 26h1v1h-1zM35 26h1v1h-1zM37 26h1v1h-1zM7 27h2v1h-2zM14 27h3v1h-3zM18 27h1v1h-1zM20 27h1v1h-1zM34 27h1v1h-1zM3 28h2v1h-2zM9 28h1v1h-1zM15 28h1v1h-1zM26 28h2v1h-2zM32 28h1v1h-1zM38 28h2v1h-2zM43 28h1v1h-1zM2 29h4v1h-4zM8 29h1v1h-1zM10 29h1v1h-1zM19 29h2v1h-2zM22 29h1v1h-1zM26 29h2v1h-2zM37 29h2v1h-2zM40 29h1v1h-1zM4 30h1v1h-1zM6 30h3v1h-3zM22 30h2v1h-2zM25 30h2v1h-2zM36 30h2v1h-2zM40 30h2v1h-2zM44 30h1v1h-1zM4 31h1v1h-1zM7 31h1v1h-1zM37 31h1v1h-1zM40 31h1v1h-1zM43 31h1v1h-1zM45 31h1v1h-1zM2 32h1v1h-1zM6 32h1v1h-1zM11 32h1v1h-1zM23 32h1v1h-1zM26 32h1v1h-1zM35 32h3v1h-3zM40 32h1v1h-1zM42 32h1v1h-1zM45 32h2v1h-2zM4 33h1v1h-1zM10 33h2v1h-2zM22 33h2v1h-2zM25 33h1v1h-1zM40 33h1v1h-1zM43 33h1v1h-1zM47 33h1v1h-1zM8 34h1v1h-1zM10 34h1v1h-1zM18 34h1v1h-1zM24 34h2v1h-2zM28 34h2v1h-2zM31 34h1v1h-1zM35 34h1v1h-1zM46 34h2v1h-2zM1 35h1v1h-1zM4 35h1v1h-1zM8 35h3v1h-3zM24 35h2v1h-2zM28 35h1v1h-1zM34 35h2v1h-2zM42 35h1v1h-1zM46 35h1v1h-1zM5 36h1v1h-1zM19 36h4v1h-4zM25 36h2v1h-2zM28 36h3v1h-3zM39 36h1v1h-1zM0 37h1v1h-1zM5 37h1v1h-1zM9 37h1v1h-1zM11 37h1v1h-1zM18 37h1v1h-1zM24 37h2v1h-2zM29 37h1v1h-1zM36 37h1v1h-1zM38 37h2v1h-2zM3 38h1v1h-1zM5 38h1v1h-1zM10 38h2v1h-2zM16 38h1v1h-1zM20 38h2v1h-2zM23 38h1v1h-1zM26 38h2v1h-2zM31 38h2v1h-2zM42 38h2v1h-2zM4 39h2v1h-2zM10 39h2v1h-2zM17 39h1v1h-1zM20 39h2v1h-2zM27 39h1v1h-1zM30 39h1v1h-1zM32 39h2v1h-2zM40 39h1v1h-1zM0 40h1v1h-1zM6 40h2v1h-2zM16 40h1v1h-1zM18 40h2v1h-2zM21 40h3v1h-3zM30 40h3v1h-3zM38 40h1v1h-1zM41 40h3v1h-3zM45 40h1v1h-1zM0 41h1v1h-1zM7 41h1v1h-1zM18 41h2v1h-2zM26 41h1v1h-1zM28 41h4v1h-4zM33 41h1v1h-1zM43 41h1v1h-1zM3 42h1v1h-1zM6 42h1v1h-1zM20 42h2v1h-2zM27 42h1v1h-1zM35 42h2v1h-2zM38 42h2v1h-2zM43 42h1v1h-1zM1 43h3v1h-3zM6 43h1v1h-1zM10 43h1v1h-1zM20 43h1v1h-1zM22 43h1v1h-1zM28 43h1v1h-1zM34 43h1v1h-1zM36 43h2v1h-2zM39 43h1v1h-1zM42 43h2v1h-2zM2 44h2v1h-2zM5 44h1v1h-1zM12 44h1v1h-1zM18 44h1v1h-1zM25 44h2v1h-2zM36 44h2v1h-2zM2 45h1v1h-1zM4 45h2v1h-2zM12 45h2v1h-2zM26 45h1v1h-1zM33 45h1v1h-1zM36 45h1v1h-1zM38 45h1v1h-1zM2 46h1v1h-1zM4 46h1v1h-1zM10 46h3v1h-3zM35 46h1v1h-1zM3 47h2v1h-2zM10 47h2v1h-2zM13 47h1v1h-1zM27 47h1v1h-1zM6 48h1v1h-1zM10 48h1v1h-1zM17 48h1v1h-1zM24 48h1v1h-1zM30 48h1v1h-1zM9 49h3v1h-3zM17 49h2v1h-2zM25 49h1v1h-1zM27 49h1v1h-1zM32 49h2v1h-2zM37 49h2v1h-2zM8 50h1v1h-1zM17 50h2v1h-2zM20 50h1v1h-1zM24 50h2v1h-2zM32 50h1v1h-1zM34 50h1v1h-1zM16 51h1v1h-1zM19 51h1v1h-1zM30 51h1v1h-1zM34 51h2v1h-2zM38 51h2v1h-2zM0 52h2v1h-2zM8 52h1v1h-1zM10 52h1v1h-1zM19 52h1v1h-1zM21 52h1v1h-1zM25 52h2v1h-2zM32 52h4v1h-4zM1 53h1v1h-1zM8 53h4v1h-4zM17 53h1v1h-1zM27 53h1v1h-1zM35 53h1v1h-1zM41 53h1v1h-1zM8 54h1v1h-1zM10 54h1v1h-1zM20 54h2v1h-2zM26 54h2v1h-2zM31 54h2v1h-2zM35 54h5v1h-5zM43 54h1v1h-1zM12 55h2v1h-2zM20 55h2v1h-2zM26 55h1v1h-1zM30 55h1v1h-1zM34 55h6v1h-6zM43 55h1v1h-1zM3 56h1v1h-1zM7 56h1v1h-1zM9 56h1v1h-1zM20 56h2v1h-2zM27 56h2v1h-2zM31 56h1v1h-1zM35 56h2v1h-2zM39 56h1v1h-1zM6 57h1v1h-1zM13 57h1v1h-1zM28 57h1v1h-1zM34 57h1v1h-1zM37 57h1v1h-1zM40 57h1v1h-1zM11 58h1v1h-1zM20 58h1v1h-1zM24 58h1v1h-1zM31 58h1v1h-1zM35 58h1v1h-1zM6 59h2v1h-2zM10 59h1v1h-1zM15 59h1v1h-1zM21 59h1v1h-1zM30 59h2v1h-2zM34 59h2v1h-2zM10 60h1v1h-1zM18 60h2v1h-2zM21 60h1v1h-1zM24 60h2v1h-2zM28 60h2v1h-2zM31 60h1v1h-1zM33 60h1v1h-1zM35 60h1v1h-1zM20 61h1v1h-1zM22 61h2v1h-2zM26 61h2v1h-2zM41 61h1v1h-1zM16 62h2v1h-2zM28 62h1v1h-1zM30 62h1v1h-1zM33 62h1v1h-1zM38 62h1v1h-1zM16 63h1v1h-1zM28 63h1v1h-1zM32 63h2v1h-2zM38 63h1v1h-1zM15 64h1v1h-1zM26 64h1v1h-1zM33 64h2v1h-2zM26 65h1v1h-1zM10 66h1v1h-1zM13 66h1v1h-1zM20 66h1v1h-1zM19 67h1v1h-1zM21 67h1v1h-1zM27 67h1v1h-1zM35 67h1v1h-1zM16 68h1v1h-1zM33 68h1v1h-1zM8 69h1v1h-1zM15 69h1v1h-1zM19 69h1v1h-1zM32 69h1v1h-1zM36 69h1v1h-1zM13 70h1v1h-1zM15 70h1v1h-1zM17 70h1v1h-1zM28 70h1v1h-1zM30 70h1v1h-1zM33 70h1v1h-1zM39 70h1v1h-1zM46 70h1v1h-1zM13 71h1v1h-1zM27 71h1v1h-1zM30 71h1v1h-1zM12 72h1v1h-1zM26 72h3v1h-3zM33 72h1v1h-1zM35 72h1v1h-1zM44 72h1v1h-1zM34 73h1v1h-1zM44 73h1v1h-1zM47 73h1v1h-1zM28 74h1v1h-1zM32 74h3v1h-3zM40 74h1v1h-1zM46 74h1v1h-1zM8 75h2v1h-2zM16 75h2v1h-2zM21 75h1v1h-1zM27 75h2v1h-2zM32 75h2v1h-2zM46 75h2v1h-2zM3 76h1v1h-1zM10 76h2v1h-2zM19 76h1v1h-1zM27 76h2v1h-2zM34 76h1v1h-1zM42 76h1v1h-1zM47 76h1v1h-1zM10 77h1v1h-1zM24 77h1v1h-1zM28 77h1v1h-1zM34 77h1v1h-1zM42 77h2v1h-2zM46 77h2v1h-2zM12 78h1v1h-1zM27 78h1v1h-1zM40 78h2v1h-2zM46 78h1v1h-1zM12 79h1v1h-1zM25 79h1v1h-1zM40 79h1v1h-1zM16 81h2v1h-2zM15 82h1v1h-1zM17 82h1v1h-1zM24 82h1v1h-1zM14 83h2v1h-2zM24 83h1v1h-1zM37 83h1v1h-1zM14 84h1v1h-1zM27 84h1v1h-1zM32 84h1v1h-1zM46 84h1v1h-1zM15 85h1v1h-1zM17 85h3v1h-3zM26 85h1v1h-1zM32 85h2v1h-2zM35 85h2v1h-2zM47 85h1v1h-1zM19 86h2v1h-2zM25 86h1v1h-1zM30 86h2v1h-2zM35 86h1v1h-1zM47 86h1v1h-1zM18 87h1v1h-1zM32 88h1v1h-1zM47 88h1v1h-1zM30 89h1v1h-1zM19 90h1v1h-1zM21 90h1v1h-1zM26 90h2v1h-2zM37 90h1v1h-1zM28 91h1v1h-1zM36 91h1v1h-1zM28 92h1v1h-1zM29 94h1v1h-1zM39 94h1v1h-1zM47 94h1v1h-1zM38 95h2v1h-2zM46 95h2v1h-2zM24 96h2v1h-2zM43 96h1v1h-1zM24 97h2v1h-2zM27 97h1v1h-1zM42 97h2v1h-2zM46 97h1v1h-1zM26 98h2v1h-2zM27 99h1v1h-1zM27 100h1v1h-1zM47 100h1v1h-1zM37 101h1v1h-1zM24 102h1v1h-1zM26 102h1v1h-1zM29 102h1v1h-1zM33 102h1v1h-1zM37 102h2v1h-2zM29 104h2v1h-2zM37 104h1v1h-1zM32 105h2v1h-2zM38 105h1v1h-1zM46 105h2v1h-2zM29 106h1v1h-1zM38 106h1v1h-1zM40 106h1v1h-1zM40 107h1v1h-1zM39 108h1v1h-1zM42 108h1v1h-1zM46 108h2v1h-2zM14 109h3v1h-3zM40 109h1v1h-1zM42 109h1v1h-1zM32 112h1v1h-1zM39 112h1v1h-1zM41 112h2v1h-2zM40 113h4v1h-4zM32 115h1v1h-1z"/>
<path fill="#f0ac48" d="M3 0h1v1h-1zM11 0h1v1h-1zM30 0h3v1h-3zM1 1h4v1h-4zM12 1h1v1h-1zM24 1h2v1h-2zM30 1h2v1h-2zM0 2h2v1h-2zM7 2h1v1h-1zM20 2h1v1h-1zM23 2h3v1h-3zM29 2h1v1h-1zM34 2h1v1h-1zM0 3h1v1h-1zM9 3h1v1h-1zM22 3h1v1h-1zM24 3h1v1h-1zM26 3h1v1h-1zM2 4h2v1h-2zM22 4h2v1h-2zM25 4h3v1h-3zM1 5h1v1h-1zM3 5h2v1h-2zM14 5h2v1h-2zM22 5h4v1h-4zM0 6h4v1h-4zM5 6h1v1h-1zM10 6h1v1h-1zM14 6h1v1h-1zM16 6h2v1h-2zM23 6h1v1h-1zM28 6h1v1h-1zM0 7h4v1h-4zM16 7h2v1h-2zM0 8h1v1h-1zM8 8h1v1h-1zM26 8h2v1h-2zM1 9h1v1h-1zM8 9h2v1h-2zM26 9h4v1h-4zM12 10h2v1h-2zM12 11h1v1h-1zM16 12h1v1h-1zM18 12h1v1h-1zM26 12h5v1h-5zM18 13h1v1h-1zM26 13h2v1h-2zM30 13h1v1h-1zM6 14h1v1h-1zM20 14h1v1h-1zM7 15h1v1h-1zM10 15h1v1h-1zM20 15h2v1h-2zM40 16h1v1h-1zM1 17h1v1h-1zM18 17h1v1h-1zM15 19h2v1h-2zM3 20h1v1h-1zM6 20h2v1h-2zM16 20h2v1h-2zM24 20h1v1h-1zM1 21h3v1h-3zM6 21h2v1h-2zM15 21h2v1h-2zM24 21h2v1h-2zM0 22h2v1h-2zM5 22h3v1h-3zM9 22h1v1h-1zM12 22h2v1h-2zM1 23h1v1h-1zM4 23h1v1h-1zM6 23h2v1h-2zM27 23h1v1h-1zM8 24h1v1h-1zM20 24h2v1h-2zM0 25h1v1h-1zM8 25h2v1h-2zM20 25h2v1h-2zM16 26h1v1h-1zM17 27h1v1h-1zM10 28h2v1h-2zM20 28h1v1h-1zM11 29h1v1h-1zM21 29h1v1h-1zM39 29h1v1h-1zM5 30h1v1h-1zM9 30h1v1h-1zM8 31h2v1h-2zM22 31h2v1h-2zM36 31h1v1h-1zM41 31h1v1h-1zM7 32h1v1h-1zM10 32h1v1h-1zM18 32h2v1h-2zM24 32h2v1h-2zM41 32h1v1h-1zM44 32h1v1h-1zM6 33h2v1h-2zM18 33h2v1h-2zM24 33h1v1h-1zM41 33h1v1h-1zM44 33h3v1h-3zM11 34h1v1h-1zM26 34h2v1h-2zM30 34h1v1h-1zM34 34h1v1h-1zM38 34h6v1h-6zM11 35h1v1h-1zM26 35h2v1h-2zM30 35h2v1h-2zM38 35h4v1h-4zM43 35h1v1h-1zM18 36h1v1h-1zM27 36h1v1h-1zM31 36h1v1h-1zM36 36h3v1h-3zM40 36h4v1h-4zM19 37h1v1h-1zM26 37h3v1h-3zM30 37h2v1h-2zM37 37h1v1h-1zM40 37h4v1h-4zM18 38h2v1h-2zM30 38h1v1h-1zM34 38h2v1h-2zM46 38h2v1h-2zM18 39h2v1h-2zM34 39h2v1h-2zM42 39h2v1h-2zM46 39h2v1h-2zM8 40h2v1h-2zM40 40h1v1h-1zM6 41h1v1h-1zM8 41h2v1h-2zM32 41h1v1h-1zM40 41h3v1h-3zM2 42h1v1h-1zM10 42h2v1h-2zM34 42h1v1h-1zM37 42h1v1h-1zM7 43h1v1h-1zM11 43h1v1h-1zM35 43h1v1h-1zM38 43h1v1h-1zM4 44h1v1h-1zM3 45h1v1h-1zM5 46h1v1h-1zM7 48h3v1h-3zM11 48h1v1h-1zM16 48h1v1h-1zM25 48h1v1h-1zM39 48h1v1h-1zM6 49h3v1h-3zM24 49h1v1h-1zM39 49h1v1h-1zM9 50h1v1h-1zM16 50h1v1h-1zM35 50h1v1h-1zM39 50h1v1h-1zM8 51h2v1h-2zM17 51h2v1h-2zM11 52h1v1h-1zM24 52h1v1h-1zM0 53h1v1h-1zM24 53h2v1h-2zM34 53h1v1h-1zM11 54h1v1h-1zM10 55h2v1h-2zM33 55h1v1h-1zM6 56h1v1h-1zM24 56h3v1h-3zM29 56h1v1h-1zM32 56h3v1h-3zM38 56h1v1h-1zM7 57h1v1h-1zM20 57h2v1h-2zM24 57h4v1h-4zM29 57h1v1h-1zM32 57h2v1h-2zM38 57h2v1h-2zM6 58h5v1h-5zM25 58h1v1h-1zM28 58h3v1h-3zM32 58h2v1h-2zM36 58h2v1h-2zM8 59h2v1h-2zM20 59h1v1h-1zM24 59h2v1h-2zM28 59h2v1h-2zM32 59h2v1h-2zM36 59h2v1h-2zM11 60h3v1h-3zM20 60h1v1h-1zM26 60h2v1h-2zM30 60h1v1h-1zM12 61h2v1h-2zM21 61h1v1h-1zM24 61h1v1h-1zM28 61h4v1h-4zM20 62h2v1h-2zM29 62h1v1h-1zM31 62h2v1h-2zM20 63h2v1h-2zM29 63h3v1h-3zM14 64h1v1h-1zM20 64h2v1h-2zM32 64h1v1h-1zM14 65h2v1h-2zM20 65h2v1h-2zM32 65h2v1h-2zM11 66h1v1h-1zM21 66h1v1h-1zM26 66h2v1h-2zM34 66h2v1h-2zM10 67h2v1h-2zM20 67h1v1h-1zM26 67h1v1h-1zM34 67h1v1h-1zM8 68h2v1h-2zM17 68h1v1h-1zM20 68h2v1h-2zM26 68h2v1h-2zM30 68h3v1h-3zM9 69h1v1h-1zM16 69h2v1h-2zM20 69h2v1h-2zM26 69h2v1h-2zM30 69h2v1h-2zM33 69h1v1h-1zM10 70h3v1h-3zM14 70h1v1h-1zM16 70h1v1h-1zM22 70h2v1h-2zM26 70h2v1h-2zM29 70h1v1h-1zM32 70h1v1h-1zM10 71h3v1h-3zM14 71h4v1h-4zM22 71h2v1h-2zM26 71h1v1h-1zM32 71h2v1h-2zM13 72h1v1h-1zM22 72h2v1h-2zM32 72h1v1h-1zM34 72h1v1h-1zM45 72h1v1h-1zM12 73h2v1h-2zM22 73h2v1h-2zM26 73h2v1h-2zM32 73h2v1h-2zM35 73h1v1h-1zM45 73h1v1h-1zM8 74h2v1h-2zM16 74h2v1h-2zM20 74h2v1h-2zM29 74h1v1h-1zM20 75h1v1h-1zM29 75h1v1h-1zM41 75h1v1h-1zM16 76h2v1h-2zM26 76h1v1h-1zM29 76h1v1h-1zM32 76h2v1h-2zM16 77h2v1h-2zM26 77h2v1h-2zM29 77h1v1h-1zM32 77h2v1h-2zM10 78h2v1h-2zM22 78h4v1h-4zM28 78h2v1h-2zM10 79h2v1h-2zM22 79h3v1h-3zM28 79h2v1h-2zM16 80h2v1h-2zM26 80h2v1h-2zM26 81h2v1h-2zM25 82h1v1h-1zM25 83h1v1h-1zM15 84h3v1h-3zM26 84h1v1h-1zM33 84h3v1h-3zM14 85h1v1h-1zM16 85h1v1h-1zM27 85h1v1h-1zM34 85h1v1h-1zM18 86h1v1h-1zM21 86h1v1h-1zM28 86h2v1h-2zM32 86h2v1h-2zM19 87h3v1h-3zM28 87h2v1h-2zM31 87h3v1h-3zM20 88h2v1h-2zM20 89h2v1h-2zM18 90h1v1h-1zM20 90h1v1h-1zM18 91h4v1h-4zM26 91h2v1h-2zM37 91h1v1h-1zM38 94h1v1h-1zM46 94h1v1h-1zM26 96h2v1h-2zM40 96h3v1h-3zM46 96h2v1h-2zM26 97h1v1h-1zM40 97h2v1h-2zM47 97h1v1h-1zM24 98h2v1h-2zM38 98h2v1h-2zM46 98h2v1h-2zM24 99h3v1h-3zM38 99h2v1h-2zM46 99h2v1h-2zM24 100h2v1h-2zM30 100h2v1h-2zM36 100h4v1h-4zM46 100h1v1h-1zM24 101h2v1h-2zM30 101h2v1h-2zM36 101h1v1h-1zM38 101h2v1h-2zM46 101h2v1h-2zM28 102h1v1h-1zM30 102h2v1h-2zM36 102h1v1h-1zM39 102h1v1h-1zM28 103h4v1h-4zM36 103h4v1h-4zM31 104h1v1h-1zM38 104h2v1h-2zM44 104h2v1h-2zM39 105h1v1h-1zM44 105h2v1h-2zM43 109h1v1h-1zM46 109h1v1h-1zM40 112h1v1h-1z"/>
<path fill="#c05a28" d="M20 8h2v1h-2zM24 8h2v1h-2zM20 9h2v1h-2zM24 9h2v1h-2zM26 10h4v1h-4zM26 11h4v1h-4zM20 16h2v1h-2zM20 17h2v1h-2zM12 18h2v1h-2zM18 18h2v1h-2zM24 18h2v1h-2zM12 19h2v1h-2zM18 19h2v1h-2zM24 19h2v1h-2zM8 20h2v1h-2zM8 21h2v1h-2zM14 22h2v1h-2zM20 22h2v1h-2zM24 22h2v1h-2zM14 23h2v1h-2zM20 23h2v1h-2zM24 23h2v1h-2zM14 24h2v1h-2zM14 25h2v1h-2zM6 28h2v1h-2zM6 29h2v1h-2zM0 32h2v1h-2zM8 32h2v1h-2zM0 33h2v1h-2zM8 33h2v1h-2zM32 34h2v1h-2zM36 34h2v1h-2zM44 34h2v1h-2zM32 35h2v1h-2zM36 35h2v1h-2zM44 35h2v1h-2zM32 36h2v1h-2zM44 36h4v1h-4zM32 37h2v1h-2zM44 37h4v1h-4zM44 38h2v1h-2zM44 39h2v1h-2zM4 40h2v1h-2zM4 41h2v1h-2zM8 42h2v1h-2zM8 43h2v1h-2zM8 44h4v1h-4zM8 45h4v1h-4zM8 46h2v1h-2zM8 47h2v1h-2zM0 50h2v1h-2zM10 50h2v1h-2zM36 50h2v1h-2zM0 51h2v1h-2zM10 51h2v1h-2zM36 51h2v1h-2zM16 56h2v1h-2zM16 57h2v1h-2zM10 64h2v1h-2zM10 65h2v1h-2zM24 68h2v1h-2zM24 69h2v1h-2zM14 72h2v1h-2zM14 73h2v1h-2zM24 74h2v1h-2zM24 75h2v1h-2zM14 78h2v1h-2zM34 78h2v1h-2zM14 79h2v1h-2zM34 79h2v1h-2zM32 82h2v1h-2zM32 83h2v1h-2zM26 94h2v1h-2zM26 95h2v1h-2zM28 98h2v1h-2zM28 99h2v1h-2zM28 100h2v1h-2zM28 101h2v1h-2zM40 104h2v1h-2zM40 105h2v1h-2zM42 106h2v1h-2zM42 107h2v1h-2z"/>
<path fill="#8a2624" d="M22 8h2v1h-2zM22 9h2v1h-2zM20 10h6v1h-6zM20 11h6v1h-6zM20 12h6v1h-6zM20 13h6v1h-6zM22 16h2v1h-2zM22 17h2v1h-2zM20 18h4v1h-4zM20 19h4v1h-4zM18 20h6v1h-6zM18 21h6v1h-6zM16 22h4v1h-4zM22 22h2v1h-2zM16 23h4v1h-4zM22 23h2v1h-2zM16 24h4v1h-4zM16 25h4v1h-4zM38 32h2v1h-2zM38 33h2v1h-2zM34 36h2v1h-2zM34 37h2v1h-2zM36 38h4v1h-4zM36 39h4v1h-4zM34 40h4v1h-4zM34 41h4v1h-4zM4 42h2v1h-2zM4 43h2v1h-2zM6 44h2v1h-2zM6 45h2v1h-2zM6 46h2v1h-2zM6 47h2v1h-2zM36 52h2v1h-2zM36 53h2v1h-2zM24 54h2v1h-2zM24 55h2v1h-2zM18 56h2v1h-2zM22 56h2v1h-2zM18 57h2v1h-2zM22 57h2v1h-2zM16 58h4v1h-4zM22 58h2v1h-2zM26 58h2v1h-2zM16 59h4v1h-4zM22 59h2v1h-2zM26 59h2v1h-2zM14 60h4v1h-4zM14 61h4v1h-4zM10 62h6v1h-6zM10 63h6v1h-6zM12 64h2v1h-2zM22 64h4v1h-4zM28 64h2v1h-2zM12 65h2v1h-2zM22 65h4v1h-4zM28 65h2v1h-2zM22 66h4v1h-4zM36 66h2v1h-2zM22 67h4v1h-4zM36 67h2v1h-2zM10 68h4v1h-4zM22 68h2v1h-2zM10 69h4v1h-4zM22 69h2v1h-2zM18 70h4v1h-4zM24 70h2v1h-2zM18 71h4v1h-4zM24 71h2v1h-2zM16 72h6v1h-6zM24 72h2v1h-2zM42 72h2v1h-2zM16 73h6v1h-6zM24 73h2v1h-2zM42 73h2v1h-2zM12 74h4v1h-4zM18 74h2v1h-2zM42 74h2v1h-2zM12 75h4v1h-4zM18 75h2v1h-2zM42 75h2v1h-2zM12 76h4v1h-4zM20 76h2v1h-2zM12 77h4v1h-4zM20 77h2v1h-2zM30 78h4v1h-4zM30 79h4v1h-4zM28 80h8v1h-8zM28 81h8v1h-8zM26 82h6v1h-6zM34 82h2v1h-2zM26 83h6v1h-6zM34 83h2v1h-2zM28 84h4v1h-4zM28 85h4v1h-4zM18 88h2v1h-2zM18 89h2v1h-2zM36 92h2v1h-2zM36 93h2v1h-2zM36 94h2v1h-2zM36 95h2v1h-2zM44 96h2v1h-2zM44 97h2v1h-2zM30 98h2v1h-2zM40 98h6v1h-6zM30 99h2v1h-2zM40 99h6v1h-6zM40 100h6v1h-6zM40 101h6v1h-6zM40 102h6v1h-6zM40 103h6v1h-6zM42 104h2v1h-2zM42 105h2v1h-2z"/>
</g>
<polygon points="488.9,22.2 492.4,26.0 497.9,33.0 504.8,39.9 508.9,45.5 511.0,52.5 511.7,59.4 512.4,66.4 514.5,73.3 518.7,83.1 522.8,91.5 527.7,98.7 535.9,114.2 543.9,132.8 552.3,151.3 559.2,166.3 562.7,175.2 566.7,189.9 570.8,207.0 575.3,228.5 580.0,250.2 583.1,268.7 584.1,279.0 582.8,291.4 579.7,303.7 579.0,316.1 582.1,328.5 583.4,340.7 583.1,359.3 583.3,372.0 580.9,386.8 576.7,393.5 572.6,401.7 573.4,410.0 576.7,423.2 580.9,436.5 587.4,448.1 592.1,448.8 597.6,448.3 603.1,452.6 604.6,459.0 604.1,466.4 601.3,475.7 596.7,486.9 591.1,498.0 584.7,509.1 577.3,520.3 569.9,535.1 563.4,546.3 555.1,547.7 545.9,549.6 540.3,548.1 540.9,544.4 540.3,540.3 529.3,531.5 518.2,520.3 507.0,509.1 497.8,498.0 490.5,486.9 484.9,475.7 483.1,466.4 482.1,457.1 479.4,447.9 476.4,442.6 473.0,431.5 466.5,418.2 456.5,403.4 446.6,388.5 436.8,373.6 430.2,363.7 422.8,354.6 416.2,343.8 415.0,336.8 414.1,321.9 415.2,309.9 418.0,289.8 419.2,269.6 416.8,253.6 412.1,233.5 406.0,217.3 400.1,205.3 398.9,198.6 398.4,192.1 397.3,185.6 397.8,180.2 399.5,177.5 404.3,176.4 407.0,175.3 405.3,171.6 403.2,167.3 401.1,164.0 399.5,160.2 400.0,157.5 403.2,155.3 403.7,152.6 402.1,151.5 397.8,150.4 394.8,147.2 394.4,142.3 394.6,134.7 396.2,129.4 396.5,121.4 398.0,111.4 399.6,101.2 400.3,91.5 400.3,83.1 401.6,76.1 405.0,69.1 409.2,65.0 414.7,60.8 424.5,54.6 432.8,48.3 439.7,42.7 443.8,38.5 448.7,34.4 452.2,32.3 457.0,31.1 464.7,32.0 470.2,31.6 478.5,29.9 484.0,26.0" fill="none" stroke="#000" stroke-width="1.6" stroke-linejoin="round"/>
<path d="M394.3 74.5H398.0M394.5 70.7V78.3" stroke="#444" stroke-opacity="0.75" stroke-width="0.9" fill="none"/>
<path d="M394.3 174.0H398.0M394.5 170.2V177.8" stroke="#444" stroke-opacity="0.75" stroke-width="0.9" fill="none"/>
<path d="M394.3 273.5H398.0M394.5 269.7V277.3" stroke="#444" stroke-opacity="0.75" stroke-width="0.9" fill="none"/>
<path d="M394.3 373.0H398.0M394.5 369.2V376.8" stroke="#444" stroke-opacity="0.75" stroke-width="0.9" fill="none"/>
<path d="M394.3 472.5H398.0M394.5 468.7V476.3" stroke="#444" stroke-opacity="0.75" stroke-width="0.9" fill="none"/>
<path d="M489.5 74.5H496.5M493.0 70.7V78.3" stroke="#444" stroke-opacity="0.75" stroke-width="0.9" fill="none"/>
<path d="M489.5 174.0H496.5M493.0 170.2V177.8" stroke="#444" stroke-opacity="0.75" stroke-width="0.9" fill="none"/>
<path d="M489.5 273.5H496.5M493.0 269.7V277.3" stroke="#444" stroke-opacity="0.75" stroke-width="0.9" fill="none"/>
<path d="M489.5 373.0H496.5M493.0 369.2V376.8" stroke="#444" stroke-opacity="0.75" stroke-width="0.9" fill="none"/>
<path d="M489.5 472.5H496.5M493.0 468.7V476.3" stroke="#444" stroke-opacity="0.75" stroke-width="0.9" fill="none"/>
<path d="M588.5 74.5H595.5M592.0 70.7V78.3" stroke="#444" stroke-opacity="0.75" stroke-width="0.9" fill="none"/>
<path d="M588.5 174.0H595.5M592.0 170.2V177.8" stroke="#444" stroke-opacity="0.75" stroke-width="0.9" fill="none"/>
<path d="M588.5 273.5H595.5M592.0 269.7V277.3" stroke="#444" stroke-opacity="0.75" stroke-width="0.9" fill="none"/>
<path d="M588.5 373.0H595.5M592.0 369.2V376.8" stroke="#444" stroke-opacity="0.75" stroke-width="0.9" fill="none"/>
<path d="M588.5 472.5H595.5M592.0 468.7V476.3" stroke="#444" stroke-opacity="0.75" stroke-width="0.9" fill="none"/>
<line x1="394.5" y1="13.8" x2="394.5" y2="18.3" stroke="#000" stroke-width="1.2"/>
<line x1="394.5" y1="556.2" x2="394.5" y2="560.7" stroke="#000" stroke-width="1.2"/>
<rect x="405.7" y="1.8" width="11.7" height="3" fill="#ededed"/>
<rect x="405.7" y="560.8" width="11.7" height="3" fill="#ededed"/>
<text x="370.5" y="11.7" textLength="34" lengthAdjust="spacingAndGlyphs" class="b">638000</text>
<text x="370.5" y="571.0" textLength="34" lengthAdjust="spacingAndGlyphs" class="b">638000</text>
<line x1="493.0" y1="13.8" x2="493.0" y2="18.3" stroke="#000" stroke-width="1.2"/>
<line x1="493.0" y1="556.2" x2="493.0" y2="560.7" stroke="#000" stroke-width="1.2"/>
<rect x="504.2" y="1.8" width="11.7" height="3" fill="#ededed"/>
<rect x="504.2" y="560.8" width="11.7" height="3" fill="#ededed"/>
<text x="469.0" y="11.7" textLength="34" lengthAdjust="spacingAndGlyphs" class="b">640000</text>
<text x="469.0" y="571.0" textLength="34" lengthAdjust="spacingAndGlyphs" class="b">640000</text>
<line x1="592.0" y1="13.8" x2="592.0" y2="18.3" stroke="#000" stroke-width="1.2"/>
<line x1="592.0" y1="556.2" x2="592.0" y2="560.7" stroke="#000" stroke-width="1.2"/>
<rect x="603.2" y="1.8" width="11.7" height="3" fill="#ededed"/>
<rect x="603.2" y="560.8" width="11.7" height="3" fill="#ededed"/>
<text x="568.0" y="11.7" textLength="34" lengthAdjust="spacingAndGlyphs" class="b">642000</text>
<text x="568.0" y="571.0" textLength="34" lengthAdjust="spacingAndGlyphs" class="b">642000</text>
<line x1="380.8" y1="74.5" x2="384.8" y2="74.5" stroke="#000" stroke-width="1.2"/>
<line x1="614.8" y1="74.5" x2="618.8" y2="74.5" stroke="#000" stroke-width="1.2"/>
<rect x="369.4" y="48.8" width="1.9" height="10.6" fill="#ededed"/>
<rect x="619.8" y="48.8" width="1.9" height="10.6" fill="#ededed"/>
<text transform="translate(378.4 100.5) rotate(-90)" textLength="40" lengthAdjust="spacingAndGlyphs" class="b" style="font-size:12.6px">4380000</text>
<text transform="translate(629.3 100.5) rotate(-90)" textLength="40" lengthAdjust="spacingAndGlyphs" class="b">4380000</text>
<line x1="380.8" y1="174.0" x2="384.8" y2="174.0" stroke="#000" stroke-width="1.2"/>
<line x1="614.8" y1="174.0" x2="618.8" y2="174.0" stroke="#000" stroke-width="1.2"/>
<rect x="369.4" y="148.3" width="1.9" height="10.6" fill="#ededed"/>
<rect x="619.8" y="148.3" width="1.9" height="10.6" fill="#ededed"/>
<text transform="translate(378.4 200.0) rotate(-90)" textLength="40" lengthAdjust="spacingAndGlyphs" class="b" style="font-size:12.6px">4378000</text>
<text transform="translate(629.3 200.0) rotate(-90)" textLength="40" lengthAdjust="spacingAndGlyphs" class="b">4378000</text>
<line x1="380.8" y1="273.5" x2="384.8" y2="273.5" stroke="#000" stroke-width="1.2"/>
<line x1="614.8" y1="273.5" x2="618.8" y2="273.5" stroke="#000" stroke-width="1.2"/>
<rect x="369.4" y="247.8" width="1.9" height="10.6" fill="#ededed"/>
<rect x="619.8" y="247.8" width="1.9" height="10.6" fill="#ededed"/>
<text transform="translate(378.4 299.5) rotate(-90)" textLength="40" lengthAdjust="spacingAndGlyphs" class="b" style="font-size:12.6px">4376000</text>
<text transform="translate(629.3 299.5) rotate(-90)" textLength="40" lengthAdjust="spacingAndGlyphs" class="b">4376000</text>
<line x1="380.8" y1="373.0" x2="384.8" y2="373.0" stroke="#000" stroke-width="1.2"/>
<line x1="614.8" y1="373.0" x2="618.8" y2="373.0" stroke="#000" stroke-width="1.2"/>
<rect x="369.4" y="347.3" width="1.9" height="10.6" fill="#ededed"/>
<rect x="619.8" y="347.3" width="1.9" height="10.6" fill="#ededed"/>
<text transform="translate(378.4 399.0) rotate(-90)" textLength="40" lengthAdjust="spacingAndGlyphs" class="b" style="font-size:12.6px">4374000</text>
<text transform="translate(629.3 399.0) rotate(-90)" textLength="40" lengthAdjust="spacingAndGlyphs" class="b">4374000</text>
<line x1="380.8" y1="472.5" x2="384.8" y2="472.5" stroke="#000" stroke-width="1.2"/>
<line x1="614.8" y1="472.5" x2="618.8" y2="472.5" stroke="#000" stroke-width="1.2"/>
<rect x="369.4" y="446.8" width="1.9" height="10.6" fill="#ededed"/>
<rect x="619.8" y="446.8" width="1.9" height="10.6" fill="#ededed"/>
<text transform="translate(378.4 498.5) rotate(-90)" textLength="40" lengthAdjust="spacingAndGlyphs" class="b" style="font-size:12.6px">4372000</text>
<text transform="translate(629.3 498.5) rotate(-90)" textLength="40" lengthAdjust="spacingAndGlyphs" class="b">4372000</text>
<rect x="652.1" y="24.6" width="3.9" height="25" fill="#000"/>
<rect x="641.7" y="35.0" width="25" height="4.3" fill="#000"/>
<rect x="641.7" y="52.4" width="25" height="3.9" fill="#000"/>
<defs><linearGradient id="ge" x1="0" y1="0" x2="0" y2="1"><stop offset="0" stop-color="#8a2624"/><stop offset="0.015" stop-color="#b04a28"/><stop offset="0.037" stop-color="#eea040"/><stop offset="0.06" stop-color="#e0a070"/><stop offset="0.082" stop-color="#c8988c"/><stop offset="0.11" stop-color="#a890a8"/><stop offset="0.154" stop-color="#7c78c0"/><stop offset="0.21" stop-color="#40409e"/><stop offset="0.265" stop-color="#2c2a84"/><stop offset="1" stop-color="#2a2a80"/></linearGradient></defs>
<rect x="635.3" y="120.0" width="12.60" height="388.30" fill="url(#ge)"/>
<text x="652.4" y="125.5" class="b" textLength="16.3" lengthAdjust="spacingAndGlyphs">308</text>
<text x="652.4" y="139.4" class="b" textLength="16.3" lengthAdjust="spacingAndGlyphs">307</text>
<text x="652.4" y="186.7" class="b" textLength="16.3" lengthAdjust="spacingAndGlyphs">305</text>
<text x="652.4" y="233.7" class="b" textLength="16.3" lengthAdjust="spacingAndGlyphs">303</text>
<text x="652.4" y="280.7" class="b" textLength="16.3" lengthAdjust="spacingAndGlyphs">301</text>
<text x="652.4" y="328.0" class="b" textLength="16.3" lengthAdjust="spacingAndGlyphs">299</text>
<text x="652.4" y="374.0" class="b" textLength="16.3" lengthAdjust="spacingAndGlyphs">297</text>
<text x="652.4" y="420.5" class="b" textLength="16.3" lengthAdjust="spacingAndGlyphs">295</text>
<text x="652.4" y="467.5" class="b" textLength="16.3" lengthAdjust="spacingAndGlyphs">293</text>
<text x="652.4" y="514.5" class="b" textLength="16.3" lengthAdjust="spacingAndGlyphs">291</text>
<text x="634.7" y="107.6" class="b" style="font-size:13px">T (K)</text>
<rect x="379.4" y="585.4" width="100.8" height="5.6" fill="#000"/>
<rect x="406.0" y="586.7" width="24.2" height="2.8" fill="#fff"/>
<text x="483.0" y="590.6" class="r" style="font-size:13px">Meters</text>
<text x="377.9" y="605.2" class="r" style="font-size:12.5px">0</text>
<text x="396.6" y="605.2" class="r" style="font-size:12.5px">5001,000</text>
<text x="465.4" y="605.2" class="r" style="font-size:12.5px">2,000</text>
<text x="522.8" y="596.0" class="b" style="font-size:13px">WGS 84, UTM Zone 48 N</text>
<text x="518.6" y="640.3" class="b" style="font-size:25px" text-anchor="middle"><tspan style="font-weight:normal">(</tspan>e<tspan style="font-weight:normal">)</tspan></text>
<rect x="734.5" y="18.4" width="232.90" height="540.50" fill="#fff" stroke="#000" stroke-width="1.5"/>
<g transform="translate(743.5 23.7) scale(4.5000 4.4873)" shape-rendering="crispEdges">
<path fill="#2c2c88" d="M6 0h10v1h-10zM19 0h1v1h-1zM22 0h2v1h-2zM4 1h1v1h-1zM6 1h10v1h-10zM21 1h3v1h-3zM4 2h8v1h-8zM1 3h2v1h-2zM4 3h8v1h-8zM23 3h1v1h-1zM6 4h4v1h-4zM6 5h4v1h-4zM43 5h1v1h-1zM4 6h2v1h-2zM14 6h2v1h-2zM43 6h1v1h-1zM4 7h2v1h-2zM14 7h2v1h-2zM12 8h4v1h-4zM12 9h4v1h-4zM17 9h1v1h-1zM37 24h1v1h-1zM20 28h1v1h-1zM20 29h1v1h-1zM0 30h1v1h-1zM0 35h1v1h-1zM0 52h1v1h-1zM0 54h1v1h-1zM46 56h1v1h-1zM0 62h2v1h-2zM0 63h2v1h-2zM0 64h3v1h-3zM0 65h2v1h-2zM0 68h2v1h-2zM0 69h2v1h-2zM0 70h2v1h-2zM0 71h2v1h-2zM0 77h1v1h-1zM3 79h1v1h-1zM2 82h2v1h-2zM2 83h2v1h-2zM0 84h6v1h-6zM0 85h6v1h-6zM8 85h1v1h-1zM2 86h2v1h-2zM2 87h2v1h-2zM8 87h1v1h-1zM5 88h1v1h-1zM7 90h1v1h-1zM0 91h1v1h-1zM0 92h1v1h-1zM11 93h1v1h-1zM6 95h1v1h-1zM12 95h1v1h-1zM5 98h1v1h-1zM4 100h1v1h-1zM12 100h1v1h-1zM13 101h1v1h-1zM0 102h1v1h-1zM4 102h1v1h-1zM12 102h2v1h-2zM11 103h3v1h-3zM12 104h4v1h-4zM12 105h4v1h-4zM3 106h1v1h-1zM12 106h2v1h-2zM20 106h1v1h-1zM2 107h1v1h-1zM12 107h2v1h-2zM20 109h1v1h-1zM0 110h1v1h-1zM5 110h1v1h-1zM15 110h1v1h-1zM47 110h1v1h-1zM3 111h1v1h-1zM8 111h1v1h-1zM14 111h1v1h-1zM13 112h1v1h-1zM18 112h1v1h-1zM20 112h1v1h-1zM23 112h1v1h-1zM44 112h1v1h-1zM25 113h1v1h-1zM45 113h1v1h-1zM4 114h1v1h-1zM7 114h1v1h-1zM22 114h2v1h-2zM44 114h1v1h-1zM6 115h1v1h-1zM3 116h1v1h-1zM19 117h1v1h-1zM22 117h1v1h-1z"/>
<path fill="#3c3ca6" d="M0 0h6v1h-6zM16 0h3v1h-3zM20 0h2v1h-2zM28 0h1v1h-1zM38 0h1v1h-1zM44 0h1v1h-1zM1 1h1v1h-1zM3 1h1v1h-1zM5 1h1v1h-1zM16 1h3v1h-3zM20 1h1v1h-1zM0 2h4v1h-4zM12 2h2v1h-2zM16 2h1v1h-1zM22 2h2v1h-2zM42 2h4v1h-4zM0 3h1v1h-1zM3 3h1v1h-1zM13 3h1v1h-1zM16 3h1v1h-1zM22 3h1v1h-1zM42 3h5v1h-5zM0 4h5v1h-5zM10 4h4v1h-4zM26 4h1v1h-1zM42 4h4v1h-4zM0 5h6v1h-6zM10 5h4v1h-4zM26 5h1v1h-1zM41 5h2v1h-2zM44 5h2v1h-2zM0 6h4v1h-4zM6 6h5v1h-5zM12 6h2v1h-2zM42 6h1v1h-1zM0 7h4v1h-4zM6 7h1v1h-1zM8 7h6v1h-6zM42 7h2v1h-2zM46 7h1v1h-1zM0 8h6v1h-6zM7 8h1v1h-1zM10 8h2v1h-2zM16 8h2v1h-2zM0 9h6v1h-6zM11 9h1v1h-1zM16 9h1v1h-1zM44 9h2v1h-2zM0 10h3v1h-3zM8 10h1v1h-1zM10 10h4v1h-4zM0 11h2v1h-2zM10 11h4v1h-4zM34 13h1v1h-1zM46 20h2v1h-2zM36 23h1v1h-1zM3 24h1v1h-1zM34 24h3v1h-3zM41 24h1v1h-1zM31 25h1v1h-1zM34 25h1v1h-1zM36 25h2v1h-2zM0 26h2v1h-2zM33 26h1v1h-1zM36 26h2v1h-2zM42 26h2v1h-2zM46 26h1v1h-1zM0 27h2v1h-2zM36 27h2v1h-2zM0 28h2v1h-2zM21 28h1v1h-1zM0 29h2v1h-2zM21 29h1v1h-1zM1 30h1v1h-1zM0 31h2v1h-2zM33 31h1v1h-1zM0 32h2v1h-2zM0 33h2v1h-2zM0 34h2v1h-2zM1 35h1v1h-1zM0 48h2v1h-2zM46 48h1v1h-1zM1 49h1v1h-1zM0 50h2v1h-2zM46 50h2v1h-2zM0 51h1v1h-1zM45 51h1v1h-1zM0 53h2v1h-2zM1 54h1v1h-1zM0 55h2v1h-2zM46 55h1v1h-1zM0 56h2v1h-2zM47 56h1v1h-1zM0 57h2v1h-2zM46 57h2v1h-2zM0 58h2v1h-2zM0 59h2v1h-2zM0 60h2v1h-2zM0 61h2v1h-2zM3 64h1v1h-1zM2 65h2v1h-2zM0 66h2v1h-2zM0 67h2v1h-2zM3 68h1v1h-1zM2 69h2v1h-2zM2 70h2v1h-2zM2 71h2v1h-2zM0 72h4v1h-4zM0 73h3v1h-3zM0 74h3v1h-3zM0 75h4v1h-4zM0 76h4v1h-4zM1 77h3v1h-3zM0 78h6v1h-6zM0 79h3v1h-3zM4 79h2v1h-2zM0 80h1v1h-1zM2 80h4v1h-4zM9 80h1v1h-1zM0 81h2v1h-2zM3 81h2v1h-2zM0 82h2v1h-2zM4 82h4v1h-4zM0 83h2v1h-2zM4 83h4v1h-4zM6 84h6v1h-6zM6 85h2v1h-2zM9 85h3v1h-3zM0 86h2v1h-2zM4 86h8v1h-8zM1 87h1v1h-1zM4 87h4v1h-4zM9 87h1v1h-1zM11 87h1v1h-1zM0 88h5v1h-5zM7 88h5v1h-5zM13 88h1v1h-1zM0 89h12v1h-12zM0 90h1v1h-1zM2 90h5v1h-5zM8 90h6v1h-6zM2 91h12v1h-12zM1 92h6v1h-6zM8 92h6v1h-6zM0 93h3v1h-3zM4 93h7v1h-7zM12 93h2v1h-2zM0 94h9v1h-9zM10 94h4v1h-4zM0 95h6v1h-6zM7 95h5v1h-5zM13 95h1v1h-1zM0 96h14v1h-14zM0 97h1v1h-1zM2 97h6v1h-6zM9 97h5v1h-5zM0 98h3v1h-3zM4 98h1v1h-1zM6 98h6v1h-6zM13 98h1v1h-1zM0 99h14v1h-14zM0 100h2v1h-2zM5 100h2v1h-2zM8 100h4v1h-4zM13 100h3v1h-3zM19 100h1v1h-1zM0 101h2v1h-2zM4 101h2v1h-2zM8 101h3v1h-3zM12 101h1v1h-1zM14 101h2v1h-2zM1 102h1v1h-1zM5 102h1v1h-1zM7 102h5v1h-5zM14 102h2v1h-2zM0 103h2v1h-2zM4 103h7v1h-7zM14 103h2v1h-2zM0 104h1v1h-1zM2 104h3v1h-3zM8 104h1v1h-1zM10 104h2v1h-2zM18 104h4v1h-4zM0 105h6v1h-6zM9 105h3v1h-3zM19 105h3v1h-3zM0 106h3v1h-3zM4 106h1v1h-1zM8 106h4v1h-4zM14 106h2v1h-2zM17 106h3v1h-3zM21 106h1v1h-1zM0 107h2v1h-2zM3 107h1v1h-1zM8 107h4v1h-4zM14 107h8v1h-8zM0 108h10v1h-10zM12 108h11v1h-11zM44 108h2v1h-2zM0 109h9v1h-9zM11 109h9v1h-9zM21 109h1v1h-1zM1 110h4v1h-4zM6 110h2v1h-2zM9 110h1v1h-1zM12 110h3v1h-3zM16 110h2v1h-2zM19 110h5v1h-5zM44 110h1v1h-1zM46 110h1v1h-1zM0 111h3v1h-3zM4 111h4v1h-4zM9 111h1v1h-1zM12 111h2v1h-2zM15 111h2v1h-2zM18 111h6v1h-6zM46 111h2v1h-2zM0 112h13v1h-13zM14 112h3v1h-3zM19 112h1v1h-1zM21 112h2v1h-2zM24 112h2v1h-2zM45 112h3v1h-3zM0 113h25v1h-25zM44 113h1v1h-1zM46 113h2v1h-2zM2 114h2v1h-2zM5 114h2v1h-2zM8 114h4v1h-4zM14 114h4v1h-4zM20 114h2v1h-2zM25 114h1v1h-1zM42 114h2v1h-2zM45 114h1v1h-1zM2 115h4v1h-4zM7 115h5v1h-5zM14 115h1v1h-1zM16 115h2v1h-2zM20 115h1v1h-1zM22 115h4v1h-4zM38 115h1v1h-1zM42 115h4v1h-4zM2 116h1v1h-1zM6 116h6v1h-6zM14 116h11v1h-11zM26 116h2v1h-2zM35 116h1v1h-1zM42 116h4v1h-4zM47 116h1v1h-1zM0 117h4v1h-4zM6 117h4v1h-4zM11 117h1v1h-1zM14 117h2v1h-2zM17 117h2v1h-2zM20 117h2v1h-2zM23 117h5v1h-5zM29 117h1v1h-1zM34 117h1v1h-1zM37 117h1v1h-1zM39 117h1v1h-1zM42 117h4v1h-4zM47 117h1v1h-1z"/>
<path fill="#5e5eb8" d="M29 0h1v1h-1zM36 0h2v1h-2zM39 0h1v1h-1zM42 0h1v1h-1zM45 0h3v1h-3zM0 1h1v1h-1zM2 1h1v1h-1zM19 1h1v1h-1zM28 1h3v1h-3zM36 1h4v1h-4zM41 1h4v1h-4zM46 1h2v1h-2zM14 2h2v1h-2zM17 2h5v1h-5zM25 2h3v1h-3zM40 2h1v1h-1zM46 2h2v1h-2zM12 3h1v1h-1zM17 3h5v1h-5zM25 3h3v1h-3zM41 3h1v1h-1zM47 3h1v1h-1zM5 4h1v1h-1zM14 4h4v1h-4zM23 4h3v1h-3zM27 4h1v1h-1zM40 4h2v1h-2zM14 5h4v1h-4zM22 5h3v1h-3zM27 5h1v1h-1zM40 5h1v1h-1zM11 6h1v1h-1zM16 6h1v1h-1zM18 6h2v1h-2zM44 6h4v1h-4zM7 7h1v1h-1zM16 7h4v1h-4zM44 7h2v1h-2zM47 7h1v1h-1zM6 8h1v1h-1zM8 8h2v1h-2zM18 8h2v1h-2zM34 8h1v1h-1zM44 8h4v1h-4zM6 9h5v1h-5zM18 9h2v1h-2zM46 9h2v1h-2zM3 10h1v1h-1zM9 10h1v1h-1zM14 10h2v1h-2zM17 10h1v1h-1zM46 10h2v1h-2zM2 11h3v1h-3zM8 11h2v1h-2zM14 11h1v1h-1zM16 11h2v1h-2zM27 11h1v1h-1zM0 12h2v1h-2zM6 12h2v1h-2zM12 12h3v1h-3zM26 12h2v1h-2zM34 12h2v1h-2zM0 13h2v1h-2zM7 13h1v1h-1zM12 13h2v1h-2zM26 13h2v1h-2zM35 13h1v1h-1zM38 13h1v1h-1zM37 14h1v1h-1zM41 14h1v1h-1zM47 14h1v1h-1zM41 15h1v1h-1zM20 16h2v1h-2zM30 16h2v1h-2zM20 17h2v1h-2zM29 17h1v1h-1zM2 19h1v1h-1zM37 19h1v1h-1zM2 20h2v1h-2zM2 21h2v1h-2zM46 21h2v1h-2zM0 22h4v1h-4zM28 22h4v1h-4zM35 22h5v1h-5zM0 23h4v1h-4zM28 23h4v1h-4zM37 23h3v1h-3zM41 23h1v1h-1zM44 23h1v1h-1zM0 24h3v1h-3zM28 24h1v1h-1zM30 24h2v1h-2zM38 24h3v1h-3zM42 24h2v1h-2zM46 24h2v1h-2zM1 25h3v1h-3zM28 25h3v1h-3zM35 25h1v1h-1zM38 25h1v1h-1zM40 25h4v1h-4zM46 25h2v1h-2zM2 26h2v1h-2zM22 26h2v1h-2zM26 26h7v1h-7zM38 26h3v1h-3zM45 26h1v1h-1zM47 26h1v1h-1zM2 27h2v1h-2zM23 27h1v1h-1zM26 27h4v1h-4zM31 27h5v1h-5zM38 27h6v1h-6zM46 27h2v1h-2zM2 28h1v1h-1zM14 28h4v1h-4zM26 28h8v1h-8zM36 28h1v1h-1zM38 28h4v1h-4zM46 28h2v1h-2zM14 29h4v1h-4zM26 29h6v1h-6zM33 29h1v1h-1zM36 29h6v1h-6zM44 29h1v1h-1zM46 29h2v1h-2zM6 30h2v1h-2zM16 30h3v1h-3zM32 30h2v1h-2zM7 31h1v1h-1zM16 31h1v1h-1zM18 31h2v1h-2zM32 31h1v1h-1zM2 32h1v1h-1zM6 33h1v1h-1zM2 34h1v1h-1zM0 36h2v1h-2zM14 36h1v1h-1zM0 37h2v1h-2zM0 38h2v1h-2zM28 38h2v1h-2zM0 39h2v1h-2zM14 39h1v1h-1zM28 39h2v1h-2zM25 41h1v1h-1zM43 42h3v1h-3zM31 43h1v1h-1zM42 43h4v1h-4zM46 44h2v1h-2zM46 45h2v1h-2zM44 46h4v1h-4zM44 47h1v1h-1zM46 47h2v1h-2zM38 48h4v1h-4zM44 48h2v1h-2zM47 48h1v1h-1zM0 49h1v1h-1zM38 49h4v1h-4zM44 49h3v1h-3zM44 50h2v1h-2zM1 51h1v1h-1zM44 51h1v1h-1zM47 51h1v1h-1zM1 52h1v1h-1zM46 52h2v1h-2zM46 53h2v1h-2zM46 54h2v1h-2zM47 55h1v1h-1zM2 56h2v1h-2zM2 57h2v1h-2zM2 58h2v1h-2zM2 59h2v1h-2zM2 60h2v1h-2zM2 61h1v1h-1zM2 62h2v1h-2zM2 63h2v1h-2zM2 68h1v1h-1zM4 72h2v1h-2zM3 73h3v1h-3zM46 73h1v1h-1zM3 74h3v1h-3zM4 75h2v1h-2zM4 76h2v1h-2zM4 77h2v1h-2zM6 78h2v1h-2zM6 79h3v1h-3zM1 80h1v1h-1zM6 80h3v1h-3zM2 81h1v1h-1zM5 81h6v1h-6zM9 82h1v1h-1zM8 83h2v1h-2zM12 84h2v1h-2zM12 85h2v1h-2zM12 86h2v1h-2zM0 87h1v1h-1zM10 87h1v1h-1zM12 87h2v1h-2zM6 88h1v1h-1zM12 88h1v1h-1zM12 89h2v1h-2zM1 90h1v1h-1zM14 90h2v1h-2zM1 91h1v1h-1zM14 91h2v1h-2zM7 92h1v1h-1zM14 92h2v1h-2zM3 93h1v1h-1zM14 93h2v1h-2zM9 94h1v1h-1zM14 94h2v1h-2zM14 95h2v1h-2zM14 96h2v1h-2zM1 97h1v1h-1zM8 97h1v1h-1zM14 97h2v1h-2zM3 98h1v1h-1zM12 98h1v1h-1zM14 98h4v1h-4zM14 99h3v1h-3zM2 100h2v1h-2zM7 100h1v1h-1zM16 100h3v1h-3zM45 100h1v1h-1zM2 101h1v1h-1zM6 101h2v1h-2zM11 101h1v1h-1zM16 101h4v1h-4zM2 102h2v1h-2zM6 102h1v1h-1zM16 102h6v1h-6zM46 102h2v1h-2zM2 103h2v1h-2zM16 103h6v1h-6zM46 103h2v1h-2zM1 104h1v1h-1zM5 104h3v1h-3zM9 104h1v1h-1zM16 104h2v1h-2zM46 104h2v1h-2zM6 105h3v1h-3zM16 105h3v1h-3zM45 105h3v1h-3zM6 106h2v1h-2zM16 106h1v1h-1zM22 106h2v1h-2zM46 106h2v1h-2zM4 107h4v1h-4zM22 107h2v1h-2zM46 107h2v1h-2zM11 108h1v1h-1zM23 108h1v1h-1zM46 108h2v1h-2zM9 109h2v1h-2zM22 109h2v1h-2zM44 109h4v1h-4zM8 110h1v1h-1zM11 110h1v1h-1zM18 110h1v1h-1zM24 110h2v1h-2zM28 110h1v1h-1zM45 110h1v1h-1zM11 111h1v1h-1zM17 111h1v1h-1zM24 111h2v1h-2zM44 111h2v1h-2zM17 112h1v1h-1zM26 112h2v1h-2zM42 112h2v1h-2zM26 113h2v1h-2zM42 113h2v1h-2zM0 114h2v1h-2zM12 114h2v1h-2zM18 114h2v1h-2zM24 114h1v1h-1zM26 114h4v1h-4zM38 114h4v1h-4zM46 114h2v1h-2zM0 115h2v1h-2zM12 115h2v1h-2zM15 115h1v1h-1zM18 115h2v1h-2zM21 115h1v1h-1zM26 115h4v1h-4zM39 115h3v1h-3zM46 115h2v1h-2zM0 116h2v1h-2zM4 116h2v1h-2zM12 116h2v1h-2zM25 116h1v1h-1zM28 116h1v1h-1zM30 116h2v1h-2zM36 116h6v1h-6zM46 116h1v1h-1zM4 117h2v1h-2zM10 117h1v1h-1zM12 117h2v1h-2zM16 117h1v1h-1zM28 117h1v1h-1zM30 117h2v1h-2zM35 117h2v1h-2zM38 117h1v1h-1zM40 117h2v1h-2z"/>
<path fill="#8a8ac8" d="M24 0h3v1h-3zM30 0h2v1h-2zM35 0h1v1h-1zM40 0h2v1h-2zM43 0h1v1h-1zM24 1h4v1h-4zM34 1h2v1h-2zM40 1h1v1h-1zM45 1h1v1h-1zM24 2h1v1h-1zM28 2h2v1h-2zM41 2h1v1h-1zM14 3h2v1h-2zM24 3h1v1h-1zM28 3h2v1h-2zM40 3h1v1h-1zM18 4h2v1h-2zM22 4h1v1h-1zM28 4h2v1h-2zM32 4h1v1h-1zM46 4h2v1h-2zM18 5h2v1h-2zM25 5h1v1h-1zM28 5h2v1h-2zM32 5h2v1h-2zM46 5h2v1h-2zM17 6h1v1h-1zM20 6h4v1h-4zM27 6h1v1h-1zM32 6h2v1h-2zM40 6h2v1h-2zM20 7h4v1h-4zM32 7h2v1h-2zM20 8h1v1h-1zM35 8h1v1h-1zM42 8h1v1h-1zM20 9h2v1h-2zM34 9h2v1h-2zM42 9h2v1h-2zM4 10h4v1h-4zM16 10h1v1h-1zM18 10h2v1h-2zM26 10h2v1h-2zM29 10h1v1h-1zM34 10h2v1h-2zM44 10h1v1h-1zM5 11h3v1h-3zM15 11h1v1h-1zM18 11h2v1h-2zM26 11h1v1h-1zM34 11h2v1h-2zM44 11h4v1h-4zM2 12h4v1h-4zM8 12h2v1h-2zM11 12h1v1h-1zM15 12h1v1h-1zM24 12h2v1h-2zM28 12h2v1h-2zM32 12h2v1h-2zM36 12h6v1h-6zM46 12h2v1h-2zM2 13h5v1h-5zM8 13h4v1h-4zM14 13h2v1h-2zM24 13h2v1h-2zM28 13h2v1h-2zM32 13h2v1h-2zM36 13h2v1h-2zM39 13h3v1h-3zM46 13h2v1h-2zM0 14h2v1h-2zM5 14h2v1h-2zM10 14h2v1h-2zM24 14h8v1h-8zM36 14h1v1h-1zM38 14h3v1h-3zM46 14h1v1h-1zM0 15h2v1h-2zM4 15h2v1h-2zM8 15h1v1h-1zM10 15h2v1h-2zM24 15h8v1h-8zM36 15h5v1h-5zM46 15h2v1h-2zM3 16h1v1h-1zM16 16h1v1h-1zM18 16h2v1h-2zM28 16h2v1h-2zM46 16h2v1h-2zM18 17h2v1h-2zM28 17h1v1h-1zM30 17h3v1h-3zM46 17h2v1h-2zM2 18h2v1h-2zM34 18h1v1h-1zM36 18h2v1h-2zM40 18h1v1h-1zM46 18h2v1h-2zM1 19h1v1h-1zM3 19h1v1h-1zM34 19h3v1h-3zM46 19h2v1h-2zM1 20h1v1h-1zM4 20h1v1h-1zM8 20h1v1h-1zM27 20h1v1h-1zM31 20h11v1h-11zM43 20h1v1h-1zM45 20h1v1h-1zM5 21h1v1h-1zM8 21h1v1h-1zM32 21h14v1h-14zM4 22h2v1h-2zM32 22h3v1h-3zM40 22h7v1h-7zM4 23h2v1h-2zM32 23h4v1h-4zM40 23h1v1h-1zM42 23h1v1h-1zM45 23h3v1h-3zM4 24h2v1h-2zM29 24h1v1h-1zM32 24h2v1h-2zM44 24h2v1h-2zM0 25h1v1h-1zM4 25h2v1h-2zM19 25h1v1h-1zM32 25h2v1h-2zM39 25h1v1h-1zM44 25h2v1h-2zM4 26h2v1h-2zM16 26h4v1h-4zM34 26h2v1h-2zM41 26h1v1h-1zM44 26h1v1h-1zM4 27h2v1h-2zM16 27h4v1h-4zM22 27h1v1h-1zM30 27h1v1h-1zM44 27h2v1h-2zM3 28h1v1h-1zM18 28h2v1h-2zM22 28h2v1h-2zM34 28h2v1h-2zM37 28h1v1h-1zM42 28h2v1h-2zM45 28h1v1h-1zM2 29h3v1h-3zM18 29h2v1h-2zM22 29h1v1h-1zM32 29h1v1h-1zM34 29h2v1h-2zM42 29h1v1h-1zM45 29h1v1h-1zM2 30h2v1h-2zM8 30h2v1h-2zM14 30h2v1h-2zM19 30h3v1h-3zM28 30h4v1h-4zM34 30h2v1h-2zM46 30h2v1h-2zM2 31h2v1h-2zM6 31h1v1h-1zM8 31h2v1h-2zM14 31h2v1h-2zM17 31h1v1h-1zM20 31h2v1h-2zM28 31h4v1h-4zM34 31h2v1h-2zM46 31h2v1h-2zM3 32h1v1h-1zM6 32h4v1h-4zM16 32h2v1h-2zM2 33h2v1h-2zM7 33h3v1h-3zM14 33h1v1h-1zM16 33h2v1h-2zM3 34h1v1h-1zM14 34h2v1h-2zM44 34h1v1h-1zM2 35h2v1h-2zM14 35h2v1h-2zM39 35h1v1h-1zM2 36h2v1h-2zM15 36h3v1h-3zM26 36h3v1h-3zM31 36h1v1h-1zM40 36h1v1h-1zM2 37h2v1h-2zM14 37h4v1h-4zM24 37h3v1h-3zM28 37h2v1h-2zM2 38h1v1h-1zM14 38h2v1h-2zM23 38h5v1h-5zM2 39h2v1h-2zM15 39h1v1h-1zM17 39h1v1h-1zM24 39h4v1h-4zM24 40h2v1h-2zM27 40h1v1h-1zM32 40h1v1h-1zM24 41h1v1h-1zM26 41h2v1h-2zM25 42h1v1h-1zM30 42h2v1h-2zM40 42h3v1h-3zM46 42h2v1h-2zM22 43h1v1h-1zM24 43h2v1h-2zM28 43h1v1h-1zM32 43h1v1h-1zM37 43h1v1h-1zM40 43h2v1h-2zM46 43h2v1h-2zM0 44h1v1h-1zM32 44h2v1h-2zM44 44h2v1h-2zM25 45h1v1h-1zM32 45h2v1h-2zM44 45h2v1h-2zM29 46h1v1h-1zM36 46h2v1h-2zM40 46h3v1h-3zM3 47h1v1h-1zM36 47h2v1h-2zM40 47h4v1h-4zM45 47h1v1h-1zM2 48h2v1h-2zM19 48h2v1h-2zM34 48h4v1h-4zM42 48h2v1h-2zM2 49h2v1h-2zM34 49h4v1h-4zM42 49h2v1h-2zM47 49h1v1h-1zM2 50h2v1h-2zM42 50h2v1h-2zM2 51h2v1h-2zM42 51h2v1h-2zM46 51h1v1h-1zM2 52h2v1h-2zM44 52h2v1h-2zM3 53h1v1h-1zM44 53h2v1h-2zM2 54h2v1h-2zM44 54h2v1h-2zM2 55h2v1h-2zM44 55h1v1h-1zM5 58h1v1h-1zM46 58h2v1h-2zM46 59h2v1h-2zM5 60h1v1h-1zM36 60h1v1h-1zM3 61h2v1h-2zM47 61h1v1h-1zM4 62h2v1h-2zM18 62h2v1h-2zM46 62h1v1h-1zM4 63h2v1h-2zM18 63h2v1h-2zM34 63h1v1h-1zM46 63h2v1h-2zM37 65h1v1h-1zM46 65h1v1h-1zM5 66h1v1h-1zM38 66h2v1h-2zM47 66h1v1h-1zM4 67h2v1h-2zM20 67h1v1h-1zM38 67h2v1h-2zM46 67h1v1h-1zM4 68h2v1h-2zM38 68h2v1h-2zM47 68h1v1h-1zM4 69h2v1h-2zM38 69h2v1h-2zM5 70h1v1h-1zM44 70h1v1h-1zM4 71h2v1h-2zM39 71h1v1h-1zM6 72h2v1h-2zM46 72h2v1h-2zM6 73h2v1h-2zM47 73h1v1h-1zM6 74h2v1h-2zM9 74h1v1h-1zM46 74h2v1h-2zM7 75h1v1h-1zM46 75h2v1h-2zM6 76h1v1h-1zM40 76h2v1h-2zM43 76h3v1h-3zM47 76h1v1h-1zM6 77h2v1h-2zM40 77h2v1h-2zM43 77h3v1h-3zM8 78h2v1h-2zM11 78h1v1h-1zM9 79h1v1h-1zM10 80h2v1h-2zM11 81h1v1h-1zM47 81h1v1h-1zM8 82h1v1h-1zM10 82h2v1h-2zM10 83h2v1h-2zM14 84h2v1h-2zM14 85h2v1h-2zM14 86h2v1h-2zM14 87h1v1h-1zM14 88h2v1h-2zM41 88h1v1h-1zM14 89h2v1h-2zM37 92h1v1h-1zM19 94h1v1h-1zM18 98h2v1h-2zM17 99h3v1h-3zM20 100h2v1h-2zM44 100h1v1h-1zM3 101h1v1h-1zM21 101h1v1h-1zM44 101h2v1h-2zM44 102h2v1h-2zM44 103h2v1h-2zM44 104h2v1h-2zM22 105h1v1h-1zM44 105h1v1h-1zM5 106h1v1h-1zM44 106h2v1h-2zM44 107h2v1h-2zM10 108h1v1h-1zM24 108h2v1h-2zM24 109h3v1h-3zM10 110h1v1h-1zM29 110h1v1h-1zM42 110h2v1h-2zM10 111h1v1h-1zM28 111h2v1h-2zM42 111h2v1h-2zM28 112h2v1h-2zM39 112h3v1h-3zM28 113h3v1h-3zM40 113h2v1h-2zM30 114h2v1h-2zM34 114h4v1h-4zM30 115h2v1h-2zM34 115h4v1h-4zM29 116h1v1h-1zM32 116h3v1h-3zM32 117h2v1h-2zM46 117h1v1h-1z"/>
<path fill="#b6b6d8" d="M27 0h1v1h-1zM34 0h1v1h-1zM31 1h1v1h-1zM30 2h1v1h-1zM36 2h4v1h-4zM30 3h1v1h-1zM36 3h1v1h-1zM38 3h2v1h-2zM20 4h2v1h-2zM33 4h1v1h-1zM38 4h1v1h-1zM20 5h2v1h-2zM39 5h1v1h-1zM26 6h1v1h-1zM34 6h2v1h-2zM26 7h2v1h-2zM34 7h2v1h-2zM40 7h2v1h-2zM21 8h1v1h-1zM31 8h3v1h-3zM36 8h6v1h-6zM43 8h1v1h-1zM32 9h2v1h-2zM36 9h6v1h-6zM20 10h2v1h-2zM28 10h1v1h-1zM32 10h1v1h-1zM36 10h2v1h-2zM43 10h1v1h-1zM45 10h1v1h-1zM20 11h2v1h-2zM28 11h3v1h-3zM32 11h2v1h-2zM36 11h2v1h-2zM43 11h1v1h-1zM10 12h1v1h-1zM20 12h1v1h-1zM30 12h2v1h-2zM42 12h4v1h-4zM21 13h1v1h-1zM30 13h1v1h-1zM42 13h4v1h-4zM2 14h3v1h-3zM7 14h3v1h-3zM12 14h2v1h-2zM23 14h1v1h-1zM32 14h4v1h-4zM42 14h4v1h-4zM2 15h2v1h-2zM6 15h2v1h-2zM9 15h1v1h-1zM12 15h2v1h-2zM33 15h3v1h-3zM42 15h4v1h-4zM2 16h1v1h-1zM4 16h2v1h-2zM17 16h1v1h-1zM32 16h4v1h-4zM38 16h2v1h-2zM44 16h2v1h-2zM2 17h4v1h-4zM16 17h2v1h-2zM33 17h3v1h-3zM38 17h2v1h-2zM43 17h3v1h-3zM0 18h2v1h-2zM8 18h2v1h-2zM28 18h2v1h-2zM32 18h2v1h-2zM35 18h1v1h-1zM38 18h1v1h-1zM41 18h1v1h-1zM44 18h2v1h-2zM0 19h1v1h-1zM6 19h1v1h-1zM8 19h2v1h-2zM28 19h2v1h-2zM32 19h2v1h-2zM38 19h4v1h-4zM44 19h2v1h-2zM0 20h1v1h-1zM5 20h1v1h-1zM9 20h1v1h-1zM26 20h1v1h-1zM29 20h1v1h-1zM42 20h1v1h-1zM44 20h1v1h-1zM0 21h2v1h-2zM4 21h1v1h-1zM9 21h1v1h-1zM26 21h2v1h-2zM30 21h2v1h-2zM6 22h2v1h-2zM12 22h1v1h-1zM14 22h2v1h-2zM24 22h4v1h-4zM47 22h1v1h-1zM6 23h2v1h-2zM14 23h2v1h-2zM24 23h4v1h-4zM43 23h1v1h-1zM6 24h4v1h-4zM18 24h2v1h-2zM26 24h2v1h-2zM7 25h4v1h-4zM18 25h1v1h-1zM26 25h2v1h-2zM6 26h4v1h-4zM20 26h1v1h-1zM24 26h2v1h-2zM6 27h4v1h-4zM20 27h2v1h-2zM24 27h2v1h-2zM4 28h4v1h-4zM44 28h1v1h-1zM5 29h3v1h-3zM9 29h1v1h-1zM23 29h1v1h-1zM43 29h1v1h-1zM4 30h2v1h-2zM26 30h2v1h-2zM38 30h4v1h-4zM43 30h3v1h-3zM4 31h2v1h-2zM26 31h2v1h-2zM38 31h8v1h-8zM4 32h2v1h-2zM14 32h2v1h-2zM25 32h1v1h-1zM40 32h1v1h-1zM44 32h2v1h-2zM4 33h2v1h-2zM15 33h1v1h-1zM40 33h2v1h-2zM43 33h3v1h-3zM8 34h2v1h-2zM16 34h1v1h-1zM24 34h2v1h-2zM38 34h6v1h-6zM45 34h1v1h-1zM8 35h2v1h-2zM16 35h2v1h-2zM24 35h2v1h-2zM38 35h1v1h-1zM40 35h6v1h-6zM7 36h3v1h-3zM12 36h2v1h-2zM24 36h2v1h-2zM29 36h2v1h-2zM32 36h3v1h-3zM36 36h2v1h-2zM39 36h1v1h-1zM41 36h5v1h-5zM6 37h4v1h-4zM12 37h2v1h-2zM27 37h1v1h-1zM30 37h4v1h-4zM36 37h2v1h-2zM40 37h6v1h-6zM3 38h3v1h-3zM8 38h4v1h-4zM16 38h4v1h-4zM22 38h1v1h-1zM30 38h1v1h-1zM32 38h2v1h-2zM36 38h2v1h-2zM41 38h1v1h-1zM46 38h2v1h-2zM4 39h3v1h-3zM8 39h4v1h-4zM16 39h1v1h-1zM18 39h2v1h-2zM22 39h2v1h-2zM31 39h3v1h-3zM36 39h2v1h-2zM40 39h2v1h-2zM46 39h2v1h-2zM0 40h2v1h-2zM18 40h2v1h-2zM26 40h1v1h-1zM28 40h1v1h-1zM30 40h2v1h-2zM33 40h1v1h-1zM36 40h2v1h-2zM40 40h1v1h-1zM44 40h4v1h-4zM0 41h2v1h-2zM16 41h1v1h-1zM18 41h2v1h-2zM23 41h1v1h-1zM28 41h6v1h-6zM36 41h2v1h-2zM44 41h4v1h-4zM0 42h2v1h-2zM4 42h1v1h-1zM22 42h3v1h-3zM27 42h2v1h-2zM32 42h2v1h-2zM36 42h2v1h-2zM0 43h2v1h-2zM23 43h1v1h-1zM27 43h1v1h-1zM30 43h1v1h-1zM33 43h1v1h-1zM36 43h1v1h-1zM1 44h1v1h-1zM18 44h2v1h-2zM24 44h2v1h-2zM28 44h4v1h-4zM34 44h4v1h-4zM41 44h3v1h-3zM0 45h2v1h-2zM3 45h1v1h-1zM18 45h2v1h-2zM24 45h1v1h-1zM28 45h1v1h-1zM30 45h2v1h-2zM34 45h1v1h-1zM36 45h2v1h-2zM40 45h4v1h-4zM0 46h5v1h-5zM18 46h2v1h-2zM27 46h2v1h-2zM30 46h2v1h-2zM34 46h2v1h-2zM38 46h2v1h-2zM43 46h1v1h-1zM1 47h2v1h-2zM18 47h2v1h-2zM24 47h1v1h-1zM26 47h6v1h-6zM34 47h2v1h-2zM38 47h2v1h-2zM18 48h1v1h-1zM21 48h1v1h-1zM30 48h2v1h-2zM18 49h5v1h-5zM30 49h2v1h-2zM25 50h1v1h-1zM20 51h1v1h-1zM42 52h1v1h-1zM2 53h1v1h-1zM23 53h1v1h-1zM21 54h1v1h-1zM4 55h1v1h-1zM45 55h1v1h-1zM42 56h1v1h-1zM44 56h2v1h-2zM44 57h2v1h-2zM42 58h1v1h-1zM4 59h2v1h-2zM42 59h3v1h-3zM4 60h1v1h-1zM35 60h1v1h-1zM37 60h2v1h-2zM46 60h2v1h-2zM5 61h1v1h-1zM36 61h1v1h-1zM46 61h1v1h-1zM16 62h2v1h-2zM20 62h2v1h-2zM34 62h2v1h-2zM44 62h1v1h-1zM47 62h1v1h-1zM16 63h2v1h-2zM20 63h2v1h-2zM35 63h1v1h-1zM44 63h2v1h-2zM4 64h1v1h-1zM16 64h2v1h-2zM20 64h1v1h-1zM34 64h1v1h-1zM36 64h4v1h-4zM46 64h2v1h-2zM4 65h2v1h-2zM16 65h2v1h-2zM38 65h2v1h-2zM47 65h1v1h-1zM4 66h1v1h-1zM20 66h2v1h-2zM36 66h2v1h-2zM40 66h2v1h-2zM46 66h1v1h-1zM6 67h1v1h-1zM21 67h1v1h-1zM37 67h1v1h-1zM40 67h2v1h-2zM47 67h1v1h-1zM6 68h2v1h-2zM9 68h1v1h-1zM22 68h2v1h-2zM34 68h1v1h-1zM36 68h2v1h-2zM40 68h2v1h-2zM46 68h1v1h-1zM6 69h3v1h-3zM22 69h2v1h-2zM40 69h2v1h-2zM46 69h2v1h-2zM4 70h1v1h-1zM6 70h2v1h-2zM34 70h1v1h-1zM36 70h1v1h-1zM38 70h2v1h-2zM45 70h3v1h-3zM6 71h2v1h-2zM36 71h3v1h-3zM45 71h3v1h-3zM44 72h2v1h-2zM44 73h2v1h-2zM8 74h1v1h-1zM11 74h1v1h-1zM26 74h1v1h-1zM37 74h1v1h-1zM44 74h2v1h-2zM6 75h1v1h-1zM8 75h3v1h-3zM45 75h1v1h-1zM7 76h3v1h-3zM21 76h1v1h-1zM42 76h1v1h-1zM46 76h1v1h-1zM8 77h2v1h-2zM42 77h1v1h-1zM46 77h2v1h-2zM10 78h1v1h-1zM42 78h4v1h-4zM10 79h1v1h-1zM42 79h4v1h-4zM42 80h2v1h-2zM46 80h2v1h-2zM42 81h2v1h-2zM46 81h1v1h-1zM15 82h1v1h-1zM14 83h2v1h-2zM41 83h1v1h-1zM44 85h1v1h-1zM47 85h1v1h-1zM15 87h1v1h-1zM43 87h1v1h-1zM45 87h1v1h-1zM16 88h1v1h-1zM40 88h1v1h-1zM47 88h1v1h-1zM16 89h1v1h-1zM40 89h3v1h-3zM32 90h6v1h-6zM39 90h1v1h-1zM32 91h8v1h-8zM16 92h1v1h-1zM32 92h5v1h-5zM47 92h1v1h-1zM16 93h2v1h-2zM32 93h1v1h-1zM34 93h6v1h-6zM18 94h1v1h-1zM18 95h2v1h-2zM36 95h2v1h-2zM42 95h1v1h-1zM45 95h1v1h-1zM34 97h1v1h-1zM20 98h2v1h-2zM21 99h1v1h-1zM47 100h1v1h-1zM20 101h1v1h-1zM46 101h2v1h-2zM29 102h1v1h-1zM28 103h1v1h-1zM22 104h2v1h-2zM23 105h1v1h-1zM24 106h2v1h-2zM28 106h2v1h-2zM24 107h2v1h-2zM28 107h2v1h-2zM26 108h3v1h-3zM27 109h1v1h-1zM26 110h2v1h-2zM26 111h2v1h-2zM30 112h4v1h-4zM36 112h1v1h-1zM38 112h1v1h-1zM31 113h3v1h-3zM38 113h2v1h-2zM32 114h2v1h-2zM32 115h2v1h-2z"/>
<path fill="#e0dacb" d="M32 0h2v1h-2zM32 1h2v1h-2zM31 2h1v1h-1zM34 2h1v1h-1zM31 3h1v1h-1zM34 3h2v1h-2zM37 3h1v1h-1zM30 4h2v1h-2zM35 4h3v1h-3zM39 4h1v1h-1zM30 5h2v1h-2zM34 5h5v1h-5zM24 6h2v1h-2zM28 6h4v1h-4zM36 6h2v1h-2zM24 7h2v1h-2zM28 7h4v1h-4zM36 7h2v1h-2zM26 8h2v1h-2zM29 8h2v1h-2zM26 9h6v1h-6zM30 10h2v1h-2zM33 10h1v1h-1zM38 10h5v1h-5zM38 11h4v1h-4zM16 12h2v1h-2zM21 12h1v1h-1zM16 13h2v1h-2zM20 13h1v1h-1zM22 13h2v1h-2zM31 13h1v1h-1zM14 14h2v1h-2zM20 14h3v1h-3zM15 15h1v1h-1zM21 15h3v1h-3zM32 15h1v1h-1zM0 16h2v1h-2zM8 16h4v1h-4zM14 16h2v1h-2zM22 16h2v1h-2zM26 16h1v1h-1zM36 16h2v1h-2zM40 16h4v1h-4zM0 17h2v1h-2zM7 17h5v1h-5zM14 17h2v1h-2zM22 17h2v1h-2zM26 17h2v1h-2zM36 17h2v1h-2zM40 17h3v1h-3zM4 18h4v1h-4zM10 18h2v1h-2zM16 18h4v1h-4zM26 18h2v1h-2zM39 18h1v1h-1zM42 18h2v1h-2zM4 19h2v1h-2zM7 19h1v1h-1zM11 19h1v1h-1zM16 19h1v1h-1zM18 19h2v1h-2zM26 19h2v1h-2zM42 19h2v1h-2zM6 20h2v1h-2zM10 20h1v1h-1zM12 20h2v1h-2zM16 20h2v1h-2zM28 20h1v1h-1zM30 20h1v1h-1zM6 21h2v1h-2zM12 21h2v1h-2zM16 21h2v1h-2zM28 21h2v1h-2zM13 22h1v1h-1zM12 23h2v1h-2zM16 24h2v1h-2zM22 24h4v1h-4zM6 25h1v1h-1zM11 25h1v1h-1zM16 25h1v1h-1zM22 25h4v1h-4zM10 26h2v1h-2zM14 26h2v1h-2zM21 26h1v1h-1zM10 27h2v1h-2zM14 27h2v1h-2zM8 28h2v1h-2zM8 29h1v1h-1zM10 30h1v1h-1zM12 30h2v1h-2zM22 30h4v1h-4zM36 30h2v1h-2zM42 30h1v1h-1zM12 31h1v1h-1zM22 31h4v1h-4zM36 31h1v1h-1zM10 32h4v1h-4zM24 32h1v1h-1zM26 32h2v1h-2zM30 32h2v1h-2zM38 32h2v1h-2zM41 32h3v1h-3zM10 33h4v1h-4zM24 33h4v1h-4zM30 33h2v1h-2zM38 33h2v1h-2zM42 33h1v1h-1zM6 34h2v1h-2zM10 34h1v1h-1zM12 34h2v1h-2zM17 34h1v1h-1zM26 34h2v1h-2zM29 34h5v1h-5zM36 34h2v1h-2zM6 35h2v1h-2zM10 35h1v1h-1zM12 35h2v1h-2zM26 35h1v1h-1zM29 35h5v1h-5zM36 35h2v1h-2zM6 36h1v1h-1zM10 36h2v1h-2zM18 36h2v1h-2zM21 36h3v1h-3zM35 36h1v1h-1zM38 36h1v1h-1zM5 37h1v1h-1zM10 37h2v1h-2zM18 37h2v1h-2zM22 37h2v1h-2zM34 37h2v1h-2zM38 37h2v1h-2zM6 38h2v1h-2zM20 38h2v1h-2zM31 38h1v1h-1zM34 38h2v1h-2zM38 38h3v1h-3zM42 38h2v1h-2zM7 39h1v1h-1zM20 39h2v1h-2zM30 39h1v1h-1zM34 39h2v1h-2zM38 39h2v1h-2zM42 39h2v1h-2zM2 40h5v1h-5zM16 40h2v1h-2zM20 40h4v1h-4zM29 40h1v1h-1zM34 40h2v1h-2zM38 40h2v1h-2zM41 40h2v1h-2zM2 41h4v1h-4zM17 41h1v1h-1zM20 41h3v1h-3zM34 41h2v1h-2zM38 41h6v1h-6zM2 42h2v1h-2zM5 42h1v1h-1zM16 42h2v1h-2zM19 42h3v1h-3zM26 42h1v1h-1zM29 42h1v1h-1zM34 42h2v1h-2zM2 43h4v1h-4zM16 43h6v1h-6zM26 43h1v1h-1zM29 43h1v1h-1zM34 43h2v1h-2zM2 44h4v1h-4zM16 44h2v1h-2zM26 44h2v1h-2zM40 44h1v1h-1zM2 45h1v1h-1zM4 45h2v1h-2zM16 45h2v1h-2zM20 45h1v1h-1zM26 45h2v1h-2zM29 45h1v1h-1zM35 45h1v1h-1zM5 46h1v1h-1zM16 46h2v1h-2zM20 46h7v1h-7zM33 46h1v1h-1zM0 47h1v1h-1zM4 47h2v1h-2zM17 47h1v1h-1zM20 47h4v1h-4zM25 47h1v1h-1zM32 47h2v1h-2zM4 48h2v1h-2zM16 48h2v1h-2zM22 48h1v1h-1zM24 48h6v1h-6zM32 48h2v1h-2zM5 49h1v1h-1zM16 49h2v1h-2zM23 49h7v1h-7zM32 49h2v1h-2zM4 50h2v1h-2zM14 50h2v1h-2zM18 50h7v1h-7zM28 50h4v1h-4zM4 51h2v1h-2zM14 51h2v1h-2zM18 51h2v1h-2zM21 51h5v1h-5zM28 51h4v1h-4zM4 52h2v1h-2zM8 52h1v1h-1zM14 52h2v1h-2zM17 52h1v1h-1zM20 52h1v1h-1zM22 52h2v1h-2zM28 52h1v1h-1zM30 52h2v1h-2zM43 52h1v1h-1zM4 53h2v1h-2zM14 53h2v1h-2zM20 53h3v1h-3zM30 53h2v1h-2zM42 53h2v1h-2zM4 54h2v1h-2zM15 54h1v1h-1zM20 54h1v1h-1zM22 54h1v1h-1zM42 54h2v1h-2zM5 55h1v1h-1zM20 55h4v1h-4zM42 55h2v1h-2zM4 56h1v1h-1zM22 56h2v1h-2zM43 56h1v1h-1zM4 57h2v1h-2zM22 57h2v1h-2zM42 57h2v1h-2zM4 58h1v1h-1zM6 58h2v1h-2zM32 58h2v1h-2zM38 58h1v1h-1zM40 58h2v1h-2zM43 58h3v1h-3zM6 59h2v1h-2zM9 59h1v1h-1zM32 59h2v1h-2zM35 59h1v1h-1zM40 59h2v1h-2zM45 59h1v1h-1zM6 60h2v1h-2zM11 60h1v1h-1zM34 60h1v1h-1zM39 60h7v1h-7zM6 61h2v1h-2zM33 61h3v1h-3zM37 61h5v1h-5zM43 61h3v1h-3zM6 62h5v1h-5zM37 62h1v1h-1zM39 62h5v1h-5zM45 62h1v1h-1zM6 63h4v1h-4zM36 63h2v1h-2zM40 63h1v1h-1zM42 63h2v1h-2zM5 64h3v1h-3zM9 64h1v1h-1zM18 64h2v1h-2zM21 64h1v1h-1zM35 64h1v1h-1zM40 64h5v1h-5zM6 65h4v1h-4zM18 65h4v1h-4zM34 65h3v1h-3zM40 65h6v1h-6zM7 66h1v1h-1zM9 66h3v1h-3zM16 66h4v1h-4zM43 66h3v1h-3zM7 67h5v1h-5zM16 67h4v1h-4zM36 67h1v1h-1zM42 67h1v1h-1zM44 67h2v1h-2zM8 68h1v1h-1zM10 68h2v1h-2zM18 68h4v1h-4zM35 68h1v1h-1zM44 68h2v1h-2zM9 69h1v1h-1zM11 69h1v1h-1zM18 69h4v1h-4zM34 69h4v1h-4zM44 69h2v1h-2zM8 70h1v1h-1zM10 70h2v1h-2zM35 70h1v1h-1zM37 70h1v1h-1zM40 70h4v1h-4zM8 71h4v1h-4zM34 71h2v1h-2zM40 71h5v1h-5zM8 72h2v1h-2zM24 72h2v1h-2zM36 72h4v1h-4zM8 73h2v1h-2zM20 73h1v1h-1zM24 73h2v1h-2zM36 73h4v1h-4zM10 74h1v1h-1zM25 74h1v1h-1zM27 74h1v1h-1zM36 74h1v1h-1zM38 74h2v1h-2zM11 75h1v1h-1zM26 75h2v1h-2zM31 75h1v1h-1zM36 75h4v1h-4zM44 75h1v1h-1zM10 76h1v1h-1zM12 76h2v1h-2zM15 76h1v1h-1zM20 76h1v1h-1zM22 76h2v1h-2zM33 76h1v1h-1zM36 76h4v1h-4zM10 77h1v1h-1zM12 77h4v1h-4zM20 77h4v1h-4zM32 77h1v1h-1zM36 77h1v1h-1zM38 77h1v1h-1zM12 78h2v1h-2zM15 78h1v1h-1zM34 78h1v1h-1zM36 78h4v1h-4zM46 78h2v1h-2zM11 79h5v1h-5zM35 79h4v1h-4zM46 79h2v1h-2zM14 80h1v1h-1zM38 80h4v1h-4zM44 80h2v1h-2zM14 81h2v1h-2zM38 81h4v1h-4zM44 81h2v1h-2zM14 82h1v1h-1zM38 82h6v1h-6zM46 82h2v1h-2zM22 83h2v1h-2zM38 83h3v1h-3zM42 83h2v1h-2zM46 83h2v1h-2zM16 84h2v1h-2zM40 84h8v1h-8zM16 85h2v1h-2zM19 85h1v1h-1zM40 85h4v1h-4zM45 85h2v1h-2zM16 86h2v1h-2zM36 86h1v1h-1zM40 86h8v1h-8zM16 87h2v1h-2zM40 87h3v1h-3zM44 87h1v1h-1zM46 87h2v1h-2zM17 88h1v1h-1zM38 88h2v1h-2zM42 88h5v1h-5zM17 89h1v1h-1zM38 89h2v1h-2zM43 89h5v1h-5zM16 90h2v1h-2zM27 90h1v1h-1zM38 90h1v1h-1zM40 90h8v1h-8zM16 91h2v1h-2zM19 91h1v1h-1zM40 91h2v1h-2zM44 91h2v1h-2zM17 92h2v1h-2zM25 92h1v1h-1zM38 92h9v1h-9zM18 93h3v1h-3zM33 93h1v1h-1zM40 93h2v1h-2zM44 93h4v1h-4zM20 94h2v1h-2zM36 94h4v1h-4zM42 94h4v1h-4zM20 95h2v1h-2zM35 95h1v1h-1zM39 95h1v1h-1zM43 95h2v1h-2zM18 96h3v1h-3zM34 96h2v1h-2zM18 97h4v1h-4zM35 97h1v1h-1zM34 98h2v1h-2zM47 98h1v1h-1zM20 99h1v1h-1zM34 99h2v1h-2zM34 100h2v1h-2zM46 100h1v1h-1zM34 101h2v1h-2zM28 102h1v1h-1zM22 103h1v1h-1zM29 103h1v1h-1zM24 104h2v1h-2zM30 104h2v1h-2zM43 104h1v1h-1zM24 105h2v1h-2zM30 105h2v1h-2zM42 105h2v1h-2zM26 106h1v1h-1zM38 106h1v1h-1zM41 106h1v1h-1zM26 107h2v1h-2zM40 107h2v1h-2zM29 108h7v1h-7zM38 108h2v1h-2zM42 108h2v1h-2zM28 109h4v1h-4zM33 109h3v1h-3zM38 109h2v1h-2zM41 109h3v1h-3zM30 110h2v1h-2zM33 110h1v1h-1zM36 110h1v1h-1zM40 110h2v1h-2zM30 111h4v1h-4zM36 111h2v1h-2zM40 111h2v1h-2zM34 112h2v1h-2zM37 112h1v1h-1zM34 113h4v1h-4z"/>
<path fill="#f6dc98" d="M32 2h2v1h-2zM35 2h1v1h-1zM32 3h2v1h-2zM34 4h1v1h-1zM38 6h2v1h-2zM38 7h2v1h-2zM22 8h2v1h-2zM28 8h1v1h-1zM23 9h1v1h-1zM24 10h1v1h-1zM24 11h2v1h-2zM31 11h1v1h-1zM42 11h1v1h-1zM18 12h2v1h-2zM22 12h2v1h-2zM18 13h2v1h-2zM16 14h2v1h-2zM14 15h1v1h-1zM16 15h2v1h-2zM20 15h1v1h-1zM6 16h2v1h-2zM12 16h2v1h-2zM24 16h2v1h-2zM27 16h1v1h-1zM6 17h1v1h-1zM12 17h1v1h-1zM24 17h2v1h-2zM12 18h4v1h-4zM20 18h6v1h-6zM30 18h2v1h-2zM10 19h1v1h-1zM12 19h4v1h-4zM17 19h1v1h-1zM20 19h2v1h-2zM23 19h3v1h-3zM30 19h2v1h-2zM11 20h1v1h-1zM14 20h2v1h-2zM22 20h4v1h-4zM10 21h2v1h-2zM14 21h2v1h-2zM22 21h4v1h-4zM9 22h3v1h-3zM16 22h2v1h-2zM22 22h2v1h-2zM8 23h3v1h-3zM16 23h2v1h-2zM22 23h2v1h-2zM10 24h4v1h-4zM20 24h2v1h-2zM12 25h2v1h-2zM17 25h1v1h-1zM20 25h2v1h-2zM12 26h1v1h-1zM12 27h1v1h-1zM10 28h2v1h-2zM10 29h2v1h-2zM11 30h1v1h-1zM10 31h2v1h-2zM13 31h1v1h-1zM37 31h1v1h-1zM22 32h2v1h-2zM28 32h2v1h-2zM32 32h2v1h-2zM35 32h3v1h-3zM46 32h2v1h-2zM23 33h1v1h-1zM28 33h1v1h-1zM32 33h2v1h-2zM37 33h1v1h-1zM46 33h1v1h-1zM11 34h1v1h-1zM28 34h1v1h-1zM11 35h1v1h-1zM27 35h2v1h-2zM4 36h2v1h-2zM20 36h1v1h-1zM46 36h2v1h-2zM4 37h1v1h-1zM20 37h2v1h-2zM46 37h2v1h-2zM12 38h2v1h-2zM44 38h2v1h-2zM12 39h2v1h-2zM45 39h1v1h-1zM7 40h3v1h-3zM11 40h1v1h-1zM14 40h2v1h-2zM43 40h1v1h-1zM6 41h4v1h-4zM14 41h2v1h-2zM18 42h1v1h-1zM20 44h2v1h-2zM38 44h1v1h-1zM21 45h1v1h-1zM23 45h1v1h-1zM39 45h1v1h-1zM32 46h1v1h-1zM16 47h1v1h-1zM6 48h2v1h-2zM23 48h1v1h-1zM4 49h1v1h-1zM7 49h1v1h-1zM6 50h2v1h-2zM16 50h2v1h-2zM26 50h2v1h-2zM32 50h2v1h-2zM40 50h2v1h-2zM6 51h3v1h-3zM12 51h1v1h-1zM17 51h1v1h-1zM26 51h2v1h-2zM32 51h2v1h-2zM40 51h2v1h-2zM7 52h1v1h-1zM9 52h1v1h-1zM16 52h1v1h-1zM18 52h2v1h-2zM21 52h1v1h-1zM24 52h2v1h-2zM29 52h1v1h-1zM6 53h4v1h-4zM16 53h2v1h-2zM19 53h1v1h-1zM24 53h2v1h-2zM28 53h2v1h-2zM6 54h2v1h-2zM14 54h1v1h-1zM18 54h2v1h-2zM23 54h1v1h-1zM30 54h2v1h-2zM6 55h2v1h-2zM14 55h2v1h-2zM18 55h2v1h-2zM25 55h1v1h-1zM29 55h3v1h-3zM5 56h5v1h-5zM12 56h1v1h-1zM20 56h2v1h-2zM30 56h1v1h-1zM32 56h2v1h-2zM6 57h4v1h-4zM20 57h2v1h-2zM30 57h4v1h-4zM8 58h2v1h-2zM18 58h2v1h-2zM22 58h2v1h-2zM30 58h2v1h-2zM34 58h2v1h-2zM39 58h1v1h-1zM8 59h1v1h-1zM19 59h1v1h-1zM21 59h3v1h-3zM30 59h2v1h-2zM34 59h1v1h-1zM38 59h2v1h-2zM8 60h3v1h-3zM16 60h1v1h-1zM30 60h4v1h-4zM8 61h4v1h-4zM30 61h3v1h-3zM42 61h1v1h-1zM24 62h2v1h-2zM32 62h2v1h-2zM36 62h1v1h-1zM10 63h2v1h-2zM24 63h2v1h-2zM32 63h2v1h-2zM38 63h2v1h-2zM41 63h1v1h-1zM8 64h1v1h-1zM45 64h1v1h-1zM2 66h2v1h-2zM6 66h1v1h-1zM8 66h1v1h-1zM12 66h3v1h-3zM22 66h2v1h-2zM34 66h2v1h-2zM42 66h1v1h-1zM3 67h1v1h-1zM12 67h4v1h-4zM22 67h1v1h-1zM27 67h1v1h-1zM34 67h2v1h-2zM43 67h1v1h-1zM24 68h4v1h-4zM32 68h2v1h-2zM42 68h2v1h-2zM10 69h1v1h-1zM24 69h5v1h-5zM33 69h1v1h-1zM42 69h2v1h-2zM9 70h1v1h-1zM18 70h2v1h-2zM21 70h7v1h-7zM30 70h2v1h-2zM18 71h2v1h-2zM22 71h4v1h-4zM27 71h1v1h-1zM30 71h2v1h-2zM10 72h2v1h-2zM18 72h4v1h-4zM26 72h4v1h-4zM31 72h1v1h-1zM34 72h2v1h-2zM10 73h2v1h-2zM18 73h2v1h-2zM21 73h1v1h-1zM26 73h4v1h-4zM32 73h4v1h-4zM17 74h1v1h-1zM22 74h3v1h-3zM28 74h6v1h-6zM22 75h4v1h-4zM28 75h3v1h-3zM32 75h2v1h-2zM11 76h1v1h-1zM14 76h1v1h-1zM16 76h3v1h-3zM24 76h2v1h-2zM28 76h5v1h-5zM11 77h1v1h-1zM16 77h3v1h-3zM24 77h2v1h-2zM28 77h4v1h-4zM33 77h1v1h-1zM37 77h1v1h-1zM39 77h1v1h-1zM14 78h1v1h-1zM22 78h4v1h-4zM35 78h1v1h-1zM22 79h3v1h-3zM34 79h1v1h-1zM39 79h1v1h-1zM15 80h1v1h-1zM37 81h1v1h-1zM22 82h2v1h-2zM44 82h2v1h-2zM44 83h1v1h-1zM18 84h2v1h-2zM22 84h2v1h-2zM38 84h2v1h-2zM18 85h1v1h-1zM22 85h2v1h-2zM38 85h2v1h-2zM18 86h2v1h-2zM37 86h1v1h-1zM18 87h2v1h-2zM36 87h2v1h-2zM19 88h1v1h-1zM32 88h1v1h-1zM35 88h1v1h-1zM24 89h1v1h-1zM34 89h2v1h-2zM18 90h4v1h-4zM24 90h3v1h-3zM18 91h1v1h-1zM20 91h2v1h-2zM24 91h1v1h-1zM26 91h2v1h-2zM42 91h2v1h-2zM46 91h2v1h-2zM19 92h3v1h-3zM24 92h1v1h-1zM26 92h2v1h-2zM21 93h1v1h-1zM24 93h3v1h-3zM42 93h2v1h-2zM24 94h2v1h-2zM28 94h2v1h-2zM32 94h4v1h-4zM40 94h2v1h-2zM46 94h2v1h-2zM24 95h2v1h-2zM28 95h1v1h-1zM32 95h1v1h-1zM34 95h1v1h-1zM38 95h1v1h-1zM40 95h2v1h-2zM46 95h2v1h-2zM16 96h2v1h-2zM21 96h1v1h-1zM26 96h2v1h-2zM32 96h2v1h-2zM38 96h2v1h-2zM46 96h1v1h-1zM16 97h1v1h-1zM26 97h2v1h-2zM32 97h2v1h-2zM38 97h2v1h-2zM32 98h2v1h-2zM36 98h2v1h-2zM44 98h1v1h-1zM46 98h1v1h-1zM32 99h2v1h-2zM37 99h1v1h-1zM44 99h1v1h-1zM46 99h2v1h-2zM28 100h2v1h-2zM28 101h2v1h-2zM22 102h6v1h-6zM34 102h2v1h-2zM23 103h5v1h-5zM34 103h2v1h-2zM26 104h4v1h-4zM40 104h3v1h-3zM26 105h4v1h-4zM40 105h2v1h-2zM27 106h1v1h-1zM30 106h2v1h-2zM36 106h1v1h-1zM39 106h2v1h-2zM43 106h1v1h-1zM30 107h1v1h-1zM38 107h2v1h-2zM36 108h2v1h-2zM40 108h2v1h-2zM32 109h1v1h-1zM36 109h2v1h-2zM40 109h1v1h-1zM32 110h1v1h-1zM34 110h2v1h-2zM37 110h3v1h-3zM35 111h1v1h-1zM38 111h2v1h-2z"/>
<path fill="#f6bc5a" d="M24 8h2v1h-2zM22 9h1v1h-1zM24 9h2v1h-2zM22 10h2v1h-2zM25 10h1v1h-1zM22 11h2v1h-2zM18 14h2v1h-2zM18 15h2v1h-2zM13 17h1v1h-1zM22 19h1v1h-1zM8 22h1v1h-1zM18 22h2v1h-2zM11 23h1v1h-1zM18 23h2v1h-2zM14 24h2v1h-2zM14 25h2v1h-2zM13 26h1v1h-1zM13 27h1v1h-1zM12 28h2v1h-2zM24 28h2v1h-2zM12 29h2v1h-2zM24 29h2v1h-2zM18 32h2v1h-2zM34 32h1v1h-1zM18 33h2v1h-2zM22 33h1v1h-1zM29 33h1v1h-1zM34 33h3v1h-3zM47 33h1v1h-1zM4 34h2v1h-2zM22 34h2v1h-2zM34 34h2v1h-2zM46 34h2v1h-2zM4 35h2v1h-2zM22 35h2v1h-2zM34 35h2v1h-2zM46 35h2v1h-2zM44 39h1v1h-1zM10 40h1v1h-1zM10 41h2v1h-2zM8 42h2v1h-2zM14 42h2v1h-2zM38 42h2v1h-2zM8 43h2v1h-2zM14 43h2v1h-2zM38 43h2v1h-2zM22 44h2v1h-2zM39 44h1v1h-1zM22 45h1v1h-1zM38 45h1v1h-1zM14 48h2v1h-2zM6 49h1v1h-1zM14 49h2v1h-2zM8 50h2v1h-2zM12 50h2v1h-2zM34 50h2v1h-2zM38 50h2v1h-2zM9 51h1v1h-1zM13 51h1v1h-1zM16 51h1v1h-1zM34 51h2v1h-2zM38 51h2v1h-2zM6 52h1v1h-1zM26 52h2v1h-2zM32 52h2v1h-2zM40 52h2v1h-2zM18 53h1v1h-1zM26 53h2v1h-2zM32 53h2v1h-2zM40 53h2v1h-2zM8 54h2v1h-2zM12 54h2v1h-2zM16 54h2v1h-2zM24 54h2v1h-2zM28 54h2v1h-2zM32 54h2v1h-2zM36 54h2v1h-2zM40 54h2v1h-2zM8 55h2v1h-2zM12 55h2v1h-2zM16 55h2v1h-2zM24 55h1v1h-1zM28 55h1v1h-1zM32 55h2v1h-2zM36 55h2v1h-2zM40 55h2v1h-2zM10 56h2v1h-2zM13 56h1v1h-1zM31 56h1v1h-1zM10 57h4v1h-4zM10 58h2v1h-2zM20 58h2v1h-2zM28 58h2v1h-2zM36 58h2v1h-2zM10 59h2v1h-2zM18 59h1v1h-1zM20 59h1v1h-1zM28 59h2v1h-2zM36 59h2v1h-2zM17 60h1v1h-1zM22 60h2v1h-2zM16 61h2v1h-2zM22 61h2v1h-2zM11 62h1v1h-1zM26 62h2v1h-2zM38 62h1v1h-1zM26 63h2v1h-2zM10 64h2v1h-2zM22 64h6v1h-6zM32 64h2v1h-2zM10 65h2v1h-2zM22 65h6v1h-6zM32 65h2v1h-2zM15 66h1v1h-1zM24 66h4v1h-4zM30 66h2v1h-2zM2 67h1v1h-1zM23 67h4v1h-4zM30 67h2v1h-2zM12 68h2v1h-2zM28 68h4v1h-4zM12 69h2v1h-2zM29 69h4v1h-4zM12 70h2v1h-2zM16 70h2v1h-2zM20 70h1v1h-1zM32 70h2v1h-2zM12 71h2v1h-2zM16 71h2v1h-2zM20 71h2v1h-2zM26 71h1v1h-1zM32 71h2v1h-2zM16 72h2v1h-2zM22 72h2v1h-2zM30 72h1v1h-1zM32 72h2v1h-2zM16 73h2v1h-2zM22 73h2v1h-2zM30 73h2v1h-2zM12 74h2v1h-2zM16 74h1v1h-1zM18 74h2v1h-2zM12 75h2v1h-2zM16 75h4v1h-4zM19 76h1v1h-1zM26 76h2v1h-2zM34 76h2v1h-2zM19 77h1v1h-1zM26 77h2v1h-2zM34 77h2v1h-2zM26 78h2v1h-2zM32 78h2v1h-2zM40 78h2v1h-2zM25 79h3v1h-3zM32 79h2v1h-2zM40 79h2v1h-2zM22 80h4v1h-4zM36 80h2v1h-2zM22 81h4v1h-4zM36 81h1v1h-1zM16 82h2v1h-2zM20 82h2v1h-2zM36 82h2v1h-2zM16 83h2v1h-2zM20 83h2v1h-2zM36 83h2v1h-2zM45 83h1v1h-1zM20 84h2v1h-2zM36 84h2v1h-2zM20 85h2v1h-2zM36 85h2v1h-2zM18 88h1v1h-1zM22 88h4v1h-4zM33 88h2v1h-2zM36 88h2v1h-2zM18 89h2v1h-2zM22 89h2v1h-2zM25 89h1v1h-1zM32 89h2v1h-2zM36 89h2v1h-2zM22 90h2v1h-2zM30 90h2v1h-2zM22 91h2v1h-2zM25 91h1v1h-1zM30 91h2v1h-2zM22 92h2v1h-2zM30 92h2v1h-2zM22 93h2v1h-2zM27 93h1v1h-1zM30 93h2v1h-2zM16 94h2v1h-2zM16 95h2v1h-2zM29 95h1v1h-1zM33 95h1v1h-1zM28 96h2v1h-2zM36 96h2v1h-2zM47 96h1v1h-1zM17 97h1v1h-1zM28 97h2v1h-2zM36 97h2v1h-2zM46 97h2v1h-2zM22 98h2v1h-2zM26 98h2v1h-2zM45 98h1v1h-1zM22 99h2v1h-2zM26 99h2v1h-2zM36 99h1v1h-1zM45 99h1v1h-1zM26 100h2v1h-2zM36 100h2v1h-2zM42 100h2v1h-2zM26 101h2v1h-2zM36 101h2v1h-2zM42 101h2v1h-2zM42 102h2v1h-2zM42 103h2v1h-2zM37 106h1v1h-1zM42 106h1v1h-1zM31 107h1v1h-1zM36 107h2v1h-2zM42 107h2v1h-2zM34 111h1v1h-1z"/>
<path fill="#dc8232" d="M18 20h4v1h-4zM18 21h4v1h-4zM20 22h2v1h-2zM20 23h2v1h-2zM20 32h2v1h-2zM20 33h2v1h-2zM18 34h2v1h-2zM18 35h2v1h-2zM6 42h2v1h-2zM6 43h2v1h-2zM6 44h2v1h-2zM14 44h2v1h-2zM6 45h2v1h-2zM14 45h2v1h-2zM14 46h2v1h-2zM14 47h2v1h-2zM10 48h2v1h-2zM10 49h2v1h-2zM10 50h2v1h-2zM36 50h2v1h-2zM10 51h2v1h-2zM36 51h2v1h-2zM34 52h2v1h-2zM38 52h2v1h-2zM34 53h2v1h-2zM38 53h2v1h-2zM10 54h2v1h-2zM26 54h2v1h-2zM34 54h2v1h-2zM38 54h2v1h-2zM10 55h2v1h-2zM26 55h2v1h-2zM34 55h2v1h-2zM38 55h2v1h-2zM16 56h4v1h-4zM28 56h2v1h-2zM34 56h2v1h-2zM40 56h2v1h-2zM16 57h4v1h-4zM28 57h2v1h-2zM34 57h2v1h-2zM40 57h2v1h-2zM16 58h2v1h-2zM16 59h2v1h-2zM24 60h2v1h-2zM28 60h2v1h-2zM24 61h2v1h-2zM28 61h2v1h-2zM22 62h2v1h-2zM30 62h2v1h-2zM22 63h2v1h-2zM30 63h2v1h-2zM14 64h2v1h-2zM28 64h2v1h-2zM14 65h2v1h-2zM28 65h2v1h-2zM28 66h2v1h-2zM32 66h2v1h-2zM28 67h2v1h-2zM32 67h2v1h-2zM14 68h2v1h-2zM14 69h2v1h-2zM14 70h2v1h-2zM28 70h2v1h-2zM14 71h2v1h-2zM28 71h2v1h-2zM12 72h2v1h-2zM42 72h2v1h-2zM12 73h2v1h-2zM42 73h2v1h-2zM20 74h2v1h-2zM34 74h2v1h-2zM42 74h2v1h-2zM20 75h2v1h-2zM34 75h2v1h-2zM42 75h2v1h-2zM16 78h2v1h-2zM20 78h2v1h-2zM28 78h4v1h-4zM16 79h2v1h-2zM20 79h2v1h-2zM28 79h4v1h-4zM12 80h2v1h-2zM16 80h2v1h-2zM20 80h2v1h-2zM34 80h2v1h-2zM12 81h2v1h-2zM16 81h2v1h-2zM20 81h2v1h-2zM34 81h2v1h-2zM12 82h2v1h-2zM18 82h2v1h-2zM12 83h2v1h-2zM18 83h2v1h-2zM24 84h2v1h-2zM32 84h4v1h-4zM24 85h2v1h-2zM32 85h4v1h-4zM20 86h6v1h-6zM32 86h4v1h-4zM38 86h2v1h-2zM20 87h6v1h-6zM32 87h4v1h-4zM38 87h2v1h-2zM20 88h2v1h-2zM26 88h6v1h-6zM20 89h2v1h-2zM26 89h6v1h-6zM28 90h2v1h-2zM28 91h2v1h-2zM26 94h2v1h-2zM30 94h2v1h-2zM26 95h2v1h-2zM30 95h2v1h-2zM22 96h2v1h-2zM40 96h2v1h-2zM44 96h2v1h-2zM22 97h2v1h-2zM40 97h2v1h-2zM44 97h2v1h-2zM38 98h2v1h-2zM38 99h2v1h-2zM24 100h2v1h-2zM32 100h2v1h-2zM38 100h2v1h-2zM24 101h2v1h-2zM32 101h2v1h-2zM38 101h2v1h-2zM30 102h2v1h-2zM30 103h2v1h-2zM32 104h2v1h-2zM38 104h2v1h-2zM32 105h2v1h-2zM38 105h2v1h-2zM34 106h2v1h-2zM34 107h2v1h-2z"/>
<path fill="#8a2624" d="M20 34h2v1h-2zM20 35h2v1h-2zM12 40h2v1h-2zM12 41h2v1h-2zM10 42h4v1h-4zM10 43h4v1h-4zM8 44h6v1h-6zM8 45h6v1h-6zM6 46h8v1h-8zM6 47h8v1h-8zM8 48h2v1h-2zM12 48h2v1h-2zM8 49h2v1h-2zM12 49h2v1h-2zM10 52h4v1h-4zM36 52h2v1h-2zM10 53h4v1h-4zM36 53h2v1h-2zM14 56h2v1h-2zM24 56h4v1h-4zM36 56h4v1h-4zM14 57h2v1h-2zM24 57h4v1h-4zM36 57h4v1h-4zM12 58h4v1h-4zM24 58h4v1h-4zM12 59h4v1h-4zM24 59h4v1h-4zM12 60h4v1h-4zM18 60h4v1h-4zM26 60h2v1h-2zM12 61h4v1h-4zM18 61h4v1h-4zM26 61h2v1h-2zM12 62h4v1h-4zM28 62h2v1h-2zM12 63h4v1h-4zM28 63h2v1h-2zM12 64h2v1h-2zM30 64h2v1h-2zM12 65h2v1h-2zM30 65h2v1h-2zM16 68h2v1h-2zM16 69h2v1h-2zM14 72h2v1h-2zM40 72h2v1h-2zM14 73h2v1h-2zM40 73h2v1h-2zM14 74h2v1h-2zM40 74h2v1h-2zM14 75h2v1h-2zM40 75h2v1h-2zM18 78h2v1h-2zM18 79h2v1h-2zM18 80h2v1h-2zM26 80h8v1h-8zM18 81h2v1h-2zM26 81h8v1h-8zM24 82h12v1h-12zM24 83h12v1h-12zM26 84h6v1h-6zM26 85h6v1h-6zM26 86h6v1h-6zM26 87h6v1h-6zM28 92h2v1h-2zM28 93h2v1h-2zM22 94h2v1h-2zM22 95h2v1h-2zM24 96h2v1h-2zM30 96h2v1h-2zM42 96h2v1h-2zM24 97h2v1h-2zM30 97h2v1h-2zM42 97h2v1h-2zM24 98h2v1h-2zM28 98h4v1h-4zM40 98h4v1h-4zM24 99h2v1h-2zM28 99h4v1h-4zM40 99h4v1h-4zM22 100h2v1h-2zM30 100h2v1h-2zM40 100h2v1h-2zM22 101h2v1h-2zM30 101h2v1h-2zM40 101h2v1h-2zM32 102h2v1h-2zM36 102h6v1h-6zM32 103h2v1h-2zM36 103h6v1h-6zM34 104h4v1h-4zM34 105h4v1h-4zM32 106h2v1h-2zM32 107h2v1h-2z"/>
</g>
<polygon points="840.0,22.4 843.5,26.3 849.2,33.3 856.1,40.2 860.4,45.8 862.5,52.8 863.2,59.9 863.9,66.9 866.0,73.8 870.2,83.6 874.4,92.1 879.4,99.4 887.7,114.9 895.8,133.6 904.3,152.2 911.4,167.3 914.9,176.3 918.9,191.0 923.1,208.2 927.7,229.9 932.4,251.6 935.5,270.3 936.5,280.6 935.2,293.1 932.1,305.5 931.4,317.9 934.5,330.4 935.8,342.7 935.5,361.4 935.7,374.1 933.3,389.0 929.1,395.8 925.0,404.0 925.8,412.3 929.1,425.7 933.3,439.0 940.0,450.6 944.7,451.3 950.2,450.8 955.9,455.1 957.4,461.7 956.9,469.1 954.1,478.4 949.3,489.6 943.7,500.9 937.2,512.0 929.7,523.2 922.2,538.2 915.6,549.4 907.2,550.8 897.8,552.7 892.2,551.2 892.8,547.5 892.2,543.4 881.0,534.5 869.7,523.2 858.4,512.0 849.1,500.9 841.6,489.6 836.0,478.4 834.2,469.1 833.2,459.8 830.4,450.4 827.3,445.1 823.9,434.0 817.3,420.6 807.2,405.7 797.1,390.7 787.2,375.8 780.5,365.8 773.0,356.6 766.3,345.8 765.1,338.8 764.1,323.7 765.3,311.7 768.2,291.4 769.4,271.2 766.9,255.0 762.1,234.9 756.0,218.6 749.9,206.5 748.7,199.8 748.2,193.3 747.1,186.7 747.6,181.3 749.3,178.6 754.3,177.5 757.0,176.4 755.3,172.6 753.2,168.3 750.9,165.0 749.3,161.2 749.8,158.5 753.2,156.2 753.7,153.5 752.1,152.4 747.6,151.3 744.6,148.1 744.2,143.2 744.4,135.6 746.0,130.2 746.3,122.1 747.8,112.1 749.4,101.9 750.1,92.1 750.1,83.6 751.5,76.6 755.0,69.6 759.2,65.5 764.8,61.3 774.7,54.9 783.2,48.6 790.1,43.0 794.3,38.8 799.3,34.7 802.8,32.6 807.7,31.4 815.5,32.3 821.1,31.9 829.5,30.2 835.1,26.3" fill="none" stroke="#000" stroke-width="1.6" stroke-linejoin="round"/>
<path d="M743.5 75.0H747.8M744.3 71.2V78.8" stroke="#444" stroke-opacity="0.75" stroke-width="0.9" fill="none"/>
<path d="M743.5 175.1H747.8M744.3 171.2V178.9" stroke="#444" stroke-opacity="0.75" stroke-width="0.9" fill="none"/>
<path d="M743.5 275.1H747.8M744.3 271.3V278.9" stroke="#444" stroke-opacity="0.75" stroke-width="0.9" fill="none"/>
<path d="M743.5 375.1H747.8M744.3 371.3V378.9" stroke="#444" stroke-opacity="0.75" stroke-width="0.9" fill="none"/>
<path d="M743.5 475.2H747.8M744.3 471.4V479.0" stroke="#444" stroke-opacity="0.75" stroke-width="0.9" fill="none"/>
<path d="M841.1 75.0H848.1M844.6 71.2V78.8" stroke="#444" stroke-opacity="0.75" stroke-width="0.9" fill="none"/>
<path d="M841.1 175.1H848.1M844.6 171.2V178.9" stroke="#444" stroke-opacity="0.75" stroke-width="0.9" fill="none"/>
<path d="M841.1 275.1H848.1M844.6 271.3V278.9" stroke="#444" stroke-opacity="0.75" stroke-width="0.9" fill="none"/>
<path d="M841.1 375.1H848.1M844.6 371.3V378.9" stroke="#444" stroke-opacity="0.75" stroke-width="0.9" fill="none"/>
<path d="M841.1 475.2H848.1M844.6 471.4V479.0" stroke="#444" stroke-opacity="0.75" stroke-width="0.9" fill="none"/>
<path d="M941.1 75.0H948.1M944.6 71.2V78.8" stroke="#444" stroke-opacity="0.75" stroke-width="0.9" fill="none"/>
<path d="M941.1 175.1H948.1M944.6 171.2V178.9" stroke="#444" stroke-opacity="0.75" stroke-width="0.9" fill="none"/>
<path d="M941.1 275.1H948.1M944.6 271.3V278.9" stroke="#444" stroke-opacity="0.75" stroke-width="0.9" fill="none"/>
<path d="M941.1 375.1H948.1M944.6 371.3V378.9" stroke="#444" stroke-opacity="0.75" stroke-width="0.9" fill="none"/>
<path d="M941.1 475.2H948.1M944.6 471.4V479.0" stroke="#444" stroke-opacity="0.75" stroke-width="0.9" fill="none"/>
<line x1="744.3" y1="13.899999999999999" x2="744.3" y2="18.4" stroke="#000" stroke-width="1.2"/>
<line x1="744.3" y1="558.9" x2="744.3" y2="563.4" stroke="#000" stroke-width="1.2"/>
<rect x="755.5" y="1.8" width="11.7" height="3" fill="#ededed"/>
<rect x="755.5" y="563.5" width="11.7" height="3" fill="#ededed"/>
<text x="720.3" y="11.8" textLength="34" lengthAdjust="spacingAndGlyphs" class="b">638000</text>
<text x="720.3" y="573.7" textLength="34" lengthAdjust="spacingAndGlyphs" class="b">638000</text>
<line x1="844.6" y1="13.899999999999999" x2="844.6" y2="18.4" stroke="#000" stroke-width="1.2"/>
<line x1="844.6" y1="558.9" x2="844.6" y2="563.4" stroke="#000" stroke-width="1.2"/>
<rect x="855.8" y="1.8" width="11.7" height="3" fill="#ededed"/>
<rect x="855.8" y="563.5" width="11.7" height="3" fill="#ededed"/>
<text x="820.6" y="11.8" textLength="34" lengthAdjust="spacingAndGlyphs" class="b">640000</text>
<text x="820.6" y="573.7" textLength="34" lengthAdjust="spacingAndGlyphs" class="b">640000</text>
<line x1="944.6" y1="13.899999999999999" x2="944.6" y2="18.4" stroke="#000" stroke-width="1.2"/>
<line x1="944.6" y1="558.9" x2="944.6" y2="563.4" stroke="#000" stroke-width="1.2"/>
<rect x="955.8" y="1.8" width="11.7" height="3" fill="#ededed"/>
<rect x="955.8" y="563.5" width="11.7" height="3" fill="#ededed"/>
<text x="920.6" y="11.8" textLength="34" lengthAdjust="spacingAndGlyphs" class="b">642000</text>
<text x="920.6" y="573.7" textLength="34" lengthAdjust="spacingAndGlyphs" class="b">642000</text>
<line x1="730.5" y1="75.0" x2="734.5" y2="75.0" stroke="#000" stroke-width="1.2"/>
<line x1="967.4" y1="75.0" x2="971.4" y2="75.0" stroke="#000" stroke-width="1.2"/>
<rect x="719.1" y="49.3" width="1.9" height="10.6" fill="#ededed"/>
<rect x="972.4" y="49.3" width="1.9" height="10.6" fill="#ededed"/>
<text transform="translate(728.1 101.0) rotate(-90)" textLength="40" lengthAdjust="spacingAndGlyphs" class="b" style="font-size:12.6px">4380000</text>
<text transform="translate(981.9 101.0) rotate(-90)" textLength="40" lengthAdjust="spacingAndGlyphs" class="b">4380000</text>
<line x1="730.5" y1="175.1" x2="734.5" y2="175.1" stroke="#000" stroke-width="1.2"/>
<line x1="967.4" y1="175.1" x2="971.4" y2="175.1" stroke="#000" stroke-width="1.2"/>
<rect x="719.1" y="149.4" width="1.9" height="10.6" fill="#ededed"/>
<rect x="972.4" y="149.4" width="1.9" height="10.6" fill="#ededed"/>
<text transform="translate(728.1 201.1) rotate(-90)" textLength="40" lengthAdjust="spacingAndGlyphs" class="b" style="font-size:12.6px">4378000</text>
<text transform="translate(981.9 201.1) rotate(-90)" textLength="40" lengthAdjust="spacingAndGlyphs" class="b">4378000</text>
<line x1="730.5" y1="275.1" x2="734.5" y2="275.1" stroke="#000" stroke-width="1.2"/>
<line x1="967.4" y1="275.1" x2="971.4" y2="275.1" stroke="#000" stroke-width="1.2"/>
<rect x="719.1" y="249.4" width="1.9" height="10.6" fill="#ededed"/>
<rect x="972.4" y="249.4" width="1.9" height="10.6" fill="#ededed"/>
<text transform="translate(728.1 301.1) rotate(-90)" textLength="40" lengthAdjust="spacingAndGlyphs" class="b" style="font-size:12.6px">4376000</text>
<text transform="translate(981.9 301.1) rotate(-90)" textLength="40" lengthAdjust="spacingAndGlyphs" class="b">4376000</text>
<line x1="730.5" y1="375.1" x2="734.5" y2="375.1" stroke="#000" stroke-width="1.2"/>
<line x1="967.4" y1="375.1" x2="971.4" y2="375.1" stroke="#000" stroke-width="1.2"/>
<rect x="719.1" y="349.4" width="1.9" height="10.6" fill="#ededed"/>
<rect x="972.4" y="349.4" width="1.9" height="10.6" fill="#ededed"/>
<text transform="translate(728.1 401.1) rotate(-90)" textLength="40" lengthAdjust="spacingAndGlyphs" class="b" style="font-size:12.6px">4374000</text>
<text transform="translate(981.9 401.1) rotate(-90)" textLength="40" lengthAdjust="spacingAndGlyphs" class="b">4374000</text>
<line x1="730.5" y1="475.2" x2="734.5" y2="475.2" stroke="#000" stroke-width="1.2"/>
<line x1="967.4" y1="475.2" x2="971.4" y2="475.2" stroke="#000" stroke-width="1.2"/>
<rect x="719.1" y="449.5" width="1.9" height="10.6" fill="#ededed"/>
<rect x="972.4" y="449.5" width="1.9" height="10.6" fill="#ededed"/>
<text transform="translate(728.1 501.2) rotate(-90)" textLength="40" lengthAdjust="spacingAndGlyphs" class="b" style="font-size:12.6px">4372000</text>
<text transform="translate(981.9 501.2) rotate(-90)" textLength="40" lengthAdjust="spacingAndGlyphs" class="b">4372000</text>
<rect x="1004.7" y="24.7" width="3.9" height="25" fill="#000"/>
<rect x="994.3" y="35.1" width="25" height="4.3" fill="#000"/>
<rect x="994.3" y="52.5" width="25" height="3.9" fill="#000"/>
<defs><linearGradient id="gf" x1="0" y1="0" x2="0" y2="1"><stop offset="0" stop-color="#8a2624"/><stop offset="0.024" stop-color="#b04a26"/><stop offset="0.07" stop-color="#eea038"/><stop offset="0.105" stop-color="#f6cc70"/><stop offset="0.14" stop-color="#ece0b8"/><stop offset="0.163" stop-color="#d4d0d4"/><stop offset="0.204" stop-color="#9c9ad0"/><stop offset="0.239" stop-color="#6a68bc"/><stop offset="0.28" stop-color="#3c3ca2"/><stop offset="0.32" stop-color="#2c2c88"/><stop offset="1" stop-color="#2a2a80"/></linearGradient></defs>
<rect x="987.0" y="85.2" width="13.80" height="479.80" fill="url(#gf)"/>
<text x="1005.3" y="90.6" class="b" textLength="16.3" lengthAdjust="spacingAndGlyphs">303</text>
<text x="1005.3" y="105.2" class="b" textLength="16.3" lengthAdjust="spacingAndGlyphs">302</text>
<text x="1005.3" y="129.2" class="b" textLength="16.3" lengthAdjust="spacingAndGlyphs">300</text>
<text x="1005.3" y="152.2" class="b" textLength="16.3" lengthAdjust="spacingAndGlyphs">298</text>
<text x="1005.3" y="175.4" class="b" textLength="16.3" lengthAdjust="spacingAndGlyphs">296</text>
<text x="1005.3" y="199.2" class="b" textLength="16.3" lengthAdjust="spacingAndGlyphs">294</text>
<text x="1005.3" y="222.4" class="b" textLength="16.3" lengthAdjust="spacingAndGlyphs">292</text>
<text x="1005.3" y="245.5" class="b" textLength="16.3" lengthAdjust="spacingAndGlyphs">290</text>
<text x="1005.3" y="268.6" class="b" textLength="16.3" lengthAdjust="spacingAndGlyphs">288</text>
<text x="1005.3" y="291.6" class="b" textLength="16.3" lengthAdjust="spacingAndGlyphs">286</text>
<text x="1005.3" y="314.7" class="b" textLength="16.3" lengthAdjust="spacingAndGlyphs">284</text>
<text x="1005.3" y="337.2" class="b" textLength="16.3" lengthAdjust="spacingAndGlyphs">282</text>
<text x="1005.3" y="360.4" class="b" textLength="16.3" lengthAdjust="spacingAndGlyphs">280</text>
<text x="1005.3" y="383.4" class="b" textLength="16.3" lengthAdjust="spacingAndGlyphs">278</text>
<text x="1005.3" y="406.5" class="b" textLength="16.3" lengthAdjust="spacingAndGlyphs">276</text>
<text x="1005.3" y="429.6" class="b" textLength="16.3" lengthAdjust="spacingAndGlyphs">274</text>
<text x="1005.3" y="452.7" class="b" textLength="16.3" lengthAdjust="spacingAndGlyphs">272</text>
<text x="1005.3" y="475.8" class="b" textLength="16.3" lengthAdjust="spacingAndGlyphs">270</text>
<text x="1005.3" y="498.8" class="b" textLength="16.3" lengthAdjust="spacingAndGlyphs">268</text>
<text x="1005.3" y="521.9" class="b" textLength="16.3" lengthAdjust="spacingAndGlyphs">266</text>
<text x="1005.3" y="545.0" class="b" textLength="16.3" lengthAdjust="spacingAndGlyphs">264</text>
<text x="1005.3" y="568.9" class="b" textLength="16.3" lengthAdjust="spacingAndGlyphs">262</text>
<text x="987.3" y="72.0" class="b" style="font-size:13px">T (K)</text>
<rect x="729.0" y="589.0" width="100.8" height="5.6" fill="#000"/>
<rect x="755.6" y="590.3" width="24.2" height="2.8" fill="#fff"/>
<text x="832.6" y="594.2" class="r" style="font-size:13px">Meters</text>
<text x="727.5" y="608.8" class="r" style="font-size:12.5px">0</text>
<text x="746.2" y="608.8" class="r" style="font-size:12.5px">5001,000</text>
<text x="815.0" y="608.8" class="r" style="font-size:12.5px">2,000</text>
<text x="874.0" y="600.0" class="b" style="font-size:13px">WGS 84, UTM Zone 48 N</text>
<text x="885.1" y="640.3" class="b" style="font-size:25px" text-anchor="middle"><tspan style="font-weight:normal">(</tspan>f<tspan style="font-weight:normal">)</tspan></text>
</svg></body></html>
